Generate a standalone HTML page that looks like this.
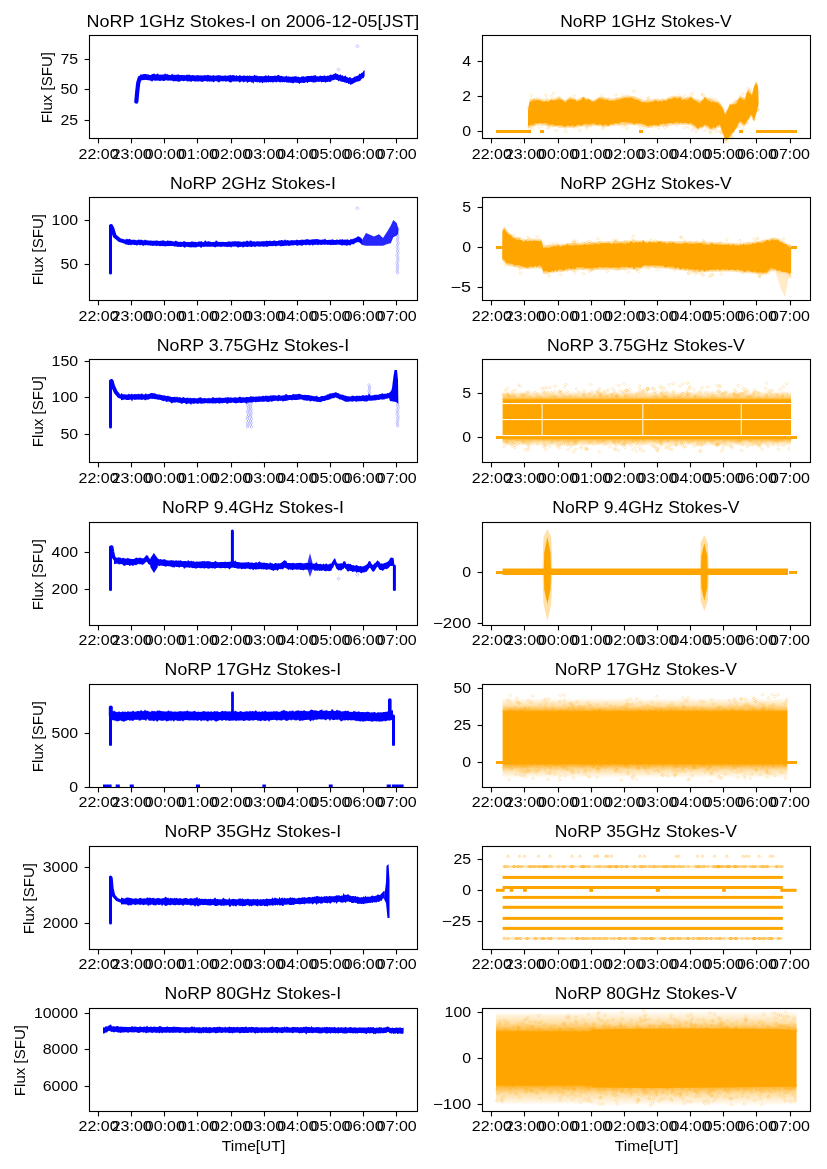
<!DOCTYPE html>
<html><head><meta charset="utf-8"><title>NoRP</title><style>html,body{margin:0;padding:0;background:#fff;width:827px;height:1169px;overflow:hidden}</style></head><body><svg width="827" height="1169" viewBox="0 0 827 1169" style="display:block;will-change:transform">
<defs><linearGradient id="up" x1="0" y1="1" x2="0" y2="0"><stop offset="0" stop-color="#ffa500" stop-opacity="1"/><stop offset="0.15" stop-color="#ffa500" stop-opacity="0.72"/><stop offset="0.45" stop-color="#ffa500" stop-opacity="0.35"/><stop offset="1" stop-color="#ffa500" stop-opacity="0"/></linearGradient><linearGradient id="dn" x1="0" y1="0" x2="0" y2="1"><stop offset="0" stop-color="#ffa500" stop-opacity="1"/><stop offset="0.15" stop-color="#ffa500" stop-opacity="0.72"/><stop offset="0.45" stop-color="#ffa500" stop-opacity="0.35"/><stop offset="1" stop-color="#ffa500" stop-opacity="0"/></linearGradient></defs>
<rect width="827" height="1169" fill="#ffffff"/>
<g>
<polyline points="136.3,101.6 137.3,91.0 138.2,83.2 139.7,78.0 141.0,77.4" fill="none" stroke="#0000ff" stroke-width="4.2" stroke-linejoin="round" stroke-linecap="round"/>
<polygon points="140.0,74.8 141.0,74.5 142.0,74.4 143.0,74.2 144.0,73.9 145.0,74.1 146.0,74.0 147.0,74.5 148.0,74.2 149.0,74.7 150.0,75.1 151.0,75.1 152.0,74.1 153.0,73.9 154.0,73.4 155.0,74.1 156.0,74.8 157.0,73.6 158.0,73.8 159.1,74.7 160.1,74.5 161.1,74.7 162.1,74.6 163.1,74.6 164.1,74.6 165.1,73.2 166.1,74.6 167.1,73.7 168.1,74.8 169.1,74.7 170.1,75.1 171.1,75.1 172.1,73.6 173.1,75.0 174.1,74.6 175.1,75.3 176.1,74.4 177.1,74.9 178.1,73.9 179.1,75.1 180.1,75.1 181.1,75.1 182.1,75.0 183.1,75.2 184.1,74.7 185.1,75.4 186.1,75.1 187.1,74.5 188.1,74.9 189.1,74.5 190.1,74.9 191.1,75.5 192.1,75.0 193.1,75.3 194.1,75.3 195.1,75.6 196.2,75.4 197.2,75.0 198.2,75.3 199.2,75.6 200.2,75.2 201.2,75.5 202.2,75.4 203.2,75.6 204.2,75.2 205.2,74.9 206.2,75.6 207.2,75.0 208.2,74.7 209.2,75.5 210.2,75.3 211.2,75.8 212.2,75.8 213.2,74.9 214.2,75.4 215.2,75.7 216.2,75.5 217.2,75.5 218.2,75.0 219.2,75.6 220.2,75.3 221.2,75.8 222.2,75.8 223.2,75.7 224.2,75.8 225.2,75.2 226.2,75.7 227.2,75.8 228.2,75.6 229.2,75.6 230.2,74.7 231.2,75.6 232.2,75.2 233.2,75.0 234.3,75.3 235.3,75.9 236.3,75.1 237.3,75.9 238.3,75.9 239.3,75.3 240.3,75.3 241.3,76.0 242.3,75.9 243.3,75.6 244.3,75.5 245.3,75.8 246.3,75.9 247.3,75.4 248.3,76.0 249.3,75.5 250.3,75.8 251.3,76.1 252.3,75.8 253.3,76.2 254.3,74.7 255.3,75.6 256.3,75.4 257.3,75.7 258.3,76.3 259.3,76.0 260.3,76.3 261.3,76.0 262.3,76.2 263.3,76.3 264.3,76.0 265.3,75.5 266.3,75.4 267.3,76.3 268.3,75.1 269.3,75.9 270.3,76.1 271.4,76.0 272.4,76.1 273.4,75.9 274.4,75.7 275.4,75.5 276.4,76.1 277.4,75.3 278.4,74.8 279.4,75.5 280.4,76.1 281.4,75.8 282.4,76.3 283.4,76.6 284.4,76.5 285.4,76.6 286.4,75.6 287.4,76.7 288.4,76.2 289.4,76.7 290.4,76.8 291.4,76.7 292.4,76.4 293.4,76.8 294.4,76.3 295.4,76.2 296.4,76.2 297.4,77.0 298.4,76.4 299.4,77.2 300.4,77.2 301.4,76.6 302.4,76.5 303.4,76.3 304.4,76.8 305.4,76.8 306.4,76.3 307.4,76.0 308.5,76.1 309.5,76.0 310.5,75.9 311.5,75.8 312.5,76.0 313.5,75.6 314.5,75.6 315.5,75.0 316.5,76.3 317.5,76.3 318.5,76.4 319.5,75.9 320.5,75.6 321.5,76.0 322.5,75.9 323.5,76.0 324.5,75.3 325.5,75.9 326.5,76.3 327.5,75.5 328.5,75.8 329.5,75.3 330.5,74.5 331.5,74.8 332.5,74.9 333.5,74.0 334.5,73.8 335.5,72.9 336.5,73.7 337.5,74.1 338.5,74.7 339.5,75.0 340.5,74.2 341.5,75.8 342.5,75.0 343.5,76.4 344.5,76.1 345.5,75.4 346.6,77.0 347.6,77.3 348.6,77.9 349.6,76.9 350.6,77.4 351.6,78.4 352.6,78.0 353.6,77.4 354.6,76.5 355.6,76.5 356.6,76.0 357.6,75.7 358.6,75.1 359.6,73.5 360.6,74.1 361.6,72.8 362.6,72.4 363.6,70.8 364.6,70.1 364.6,75.9 363.6,78.2 362.6,78.2 361.6,78.7 360.6,80.4 359.6,81.0 358.6,81.5 357.6,81.4 356.6,81.7 355.6,82.2 354.6,82.7 353.6,83.2 352.6,84.1 351.6,84.3 350.6,84.9 349.6,83.5 348.6,84.2 347.6,82.8 346.6,83.3 345.5,82.5 344.5,82.6 343.5,81.9 342.5,81.7 341.5,81.7 340.5,81.4 339.5,80.5 338.5,81.4 337.5,80.0 336.5,80.0 335.5,79.6 334.5,79.7 333.5,80.3 332.5,80.3 331.5,80.7 330.5,82.1 329.5,81.9 328.5,81.6 327.5,82.0 326.5,82.0 325.5,82.7 324.5,81.9 323.5,81.9 322.5,82.0 321.5,82.4 320.5,81.6 319.5,81.7 318.5,82.1 317.5,81.6 316.5,82.0 315.5,82.2 314.5,82.4 313.5,82.5 312.5,82.2 311.5,82.1 310.5,81.7 309.5,82.1 308.5,82.1 307.4,83.2 306.4,82.0 305.4,82.4 304.4,83.1 303.4,83.1 302.4,82.7 301.4,82.7 300.4,83.1 299.4,83.9 298.4,83.1 297.4,82.7 296.4,82.7 295.4,82.6 294.4,82.4 293.4,83.2 292.4,83.2 291.4,82.8 290.4,82.8 289.4,82.6 288.4,82.7 287.4,82.6 286.4,82.4 285.4,81.9 284.4,82.3 283.4,82.1 282.4,82.6 281.4,81.8 280.4,82.6 279.4,82.2 278.4,81.8 277.4,81.7 276.4,82.5 275.4,82.0 274.4,81.7 273.4,82.6 272.4,82.5 271.4,81.9 270.3,82.3 269.3,82.1 268.3,82.4 267.3,81.7 266.3,82.8 265.3,82.0 264.3,82.6 263.3,82.3 262.3,83.6 261.3,82.0 260.3,82.5 259.3,82.7 258.3,81.7 257.3,82.5 256.3,82.0 255.3,82.0 254.3,81.6 253.3,83.7 252.3,82.3 251.3,82.6 250.3,81.6 249.3,81.9 248.3,81.9 247.3,82.9 246.3,81.5 245.3,81.5 244.3,82.0 243.3,82.5 242.3,81.3 241.3,81.4 240.3,82.3 239.3,82.5 238.3,81.3 237.3,81.6 236.3,81.4 235.3,81.6 234.3,81.6 233.2,81.5 232.2,81.6 231.2,82.5 230.2,82.6 229.2,82.0 228.2,81.3 227.2,81.3 226.2,81.7 225.2,81.6 224.2,81.1 223.2,81.5 222.2,81.3 221.2,81.3 220.2,81.3 219.2,82.4 218.2,82.3 217.2,81.3 216.2,81.3 215.2,81.1 214.2,81.9 213.2,82.3 212.2,81.2 211.2,81.8 210.2,81.2 209.2,81.7 208.2,81.3 207.2,81.8 206.2,81.2 205.2,81.1 204.2,81.3 203.2,81.5 202.2,81.9 201.2,81.8 200.2,81.3 199.2,81.3 198.2,81.8 197.2,81.2 196.2,81.4 195.1,81.6 194.1,81.6 193.1,81.1 192.1,80.9 191.1,82.2 190.1,81.0 189.1,81.4 188.1,81.2 187.1,81.5 186.1,80.7 185.1,80.7 184.1,80.9 183.1,81.2 182.1,80.8 181.1,80.8 180.1,81.5 179.1,81.8 178.1,81.4 177.1,81.4 176.1,80.9 175.1,81.3 174.1,81.3 173.1,81.6 172.1,80.5 171.1,80.7 170.1,80.5 169.1,80.4 168.1,80.7 167.1,80.4 166.1,80.3 165.1,80.4 164.1,81.0 163.1,81.0 162.1,80.4 161.1,80.5 160.1,81.3 159.1,80.8 158.0,80.6 157.0,80.8 156.0,80.4 155.0,81.0 154.0,80.3 153.0,80.4 152.0,81.9 151.0,80.5 150.0,80.8 149.0,80.3 148.0,80.2 147.0,80.0 146.0,80.0 145.0,79.8 144.0,80.2 143.0,79.9 142.0,80.2 141.0,80.5 140.0,80.2" fill="#0000ff"/>
<path d="M338.5 67.9L340.1 69.5L338.5 71.1L336.9 69.5Z" fill="none" stroke="#0000ff" stroke-width="0.7" stroke-opacity="0.35"/>
<path d="M357.4 44.7L359.0 46.3L357.4 47.9L355.8 46.3Z" fill="none" stroke="#0000ff" stroke-width="0.7" stroke-opacity="0.35"/>
<rect x="496.0" y="130.0" width="35.0" height="3.0" fill="#ffa500"/>
<rect x="540.0" y="130.0" width="4.0" height="3.0" fill="#ffa500"/>
<rect x="639.0" y="130.0" width="4.0" height="3.0" fill="#ffa500"/>
<rect x="739.0" y="130.0" width="4.0" height="3.0" fill="#ffa500"/>
<rect x="756.0" y="130.0" width="41.0" height="3.0" fill="#ffa500"/>
<polygon points="528.0,108.0 529.5,101.0 533.0,98.5 537.0,97.6 545.0,99.5 560.0,97.0 565.0,100.0 570.0,96.5 577.0,99.0 583.0,96.5 593.0,100.0 600.0,96.5 612.0,98.5 620.0,97.0 632.0,95.5 643.0,100.0 655.0,99.0 665.0,99.0 673.0,95.5 685.0,98.0 690.0,96.0 700.0,100.8 705.0,96.0 712.0,99.9 718.0,100.8 722.0,105.0 725.0,112.5 730.0,103.8 736.4,100.8 740.0,95.0 745.0,98.0 748.0,88.3 752.0,93.0 755.8,80.5 758.0,84.0 758.5,101.0 758.5,107.0 754.0,122.3 751.0,116.5 747.0,123.3 744.0,127.2 740.0,123.3 735.0,131.0 729.0,139.7 725.0,141.0 720.0,127.2 712.0,130.0 705.0,127.2 698.0,130.0 690.0,125.0 675.0,125.0 665.0,126.0 650.0,128.0 640.0,126.0 625.0,124.5 605.0,127.0 593.0,126.0 577.0,127.0 565.0,128.5 555.0,127.0 540.0,125.0 528.0,127.7" fill="#ffa500" fill-opacity="0.3"/>
<polygon points="528.0,109.5 529.5,102.5 533.0,100.0 537.0,99.1 545.0,101.0 560.0,98.5 565.0,101.5 570.0,98.0 577.0,100.5 583.0,98.0 593.0,101.5 600.0,98.0 612.0,100.0 620.0,98.5 632.0,97.0 643.0,101.5 655.0,100.5 665.0,100.5 673.0,97.0 685.0,99.5 690.0,97.5 700.0,102.3 705.0,97.5 712.0,101.4 718.0,102.3 722.0,106.5 725.0,114.0 730.0,105.3 736.4,102.3 740.0,96.5 745.0,99.5 748.0,89.8 752.0,94.5 755.8,82.0 758.0,85.5 758.5,102.5 758.5,105.5 754.0,120.8 751.0,115.0 747.0,121.8 744.0,125.7 740.0,121.8 735.0,129.5 729.0,138.2 725.0,139.5 720.0,125.7 712.0,128.5 705.0,125.7 698.0,128.5 690.0,123.5 675.0,123.5 665.0,124.5 650.0,126.5 640.0,124.5 625.0,123.0 605.0,125.5 593.0,124.5 577.0,125.5 565.0,127.0 555.0,125.5 540.0,123.5 528.0,126.2" fill="#ffa500" fill-opacity="0.3"/>
<path d="M713.1 101.1l1.5 1.5l-1.5 1.5l-1.5 -1.5zM680.7 96.4l1.5 1.5l-1.5 1.5l-1.5 -1.5zM711.7 99.9l1.5 1.5l-1.5 1.5l-1.5 -1.5zM748.2 86.8l1.5 1.5l-1.5 1.5l-1.5 -1.5zM631.5 96.7l1.5 1.5l-1.5 1.5l-1.5 -1.5zM587.5 99.2l1.5 1.5l-1.5 1.5l-1.5 -1.5zM648.1 97.0l1.5 1.5l-1.5 1.5l-1.5 -1.5zM699.1 99.3l1.5 1.5l-1.5 1.5l-1.5 -1.5zM626.4 96.9l1.5 1.5l-1.5 1.5l-1.5 -1.5zM713.3 98.8l1.5 1.5l-1.5 1.5l-1.5 -1.5zM681.0 96.6l1.5 1.5l-1.5 1.5l-1.5 -1.5zM710.2 98.2l1.5 1.5l-1.5 1.5l-1.5 -1.5zM588.7 98.8l1.5 1.5l-1.5 1.5l-1.5 -1.5zM599.4 97.4l1.5 1.5l-1.5 1.5l-1.5 -1.5zM735.1 99.8l1.5 1.5l-1.5 1.5l-1.5 -1.5zM669.4 97.1l1.5 1.5l-1.5 1.5l-1.5 -1.5zM639.9 99.9l1.5 1.5l-1.5 1.5l-1.5 -1.5zM637.4 97.0l1.5 1.5l-1.5 1.5l-1.5 -1.5zM608.7 97.7l1.5 1.5l-1.5 1.5l-1.5 -1.5zM758.3 90.8l1.5 1.5l-1.5 1.5l-1.5 -1.5zM545.8 93.6l1.5 1.5l-1.5 1.5l-1.5 -1.5zM711.1 96.7l1.5 1.5l-1.5 1.5l-1.5 -1.5zM713.5 101.0l1.5 1.5l-1.5 1.5l-1.5 -1.5zM558.4 96.2l1.5 1.5l-1.5 1.5l-1.5 -1.5zM718.8 102.9l1.5 1.5l-1.5 1.5l-1.5 -1.5zM531.3 93.9l1.5 1.5l-1.5 1.5l-1.5 -1.5zM737.8 99.4l1.5 1.5l-1.5 1.5l-1.5 -1.5zM719.1 102.6l1.5 1.5l-1.5 1.5l-1.5 -1.5zM722.0 106.4l1.5 1.5l-1.5 1.5l-1.5 -1.5zM668.2 98.4l1.5 1.5l-1.5 1.5l-1.5 -1.5zM674.6 97.3l1.5 1.5l-1.5 1.5l-1.5 -1.5zM677.2 97.6l1.5 1.5l-1.5 1.5l-1.5 -1.5zM630.3 97.0l1.5 1.5l-1.5 1.5l-1.5 -1.5zM616.4 98.7l1.5 1.5l-1.5 1.5l-1.5 -1.5zM603.6 97.0l1.5 1.5l-1.5 1.5l-1.5 -1.5zM679.9 95.9l1.5 1.5l-1.5 1.5l-1.5 -1.5zM648.7 96.2l1.5 1.5l-1.5 1.5l-1.5 -1.5zM622.7 97.8l1.5 1.5l-1.5 1.5l-1.5 -1.5zM686.0 98.0l1.5 1.5l-1.5 1.5l-1.5 -1.5zM743.5 97.3l1.5 1.5l-1.5 1.5l-1.5 -1.5zM531.2 100.2l1.5 1.5l-1.5 1.5l-1.5 -1.5zM749.2 89.6l1.5 1.5l-1.5 1.5l-1.5 -1.5zM717.7 101.1l1.5 1.5l-1.5 1.5l-1.5 -1.5zM668.2 98.9l1.5 1.5l-1.5 1.5l-1.5 -1.5zM574.7 99.4l1.5 1.5l-1.5 1.5l-1.5 -1.5zM620.8 97.4l1.5 1.5l-1.5 1.5l-1.5 -1.5zM656.6 97.9l1.5 1.5l-1.5 1.5l-1.5 -1.5zM583.3 97.3l1.5 1.5l-1.5 1.5l-1.5 -1.5zM533.7 99.5l1.5 1.5l-1.5 1.5l-1.5 -1.5zM615.9 93.5l1.5 1.5l-1.5 1.5l-1.5 -1.5zM571.4 97.2l1.5 1.5l-1.5 1.5l-1.5 -1.5zM531.0 99.2l1.5 1.5l-1.5 1.5l-1.5 -1.5zM625.0 96.9l1.5 1.5l-1.5 1.5l-1.5 -1.5zM617.9 98.1l1.5 1.5l-1.5 1.5l-1.5 -1.5zM622.1 97.7l1.5 1.5l-1.5 1.5l-1.5 -1.5zM692.2 91.8l1.5 1.5l-1.5 1.5l-1.5 -1.5zM737.0 100.2l1.5 1.5l-1.5 1.5l-1.5 -1.5zM530.7 98.0l1.5 1.5l-1.5 1.5l-1.5 -1.5zM634.4 96.0l1.5 1.5l-1.5 1.5l-1.5 -1.5zM679.2 94.1l1.5 1.5l-1.5 1.5l-1.5 -1.5zM647.4 99.7l1.5 1.5l-1.5 1.5l-1.5 -1.5zM558.3 98.7l1.5 1.5l-1.5 1.5l-1.5 -1.5zM566.1 100.3l1.5 1.5l-1.5 1.5l-1.5 -1.5zM744.9 97.3l1.5 1.5l-1.5 1.5l-1.5 -1.5zM534.3 98.7l1.5 1.5l-1.5 1.5l-1.5 -1.5zM623.0 93.6l1.5 1.5l-1.5 1.5l-1.5 -1.5zM623.3 96.1l1.5 1.5l-1.5 1.5l-1.5 -1.5zM588.9 99.1l1.5 1.5l-1.5 1.5l-1.5 -1.5zM546.4 97.0l1.5 1.5l-1.5 1.5l-1.5 -1.5zM640.7 97.3l1.5 1.5l-1.5 1.5l-1.5 -1.5zM659.9 100.3l1.5 1.5l-1.5 1.5l-1.5 -1.5zM590.0 99.5l1.5 1.5l-1.5 1.5l-1.5 -1.5zM708.5 98.4l1.5 1.5l-1.5 1.5l-1.5 -1.5zM750.6 88.8l1.5 1.5l-1.5 1.5l-1.5 -1.5zM687.2 96.7l1.5 1.5l-1.5 1.5l-1.5 -1.5zM687.6 97.4l1.5 1.5l-1.5 1.5l-1.5 -1.5zM551.6 95.0l1.5 1.5l-1.5 1.5l-1.5 -1.5zM633.9 89.8l1.5 1.5l-1.5 1.5l-1.5 -1.5zM696.7 98.6l1.5 1.5l-1.5 1.5l-1.5 -1.5zM626.4 94.8l1.5 1.5l-1.5 1.5l-1.5 -1.5zM583.9 97.2l1.5 1.5l-1.5 1.5l-1.5 -1.5zM601.7 94.0l1.5 1.5l-1.5 1.5l-1.5 -1.5zM746.9 93.0l1.5 1.5l-1.5 1.5l-1.5 -1.5zM533.6 98.8l1.5 1.5l-1.5 1.5l-1.5 -1.5zM685.3 97.9l1.5 1.5l-1.5 1.5l-1.5 -1.5zM703.2 93.9l1.5 1.5l-1.5 1.5l-1.5 -1.5zM681.5 98.4l1.5 1.5l-1.5 1.5l-1.5 -1.5zM662.9 98.0l1.5 1.5l-1.5 1.5l-1.5 -1.5zM573.0 99.0l1.5 1.5l-1.5 1.5l-1.5 -1.5zM684.3 94.2l1.5 1.5l-1.5 1.5l-1.5 -1.5zM574.3 94.4l1.5 1.5l-1.5 1.5l-1.5 -1.5zM601.2 97.2l1.5 1.5l-1.5 1.5l-1.5 -1.5zM715.5 98.0l1.5 1.5l-1.5 1.5l-1.5 -1.5zM742.6 92.7l1.5 1.5l-1.5 1.5l-1.5 -1.5zM528.5 106.3l1.5 1.5l-1.5 1.5l-1.5 -1.5zM662.3 99.8l1.5 1.5l-1.5 1.5l-1.5 -1.5zM724.2 108.6l1.5 1.5l-1.5 1.5l-1.5 -1.5zM702.3 92.9l1.5 1.5l-1.5 1.5l-1.5 -1.5zM691.1 94.3l1.5 1.5l-1.5 1.5l-1.5 -1.5zM559.3 96.8l1.5 1.5l-1.5 1.5l-1.5 -1.5zM746.7 91.7l1.5 1.5l-1.5 1.5l-1.5 -1.5zM602.3 98.1l1.5 1.5l-1.5 1.5l-1.5 -1.5zM558.9 98.4l1.5 1.5l-1.5 1.5l-1.5 -1.5zM691.8 97.4l1.5 1.5l-1.5 1.5l-1.5 -1.5zM628.2 94.8l1.5 1.5l-1.5 1.5l-1.5 -1.5zM678.6 97.1l1.5 1.5l-1.5 1.5l-1.5 -1.5zM616.9 97.7l1.5 1.5l-1.5 1.5l-1.5 -1.5zM630.5 96.9l1.5 1.5l-1.5 1.5l-1.5 -1.5zM675.9 95.6l1.5 1.5l-1.5 1.5l-1.5 -1.5zM553.7 91.6l1.5 1.5l-1.5 1.5l-1.5 -1.5z" fill="none" stroke="#ffa500" stroke-width="0.8" stroke-opacity="0.3"/>
<path d="M591.4 122.6l1.5 1.5l-1.5 1.5l-1.5 -1.5zM707.9 125.6l1.5 1.5l-1.5 1.5l-1.5 -1.5zM658.6 126.0l1.5 1.5l-1.5 1.5l-1.5 -1.5zM701.3 125.0l1.5 1.5l-1.5 1.5l-1.5 -1.5zM640.3 125.7l1.5 1.5l-1.5 1.5l-1.5 -1.5zM731.5 136.6l1.5 1.5l-1.5 1.5l-1.5 -1.5zM712.3 128.1l1.5 1.5l-1.5 1.5l-1.5 -1.5zM534.0 123.0l1.5 1.5l-1.5 1.5l-1.5 -1.5zM691.4 122.1l1.5 1.5l-1.5 1.5l-1.5 -1.5zM542.5 123.1l1.5 1.5l-1.5 1.5l-1.5 -1.5zM705.1 128.6l1.5 1.5l-1.5 1.5l-1.5 -1.5zM631.4 120.7l1.5 1.5l-1.5 1.5l-1.5 -1.5zM684.7 126.1l1.5 1.5l-1.5 1.5l-1.5 -1.5zM647.4 125.0l1.5 1.5l-1.5 1.5l-1.5 -1.5zM549.3 122.7l1.5 1.5l-1.5 1.5l-1.5 -1.5zM664.5 125.6l1.5 1.5l-1.5 1.5l-1.5 -1.5zM602.8 126.8l1.5 1.5l-1.5 1.5l-1.5 -1.5zM663.6 123.7l1.5 1.5l-1.5 1.5l-1.5 -1.5zM574.3 125.8l1.5 1.5l-1.5 1.5l-1.5 -1.5zM559.6 124.5l1.5 1.5l-1.5 1.5l-1.5 -1.5zM732.3 135.4l1.5 1.5l-1.5 1.5l-1.5 -1.5zM745.7 121.0l1.5 1.5l-1.5 1.5l-1.5 -1.5zM736.5 125.8l1.5 1.5l-1.5 1.5l-1.5 -1.5zM565.9 129.6l1.5 1.5l-1.5 1.5l-1.5 -1.5zM747.0 121.6l1.5 1.5l-1.5 1.5l-1.5 -1.5zM579.8 128.8l1.5 1.5l-1.5 1.5l-1.5 -1.5zM692.3 128.4l1.5 1.5l-1.5 1.5l-1.5 -1.5zM696.1 130.2l1.5 1.5l-1.5 1.5l-1.5 -1.5zM717.0 130.2l1.5 1.5l-1.5 1.5l-1.5 -1.5zM627.1 126.5l1.5 1.5l-1.5 1.5l-1.5 -1.5zM623.4 124.5l1.5 1.5l-1.5 1.5l-1.5 -1.5zM675.7 120.5l1.5 1.5l-1.5 1.5l-1.5 -1.5zM606.2 123.1l1.5 1.5l-1.5 1.5l-1.5 -1.5zM530.8 123.5l1.5 1.5l-1.5 1.5l-1.5 -1.5zM587.3 122.1l1.5 1.5l-1.5 1.5l-1.5 -1.5zM586.9 126.8l1.5 1.5l-1.5 1.5l-1.5 -1.5zM577.7 125.5l1.5 1.5l-1.5 1.5l-1.5 -1.5zM756.6 108.9l1.5 1.5l-1.5 1.5l-1.5 -1.5zM691.9 122.1l1.5 1.5l-1.5 1.5l-1.5 -1.5zM570.6 124.2l1.5 1.5l-1.5 1.5l-1.5 -1.5zM739.6 124.7l1.5 1.5l-1.5 1.5l-1.5 -1.5zM549.2 125.6l1.5 1.5l-1.5 1.5l-1.5 -1.5zM547.5 122.6l1.5 1.5l-1.5 1.5l-1.5 -1.5zM758.5 108.0l1.5 1.5l-1.5 1.5l-1.5 -1.5zM553.3 124.4l1.5 1.5l-1.5 1.5l-1.5 -1.5zM624.9 122.8l1.5 1.5l-1.5 1.5l-1.5 -1.5zM725.9 138.2l1.5 1.5l-1.5 1.5l-1.5 -1.5zM742.9 127.3l1.5 1.5l-1.5 1.5l-1.5 -1.5zM565.7 124.1l1.5 1.5l-1.5 1.5l-1.5 -1.5zM573.6 124.7l1.5 1.5l-1.5 1.5l-1.5 -1.5zM688.2 125.3l1.5 1.5l-1.5 1.5l-1.5 -1.5zM696.5 127.2l1.5 1.5l-1.5 1.5l-1.5 -1.5zM666.5 124.0l1.5 1.5l-1.5 1.5l-1.5 -1.5zM620.2 123.3l1.5 1.5l-1.5 1.5l-1.5 -1.5zM720.8 129.6l1.5 1.5l-1.5 1.5l-1.5 -1.5zM693.6 125.6l1.5 1.5l-1.5 1.5l-1.5 -1.5zM544.7 122.1l1.5 1.5l-1.5 1.5l-1.5 -1.5zM633.0 121.7l1.5 1.5l-1.5 1.5l-1.5 -1.5zM573.7 124.1l1.5 1.5l-1.5 1.5l-1.5 -1.5zM720.1 123.8l1.5 1.5l-1.5 1.5l-1.5 -1.5zM743.6 122.4l1.5 1.5l-1.5 1.5l-1.5 -1.5zM625.3 123.2l1.5 1.5l-1.5 1.5l-1.5 -1.5zM702.0 123.9l1.5 1.5l-1.5 1.5l-1.5 -1.5zM554.5 122.6l1.5 1.5l-1.5 1.5l-1.5 -1.5zM658.3 122.6l1.5 1.5l-1.5 1.5l-1.5 -1.5zM619.4 121.5l1.5 1.5l-1.5 1.5l-1.5 -1.5zM551.6 123.2l1.5 1.5l-1.5 1.5l-1.5 -1.5zM628.4 122.5l1.5 1.5l-1.5 1.5l-1.5 -1.5zM607.6 122.4l1.5 1.5l-1.5 1.5l-1.5 -1.5zM603.8 125.4l1.5 1.5l-1.5 1.5l-1.5 -1.5zM528.8 124.9l1.5 1.5l-1.5 1.5l-1.5 -1.5zM532.5 127.2l1.5 1.5l-1.5 1.5l-1.5 -1.5zM573.3 124.9l1.5 1.5l-1.5 1.5l-1.5 -1.5zM549.1 123.7l1.5 1.5l-1.5 1.5l-1.5 -1.5zM710.7 131.1l1.5 1.5l-1.5 1.5l-1.5 -1.5zM710.0 130.3l1.5 1.5l-1.5 1.5l-1.5 -1.5zM529.8 126.9l1.5 1.5l-1.5 1.5l-1.5 -1.5zM539.3 125.8l1.5 1.5l-1.5 1.5l-1.5 -1.5zM757.7 108.5l1.5 1.5l-1.5 1.5l-1.5 -1.5zM667.8 124.5l1.5 1.5l-1.5 1.5l-1.5 -1.5zM548.0 126.5l1.5 1.5l-1.5 1.5l-1.5 -1.5zM548.1 122.3l1.5 1.5l-1.5 1.5l-1.5 -1.5zM590.3 124.6l1.5 1.5l-1.5 1.5l-1.5 -1.5zM618.7 122.0l1.5 1.5l-1.5 1.5l-1.5 -1.5zM643.7 125.7l1.5 1.5l-1.5 1.5l-1.5 -1.5zM721.6 131.7l1.5 1.5l-1.5 1.5l-1.5 -1.5zM593.3 121.7l1.5 1.5l-1.5 1.5l-1.5 -1.5zM549.7 122.1l1.5 1.5l-1.5 1.5l-1.5 -1.5zM699.9 125.0l1.5 1.5l-1.5 1.5l-1.5 -1.5zM702.4 123.8l1.5 1.5l-1.5 1.5l-1.5 -1.5zM686.3 121.2l1.5 1.5l-1.5 1.5l-1.5 -1.5zM676.7 124.1l1.5 1.5l-1.5 1.5l-1.5 -1.5zM678.9 120.7l1.5 1.5l-1.5 1.5l-1.5 -1.5zM532.8 123.3l1.5 1.5l-1.5 1.5l-1.5 -1.5zM737.1 124.9l1.5 1.5l-1.5 1.5l-1.5 -1.5zM588.6 123.4l1.5 1.5l-1.5 1.5l-1.5 -1.5zM717.1 124.3l1.5 1.5l-1.5 1.5l-1.5 -1.5zM556.4 129.0l1.5 1.5l-1.5 1.5l-1.5 -1.5zM625.8 121.5l1.5 1.5l-1.5 1.5l-1.5 -1.5zM599.7 122.8l1.5 1.5l-1.5 1.5l-1.5 -1.5zM726.7 140.0l1.5 1.5l-1.5 1.5l-1.5 -1.5zM586.6 125.1l1.5 1.5l-1.5 1.5l-1.5 -1.5zM739.8 120.4l1.5 1.5l-1.5 1.5l-1.5 -1.5zM754.1 117.7l1.5 1.5l-1.5 1.5l-1.5 -1.5zM721.1 130.5l1.5 1.5l-1.5 1.5l-1.5 -1.5zM586.1 122.7l1.5 1.5l-1.5 1.5l-1.5 -1.5zM590.7 122.0l1.5 1.5l-1.5 1.5l-1.5 -1.5zM715.0 127.5l1.5 1.5l-1.5 1.5l-1.5 -1.5zM709.6 127.1l1.5 1.5l-1.5 1.5l-1.5 -1.5zM588.3 122.0l1.5 1.5l-1.5 1.5l-1.5 -1.5z" fill="none" stroke="#ffa500" stroke-width="0.8" stroke-opacity="0.3"/>
<polygon points="528.0,110.9 529.5,102.2 531.2,101.5 533.0,101.3 535.0,100.7 537.0,99.9 538.6,100.3 540.2,100.2 541.8,101.5 543.4,101.6 545.0,101.5 546.5,100.9 548.0,101.5 549.5,101.2 551.0,99.5 552.5,100.1 554.0,100.7 555.5,99.7 557.0,99.9 558.5,99.5 560.0,99.7 561.7,99.8 563.3,100.5 565.0,102.7 566.7,101.0 568.3,99.8 570.0,99.0 571.8,99.4 573.5,100.1 575.2,99.6 577.0,101.9 578.5,100.5 580.0,100.6 581.5,99.6 583.0,97.0 584.7,99.1 586.3,100.6 588.0,98.9 589.7,99.8 591.3,101.4 593.0,101.4 594.8,101.2 596.5,99.9 598.2,98.9 600.0,97.9 601.5,99.5 603.0,99.1 604.5,100.2 606.0,99.5 607.5,99.8 609.0,100.8 610.5,100.9 612.0,100.0 613.6,101.0 615.2,100.7 616.8,100.1 618.4,99.9 620.0,99.0 621.5,99.2 623.0,98.7 624.5,98.1 626.0,97.9 627.5,98.5 629.0,97.8 630.5,97.9 632.0,97.9 633.6,98.9 635.1,99.6 636.7,100.0 638.3,99.8 639.9,101.6 641.4,102.3 643.0,102.1 644.5,102.3 646.0,102.5 647.5,102.5 649.0,102.4 650.5,102.1 652.0,101.7 653.5,101.5 655.0,100.3 656.7,101.1 658.3,101.7 660.0,100.9 661.7,101.9 663.3,100.6 665.0,100.6 666.6,100.9 668.2,99.4 669.8,99.1 671.4,99.0 673.0,98.2 674.5,96.9 676.0,98.7 677.5,99.0 679.0,98.1 680.5,97.8 682.0,100.4 683.5,99.8 685.0,99.6 686.7,100.0 688.3,99.6 690.0,97.4 691.7,97.6 693.3,99.8 695.0,100.4 696.7,101.6 698.3,102.5 700.0,103.4 701.7,100.7 703.3,99.9 705.0,96.7 706.8,99.8 708.5,100.7 710.2,101.6 712.0,102.2 713.5,101.7 715.0,102.7 716.5,102.3 718.0,103.6 720.0,105.2 722.0,107.1 723.5,110.2 725.0,114.9 726.7,112.1 728.3,108.5 730.0,104.0 731.6,105.2 733.2,104.1 734.8,104.4 736.4,103.4 738.2,100.2 740.0,97.4 741.7,98.6 743.3,99.9 745.0,100.1 746.5,93.6 748.0,91.3 750.0,93.5 752.0,95.4 753.9,87.6 755.8,82.9 758.0,86.6 758.5,104.0 758.5,104.0 757.0,110.0 755.5,115.8 754.0,120.7 752.5,116.7 751.0,114.3 749.0,118.6 747.0,120.7 745.5,122.8 744.0,124.6 742.0,122.4 740.0,121.1 738.3,123.6 736.7,127.1 735.0,129.8 733.5,132.3 732.0,132.7 730.5,135.2 729.0,137.6 727.0,139.5 725.0,138.7 723.3,133.5 721.7,129.5 720.0,124.4 718.4,125.0 716.8,125.8 715.2,128.4 713.6,126.7 712.0,128.4 710.2,128.7 708.5,125.9 706.8,125.8 705.0,124.5 703.2,125.9 701.5,126.7 699.8,126.4 698.0,129.3 696.4,127.1 694.8,125.6 693.2,124.2 691.6,123.3 690.0,122.8 688.5,123.9 687.0,123.2 685.5,122.4 684.0,122.9 682.5,123.6 681.0,122.2 679.5,123.4 678.0,122.1 676.5,122.4 675.0,122.3 673.3,124.0 671.7,123.1 670.0,122.9 668.3,123.3 666.7,123.4 665.0,124.3 663.5,123.2 662.0,123.9 660.5,124.1 659.0,125.7 657.5,125.3 656.0,125.4 654.5,124.7 653.0,125.1 651.5,126.1 650.0,125.2 648.3,126.7 646.7,125.8 645.0,124.7 643.3,124.3 641.7,123.6 640.0,123.5 638.5,123.0 637.0,123.6 635.5,123.3 634.0,124.7 632.5,123.0 631.0,122.7 629.5,122.8 628.0,122.6 626.5,122.0 625.0,121.9 623.5,122.1 621.9,122.3 620.4,122.3 618.8,122.9 617.3,123.6 615.8,123.1 614.2,124.0 612.7,124.6 611.2,123.7 609.6,125.0 608.1,126.2 606.5,124.5 605.0,124.6 603.5,125.8 602.0,125.2 600.5,124.2 599.0,124.2 597.5,124.9 596.0,124.5 594.5,123.7 593.0,123.1 591.4,124.0 589.8,123.8 588.2,124.3 586.6,123.5 585.0,123.8 583.4,124.4 581.8,125.7 580.2,125.4 578.6,124.5 577.0,125.2 575.5,126.3 574.0,126.1 572.5,124.7 571.0,126.0 569.5,126.1 568.0,125.4 566.5,125.4 565.0,127.1 563.3,126.2 561.7,125.5 560.0,124.8 558.3,125.3 556.7,125.5 555.0,125.4 553.5,124.4 552.0,124.3 550.5,124.6 549.0,124.2 547.5,123.6 546.0,122.9 544.5,122.7 543.0,123.3 541.5,123.2 540.0,122.8 538.5,123.4 537.0,123.3 535.5,123.1 534.0,124.4 532.5,124.3 531.0,124.9 529.5,125.0 528.0,126.5" fill="#ffa500"/>
<polyline points="110.5,273.0 110.5,226.0" fill="none" stroke="#0000ff" stroke-width="3.0" stroke-linejoin="round" stroke-linecap="round"/>
<polyline points="111.0,226.0 112.5,229.0 114.7,236.0 119.8,240.2 126.0,242.0" fill="none" stroke="#0000ff" stroke-width="4" stroke-linejoin="round" stroke-linecap="round"/>
<polygon points="125.0,239.8 126.0,239.4 127.0,238.6 128.0,239.6 129.0,239.0 130.0,238.8 131.0,239.9 132.0,239.7 133.0,239.8 134.0,239.8 135.0,239.8 136.0,240.2 137.0,240.2 138.0,239.8 139.0,239.5 140.0,240.1 141.0,239.4 142.0,239.9 143.0,240.2 144.0,240.5 145.0,239.5 146.0,240.0 147.0,240.5 148.0,240.3 149.0,240.7 150.0,240.4 151.0,240.5 152.0,240.8 153.0,240.7 154.0,240.8 155.0,240.8 156.0,240.6 157.0,240.6 158.0,240.8 159.0,241.0 160.0,241.0 161.0,240.6 162.0,241.0 163.0,240.1 164.0,240.8 165.0,241.1 166.0,241.2 167.0,240.8 168.0,240.3 169.0,241.3 170.0,240.6 171.0,241.0 172.0,240.9 173.0,241.5 174.0,241.5 175.0,241.3 176.0,240.5 177.0,241.4 178.0,241.5 179.0,241.9 180.0,241.7 181.0,241.8 182.0,242.0 183.0,241.7 184.0,241.1 185.0,241.5 186.0,242.1 187.0,242.1 188.0,242.1 189.0,242.0 190.0,242.1 191.0,241.8 192.0,241.2 193.0,241.8 194.0,241.8 195.0,242.1 196.0,241.8 197.0,242.2 198.0,242.1 199.0,241.0 200.0,241.9 201.0,241.0 202.0,241.6 203.0,242.2 204.0,241.9 205.0,240.3 206.0,241.1 207.0,242.1 208.0,241.0 209.0,241.4 210.0,241.5 211.0,241.9 212.0,242.0 213.0,242.0 214.0,241.7 215.0,242.1 216.0,240.3 217.0,241.0 218.0,242.0 219.0,241.7 220.0,241.9 221.0,241.7 222.0,242.0 223.0,241.8 224.0,241.9 225.0,242.0 226.0,242.0 227.0,242.0 228.0,241.6 229.0,241.3 230.0,241.7 231.0,241.6 232.0,241.7 233.0,240.9 234.0,241.8 235.0,240.8 236.0,241.4 237.0,241.6 238.0,240.9 239.0,241.4 240.0,241.5 241.0,241.8 242.0,241.9 243.0,241.4 244.0,241.2 245.0,241.7 246.0,241.3 247.0,240.4 248.0,241.1 249.0,241.8 250.0,240.6 251.0,240.4 252.0,241.2 253.0,241.4 254.0,241.2 255.0,241.4 256.0,241.7 257.0,241.0 258.0,241.5 259.0,241.3 260.0,241.6 261.0,241.6 262.0,240.9 263.0,241.5 264.0,240.8 265.0,241.4 266.0,240.8 267.0,240.7 268.0,241.1 269.0,241.0 270.0,240.5 271.0,241.2 272.0,240.9 273.0,241.1 274.0,240.3 275.0,240.8 276.0,240.9 277.0,241.1 278.0,241.0 279.0,240.1 280.0,240.8 281.0,239.9 282.0,240.0 283.0,240.6 284.0,240.5 285.0,239.3 286.0,240.5 287.0,240.3 288.0,240.1 289.0,240.7 290.0,240.5 291.0,240.3 292.0,239.9 293.0,240.6 294.0,239.9 295.0,240.4 296.0,240.1 297.0,239.6 298.0,240.3 299.0,240.1 300.0,240.3 301.0,239.8 302.0,239.4 303.0,240.1 304.0,239.4 305.0,239.9 306.0,238.9 307.0,239.6 308.0,239.0 309.0,239.7 310.0,239.7 311.0,239.8 312.0,239.3 313.0,239.6 314.0,238.9 315.0,239.6 316.0,239.1 317.0,238.9 318.0,239.2 319.0,239.5 320.0,239.8 321.0,239.7 322.0,239.7 323.0,239.3 324.0,239.7 325.0,238.6 326.0,239.7 327.0,239.9 328.0,239.9 329.0,239.8 330.0,239.8 331.0,239.9 332.0,239.3 333.0,239.6 334.0,239.9 335.0,239.9 336.0,240.0 337.0,239.2 338.0,240.0 339.0,240.0 340.0,239.0 341.0,239.9 342.0,238.9 343.0,239.6 344.0,239.9 345.0,239.2 346.0,240.1 347.0,239.3 348.0,239.4 349.0,240.2 350.0,239.7 351.0,238.8 352.0,239.6 353.0,238.8 354.0,238.4 355.0,238.3 356.0,237.5 357.0,237.2 358.0,236.0 359.0,236.7 360.0,237.0 361.0,238.1 362.0,238.9 362.0,244.9 361.0,243.8 360.0,242.9 359.0,242.3 358.0,242.0 357.0,242.5 356.0,242.5 355.0,243.2 354.0,244.1 353.0,244.6 352.0,244.1 351.0,244.7 350.0,245.7 349.0,244.9 348.0,245.1 347.0,246.3 346.0,244.9 345.0,245.5 344.0,245.1 343.0,245.3 342.0,245.8 341.0,244.8 340.0,245.1 339.0,244.6 338.0,244.7 337.0,244.5 336.0,245.1 335.0,244.7 334.0,244.9 333.0,245.1 332.0,244.7 331.0,245.3 330.0,244.9 329.0,244.5 328.0,244.9 327.0,244.7 326.0,244.5 325.0,244.7 324.0,244.9 323.0,244.3 322.0,245.1 321.0,244.9 320.0,244.7 319.0,244.5 318.0,245.6 317.0,244.5 316.0,244.7 315.0,244.9 314.0,244.5 313.0,245.7 312.0,244.9 311.0,244.5 310.0,245.6 309.0,245.3 308.0,244.8 307.0,244.8 306.0,245.5 305.0,244.7 304.0,244.9 303.0,245.0 302.0,246.0 301.0,245.2 300.0,245.6 299.0,245.0 298.0,245.4 297.0,246.0 296.0,245.1 295.0,245.1 294.0,245.2 293.0,245.4 292.0,245.2 291.0,245.6 290.0,245.5 289.0,246.3 288.0,245.5 287.0,245.5 286.0,246.0 285.0,245.6 284.0,246.3 283.0,246.0 282.0,246.0 281.0,246.6 280.0,245.9 279.0,245.6 278.0,245.8 277.0,245.8 276.0,246.4 275.0,246.0 274.0,245.8 273.0,246.3 272.0,246.0 271.0,246.2 270.0,245.9 269.0,246.3 268.0,246.3 267.0,247.2 266.0,246.3 265.0,246.4 264.0,246.7 263.0,246.7 262.0,246.2 261.0,246.6 260.0,246.8 259.0,246.6 258.0,246.6 257.0,246.3 256.0,246.5 255.0,247.2 254.0,246.5 253.0,246.5 252.0,246.8 251.0,247.2 250.0,246.6 249.0,246.4 248.0,247.0 247.0,247.0 246.0,246.7 245.0,246.4 244.0,247.0 243.0,247.7 242.0,246.4 241.0,246.9 240.0,246.7 239.0,247.2 238.0,247.4 237.0,246.9 236.0,246.6 235.0,246.5 234.0,246.6 233.0,246.8 232.0,246.5 231.0,247.7 230.0,246.6 229.0,247.0 228.0,246.8 227.0,247.2 226.0,246.6 225.0,247.0 224.0,246.6 223.0,246.6 222.0,246.7 221.0,246.9 220.0,246.8 219.0,246.5 218.0,246.7 217.0,246.6 216.0,246.9 215.0,247.5 214.0,246.7 213.0,246.8 212.0,246.6 211.0,246.7 210.0,246.7 209.0,246.8 208.0,246.7 207.0,246.7 206.0,246.8 205.0,246.6 204.0,247.3 203.0,246.6 202.0,246.9 201.0,248.2 200.0,246.7 199.0,246.7 198.0,246.8 197.0,247.0 196.0,247.4 195.0,247.2 194.0,247.4 193.0,246.9 192.0,247.5 191.0,247.2 190.0,247.5 189.0,246.9 188.0,246.9 187.0,246.8 186.0,246.8 185.0,247.8 184.0,247.5 183.0,246.5 182.0,246.7 181.0,247.1 180.0,247.1 179.0,246.7 178.0,247.0 177.0,246.8 176.0,246.2 175.0,246.7 174.0,246.3 173.0,246.1 172.0,246.1 171.0,246.0 170.0,246.1 169.0,246.0 168.0,246.3 167.0,246.1 166.0,246.3 165.0,246.4 164.0,246.1 163.0,246.2 162.0,246.0 161.0,246.1 160.0,246.3 159.0,245.9 158.0,245.5 157.0,246.1 156.0,245.9 155.0,245.4 154.0,245.8 153.0,246.0 152.0,245.7 151.0,245.6 150.0,245.7 149.0,245.3 148.0,245.6 147.0,245.1 146.0,245.3 145.0,245.2 144.0,245.3 143.0,246.3 142.0,245.0 141.0,244.9 140.0,245.5 139.0,244.7 138.0,244.8 137.0,245.7 136.0,245.0 135.0,245.0 134.0,245.1 133.0,244.5 132.0,244.7 131.0,245.5 130.0,244.5 129.0,245.2 128.0,244.9 127.0,244.4 126.0,244.5 125.0,244.3" fill="#0000ff"/>
<polygon points="362.0,240.0 366.0,233.0 374.0,236.4 379.0,234.3 383.0,238.0 387.4,231.3 390.8,225.4 393.3,220.0 396.7,223.0 398.5,229.0 398.0,234.0 396.7,235.6 393.3,237.3 390.8,243.2 387.4,244.0 383.0,245.7 366.0,245.7 362.0,245.0" fill="#0000ff" fill-opacity="0.85"/>
<path d="M397.9 227.5l1.5 1.5l-1.5 1.5l-1.5 -1.5zM397.2 229.5l1.5 1.5l-1.5 1.5l-1.5 -1.5zM397.6 231.5l1.5 1.5l-1.5 1.5l-1.5 -1.5zM397.6 233.5l1.5 1.5l-1.5 1.5l-1.5 -1.5zM397.9 235.5l1.5 1.5l-1.5 1.5l-1.5 -1.5zM397.6 237.5l1.5 1.5l-1.5 1.5l-1.5 -1.5zM397.3 239.5l1.5 1.5l-1.5 1.5l-1.5 -1.5zM398.2 241.5l1.5 1.5l-1.5 1.5l-1.5 -1.5zM397.6 243.5l1.5 1.5l-1.5 1.5l-1.5 -1.5zM397.1 245.5l1.5 1.5l-1.5 1.5l-1.5 -1.5zM398.0 247.5l1.5 1.5l-1.5 1.5l-1.5 -1.5zM397.4 249.5l1.5 1.5l-1.5 1.5l-1.5 -1.5zM398.1 251.5l1.5 1.5l-1.5 1.5l-1.5 -1.5zM397.0 253.5l1.5 1.5l-1.5 1.5l-1.5 -1.5zM397.9 255.5l1.5 1.5l-1.5 1.5l-1.5 -1.5zM397.8 257.5l1.5 1.5l-1.5 1.5l-1.5 -1.5zM397.9 259.5l1.5 1.5l-1.5 1.5l-1.5 -1.5zM397.0 261.5l1.5 1.5l-1.5 1.5l-1.5 -1.5zM397.6 263.5l1.5 1.5l-1.5 1.5l-1.5 -1.5zM397.6 265.5l1.5 1.5l-1.5 1.5l-1.5 -1.5zM397.4 267.5l1.5 1.5l-1.5 1.5l-1.5 -1.5zM397.1 269.5l1.5 1.5l-1.5 1.5l-1.5 -1.5zM397.7 271.5l1.5 1.5l-1.5 1.5l-1.5 -1.5z" fill="none" stroke="#0000ff" stroke-width="0.7" stroke-opacity="0.3"/>
<path d="M357.4 206.7L359.0 208.3L357.4 209.9L355.8 208.3Z" fill="none" stroke="#0000ff" stroke-width="0.7" stroke-opacity="0.35"/>
<rect x="496.0" y="246.0" width="6.5" height="3.0" fill="#ffa500"/>
<rect x="791.0" y="246.0" width="6.0" height="3.0" fill="#ffa500"/>
<polygon points="502.3,254.0 502.5,229.0 504.2,226.0 507.6,231.3 514.3,237.1 524.0,239.0 533.7,238.6 541.4,239.0 543.4,245.5 553.0,244.5 575.0,243.0 600.0,241.5 640.0,240.4 690.0,241.3 739.0,243.0 758.7,241.0 773.2,237.6 778.0,238.1 787.7,244.0 791.1,245.0 791.1,276.0 789.6,276.0 771.3,270.2 766.4,275.0 730.0,271.5 700.0,272.5 657.0,267.7 645.0,267.5 640.0,269.6 575.0,270.2 543.4,274.0 541.4,268.3 524.0,269.3 506.6,265.4 502.7,260.6 502.3,260.0" fill="#ffa500" fill-opacity="0.3"/>
<polygon points="502.3,255.5 502.5,230.5 504.2,227.5 507.6,232.8 514.3,238.6 524.0,240.5 533.7,240.1 541.4,240.5 543.4,247.0 553.0,246.0 575.0,244.5 600.0,243.0 640.0,241.9 690.0,242.8 739.0,244.5 758.7,242.5 773.2,239.1 778.0,239.6 787.7,245.5 791.1,246.5 791.1,274.5 789.6,274.5 771.3,268.7 766.4,273.5 730.0,270.0 700.0,271.0 657.0,266.2 645.0,266.0 640.0,268.1 575.0,268.7 543.4,272.5 541.4,266.8 524.0,267.8 506.6,263.9 502.7,259.1 502.3,258.5" fill="#ffa500" fill-opacity="0.3"/>
<path d="M608.0 240.9l1.5 1.5l-1.5 1.5l-1.5 -1.5zM615.1 239.9l1.5 1.5l-1.5 1.5l-1.5 -1.5zM541.1 240.1l1.5 1.5l-1.5 1.5l-1.5 -1.5zM527.9 235.6l1.5 1.5l-1.5 1.5l-1.5 -1.5zM729.3 243.8l1.5 1.5l-1.5 1.5l-1.5 -1.5zM583.4 241.3l1.5 1.5l-1.5 1.5l-1.5 -1.5zM519.0 239.4l1.5 1.5l-1.5 1.5l-1.5 -1.5zM556.8 242.0l1.5 1.5l-1.5 1.5l-1.5 -1.5zM574.0 241.1l1.5 1.5l-1.5 1.5l-1.5 -1.5zM549.5 243.9l1.5 1.5l-1.5 1.5l-1.5 -1.5zM697.1 240.5l1.5 1.5l-1.5 1.5l-1.5 -1.5zM552.6 244.5l1.5 1.5l-1.5 1.5l-1.5 -1.5zM575.3 243.5l1.5 1.5l-1.5 1.5l-1.5 -1.5zM598.2 237.1l1.5 1.5l-1.5 1.5l-1.5 -1.5zM556.0 244.5l1.5 1.5l-1.5 1.5l-1.5 -1.5zM728.1 243.9l1.5 1.5l-1.5 1.5l-1.5 -1.5zM726.9 238.2l1.5 1.5l-1.5 1.5l-1.5 -1.5zM681.3 236.2l1.5 1.5l-1.5 1.5l-1.5 -1.5zM633.7 238.3l1.5 1.5l-1.5 1.5l-1.5 -1.5zM790.0 244.5l1.5 1.5l-1.5 1.5l-1.5 -1.5zM633.2 234.5l1.5 1.5l-1.5 1.5l-1.5 -1.5zM703.2 241.5l1.5 1.5l-1.5 1.5l-1.5 -1.5zM616.6 239.4l1.5 1.5l-1.5 1.5l-1.5 -1.5zM783.1 241.0l1.5 1.5l-1.5 1.5l-1.5 -1.5zM636.3 240.2l1.5 1.5l-1.5 1.5l-1.5 -1.5zM514.1 234.1l1.5 1.5l-1.5 1.5l-1.5 -1.5zM711.4 241.1l1.5 1.5l-1.5 1.5l-1.5 -1.5zM703.7 239.1l1.5 1.5l-1.5 1.5l-1.5 -1.5zM627.5 240.1l1.5 1.5l-1.5 1.5l-1.5 -1.5zM571.8 242.7l1.5 1.5l-1.5 1.5l-1.5 -1.5zM690.2 240.7l1.5 1.5l-1.5 1.5l-1.5 -1.5zM558.8 244.8l1.5 1.5l-1.5 1.5l-1.5 -1.5zM513.8 236.8l1.5 1.5l-1.5 1.5l-1.5 -1.5zM669.3 241.3l1.5 1.5l-1.5 1.5l-1.5 -1.5zM695.6 241.8l1.5 1.5l-1.5 1.5l-1.5 -1.5zM638.1 241.4l1.5 1.5l-1.5 1.5l-1.5 -1.5zM656.1 241.6l1.5 1.5l-1.5 1.5l-1.5 -1.5zM566.1 243.7l1.5 1.5l-1.5 1.5l-1.5 -1.5zM686.3 240.9l1.5 1.5l-1.5 1.5l-1.5 -1.5zM568.1 242.9l1.5 1.5l-1.5 1.5l-1.5 -1.5zM705.2 242.7l1.5 1.5l-1.5 1.5l-1.5 -1.5zM537.2 235.2l1.5 1.5l-1.5 1.5l-1.5 -1.5zM601.1 240.9l1.5 1.5l-1.5 1.5l-1.5 -1.5zM643.4 240.2l1.5 1.5l-1.5 1.5l-1.5 -1.5zM593.1 243.0l1.5 1.5l-1.5 1.5l-1.5 -1.5zM704.0 240.4l1.5 1.5l-1.5 1.5l-1.5 -1.5zM772.7 237.5l1.5 1.5l-1.5 1.5l-1.5 -1.5zM747.9 241.9l1.5 1.5l-1.5 1.5l-1.5 -1.5zM787.6 245.0l1.5 1.5l-1.5 1.5l-1.5 -1.5zM589.0 240.0l1.5 1.5l-1.5 1.5l-1.5 -1.5zM624.2 240.3l1.5 1.5l-1.5 1.5l-1.5 -1.5zM758.3 241.9l1.5 1.5l-1.5 1.5l-1.5 -1.5zM521.3 239.9l1.5 1.5l-1.5 1.5l-1.5 -1.5zM681.0 235.4l1.5 1.5l-1.5 1.5l-1.5 -1.5zM571.5 243.0l1.5 1.5l-1.5 1.5l-1.5 -1.5zM625.8 240.6l1.5 1.5l-1.5 1.5l-1.5 -1.5zM740.0 239.0l1.5 1.5l-1.5 1.5l-1.5 -1.5zM671.1 240.9l1.5 1.5l-1.5 1.5l-1.5 -1.5zM764.3 239.7l1.5 1.5l-1.5 1.5l-1.5 -1.5zM589.9 242.0l1.5 1.5l-1.5 1.5l-1.5 -1.5zM693.3 242.2l1.5 1.5l-1.5 1.5l-1.5 -1.5zM717.5 242.6l1.5 1.5l-1.5 1.5l-1.5 -1.5zM519.6 236.7l1.5 1.5l-1.5 1.5l-1.5 -1.5zM757.9 236.6l1.5 1.5l-1.5 1.5l-1.5 -1.5zM785.9 244.3l1.5 1.5l-1.5 1.5l-1.5 -1.5zM783.5 237.2l1.5 1.5l-1.5 1.5l-1.5 -1.5zM759.5 242.3l1.5 1.5l-1.5 1.5l-1.5 -1.5zM696.1 242.5l1.5 1.5l-1.5 1.5l-1.5 -1.5zM762.5 240.8l1.5 1.5l-1.5 1.5l-1.5 -1.5zM518.8 237.3l1.5 1.5l-1.5 1.5l-1.5 -1.5zM702.3 241.3l1.5 1.5l-1.5 1.5l-1.5 -1.5zM621.2 242.2l1.5 1.5l-1.5 1.5l-1.5 -1.5zM711.2 243.5l1.5 1.5l-1.5 1.5l-1.5 -1.5zM669.5 242.2l1.5 1.5l-1.5 1.5l-1.5 -1.5zM633.8 239.9l1.5 1.5l-1.5 1.5l-1.5 -1.5zM573.4 241.1l1.5 1.5l-1.5 1.5l-1.5 -1.5zM576.2 239.4l1.5 1.5l-1.5 1.5l-1.5 -1.5zM615.7 239.7l1.5 1.5l-1.5 1.5l-1.5 -1.5zM632.6 241.1l1.5 1.5l-1.5 1.5l-1.5 -1.5zM529.1 237.9l1.5 1.5l-1.5 1.5l-1.5 -1.5zM517.2 237.6l1.5 1.5l-1.5 1.5l-1.5 -1.5zM619.6 241.6l1.5 1.5l-1.5 1.5l-1.5 -1.5zM574.9 242.8l1.5 1.5l-1.5 1.5l-1.5 -1.5zM756.8 238.7l1.5 1.5l-1.5 1.5l-1.5 -1.5zM591.0 241.3l1.5 1.5l-1.5 1.5l-1.5 -1.5zM684.4 239.5l1.5 1.5l-1.5 1.5l-1.5 -1.5zM682.8 242.5l1.5 1.5l-1.5 1.5l-1.5 -1.5zM543.7 243.1l1.5 1.5l-1.5 1.5l-1.5 -1.5zM578.1 242.2l1.5 1.5l-1.5 1.5l-1.5 -1.5zM517.7 237.1l1.5 1.5l-1.5 1.5l-1.5 -1.5zM585.5 243.8l1.5 1.5l-1.5 1.5l-1.5 -1.5zM506.6 230.6l1.5 1.5l-1.5 1.5l-1.5 -1.5zM651.3 238.6l1.5 1.5l-1.5 1.5l-1.5 -1.5zM511.2 234.1l1.5 1.5l-1.5 1.5l-1.5 -1.5zM599.1 240.7l1.5 1.5l-1.5 1.5l-1.5 -1.5zM704.9 243.1l1.5 1.5l-1.5 1.5l-1.5 -1.5zM573.8 239.5l1.5 1.5l-1.5 1.5l-1.5 -1.5zM694.0 242.5l1.5 1.5l-1.5 1.5l-1.5 -1.5zM657.7 241.1l1.5 1.5l-1.5 1.5l-1.5 -1.5zM546.9 245.3l1.5 1.5l-1.5 1.5l-1.5 -1.5zM655.5 239.5l1.5 1.5l-1.5 1.5l-1.5 -1.5zM757.3 241.8l1.5 1.5l-1.5 1.5l-1.5 -1.5zM787.7 244.4l1.5 1.5l-1.5 1.5l-1.5 -1.5zM689.3 241.5l1.5 1.5l-1.5 1.5l-1.5 -1.5zM632.0 239.2l1.5 1.5l-1.5 1.5l-1.5 -1.5zM716.5 243.5l1.5 1.5l-1.5 1.5l-1.5 -1.5zM508.8 232.8l1.5 1.5l-1.5 1.5l-1.5 -1.5zM594.0 241.9l1.5 1.5l-1.5 1.5l-1.5 -1.5zM775.2 238.4l1.5 1.5l-1.5 1.5l-1.5 -1.5zM567.9 243.6l1.5 1.5l-1.5 1.5l-1.5 -1.5zM598.4 241.8l1.5 1.5l-1.5 1.5l-1.5 -1.5zM654.1 241.9l1.5 1.5l-1.5 1.5l-1.5 -1.5zM720.7 241.4l1.5 1.5l-1.5 1.5l-1.5 -1.5zM719.9 242.4l1.5 1.5l-1.5 1.5l-1.5 -1.5zM553.0 242.6l1.5 1.5l-1.5 1.5l-1.5 -1.5zM754.2 237.4l1.5 1.5l-1.5 1.5l-1.5 -1.5zM710.8 243.2l1.5 1.5l-1.5 1.5l-1.5 -1.5zM586.9 240.9l1.5 1.5l-1.5 1.5l-1.5 -1.5zM513.9 237.4l1.5 1.5l-1.5 1.5l-1.5 -1.5zM614.0 238.6l1.5 1.5l-1.5 1.5l-1.5 -1.5z" fill="none" stroke="#ffa500" stroke-width="0.8" stroke-opacity="0.3"/>
<path d="M510.1 262.5l1.5 1.5l-1.5 1.5l-1.5 -1.5zM686.3 266.5l1.5 1.5l-1.5 1.5l-1.5 -1.5zM591.5 268.9l1.5 1.5l-1.5 1.5l-1.5 -1.5zM636.6 268.5l1.5 1.5l-1.5 1.5l-1.5 -1.5zM573.2 269.0l1.5 1.5l-1.5 1.5l-1.5 -1.5zM547.6 271.5l1.5 1.5l-1.5 1.5l-1.5 -1.5zM730.4 267.2l1.5 1.5l-1.5 1.5l-1.5 -1.5zM583.4 266.6l1.5 1.5l-1.5 1.5l-1.5 -1.5zM757.6 269.8l1.5 1.5l-1.5 1.5l-1.5 -1.5zM621.1 266.0l1.5 1.5l-1.5 1.5l-1.5 -1.5zM778.2 268.1l1.5 1.5l-1.5 1.5l-1.5 -1.5zM659.2 264.9l1.5 1.5l-1.5 1.5l-1.5 -1.5zM699.7 268.8l1.5 1.5l-1.5 1.5l-1.5 -1.5zM638.5 270.2l1.5 1.5l-1.5 1.5l-1.5 -1.5zM549.3 274.4l1.5 1.5l-1.5 1.5l-1.5 -1.5zM529.8 264.9l1.5 1.5l-1.5 1.5l-1.5 -1.5zM567.0 268.6l1.5 1.5l-1.5 1.5l-1.5 -1.5zM591.9 267.1l1.5 1.5l-1.5 1.5l-1.5 -1.5zM519.5 264.7l1.5 1.5l-1.5 1.5l-1.5 -1.5zM503.8 257.7l1.5 1.5l-1.5 1.5l-1.5 -1.5zM692.4 269.2l1.5 1.5l-1.5 1.5l-1.5 -1.5zM635.8 265.2l1.5 1.5l-1.5 1.5l-1.5 -1.5zM721.4 267.5l1.5 1.5l-1.5 1.5l-1.5 -1.5zM704.2 269.2l1.5 1.5l-1.5 1.5l-1.5 -1.5zM754.2 269.6l1.5 1.5l-1.5 1.5l-1.5 -1.5zM603.8 265.5l1.5 1.5l-1.5 1.5l-1.5 -1.5zM773.0 268.6l1.5 1.5l-1.5 1.5l-1.5 -1.5zM600.1 265.9l1.5 1.5l-1.5 1.5l-1.5 -1.5zM759.6 270.9l1.5 1.5l-1.5 1.5l-1.5 -1.5zM538.6 265.5l1.5 1.5l-1.5 1.5l-1.5 -1.5zM607.3 269.7l1.5 1.5l-1.5 1.5l-1.5 -1.5zM519.7 267.5l1.5 1.5l-1.5 1.5l-1.5 -1.5zM759.0 269.9l1.5 1.5l-1.5 1.5l-1.5 -1.5zM698.6 271.1l1.5 1.5l-1.5 1.5l-1.5 -1.5zM721.2 272.4l1.5 1.5l-1.5 1.5l-1.5 -1.5zM637.3 267.7l1.5 1.5l-1.5 1.5l-1.5 -1.5zM671.8 266.3l1.5 1.5l-1.5 1.5l-1.5 -1.5zM540.9 265.8l1.5 1.5l-1.5 1.5l-1.5 -1.5zM654.4 264.2l1.5 1.5l-1.5 1.5l-1.5 -1.5zM712.9 273.0l1.5 1.5l-1.5 1.5l-1.5 -1.5zM649.3 264.3l1.5 1.5l-1.5 1.5l-1.5 -1.5zM649.4 266.4l1.5 1.5l-1.5 1.5l-1.5 -1.5zM589.4 269.9l1.5 1.5l-1.5 1.5l-1.5 -1.5zM693.1 270.3l1.5 1.5l-1.5 1.5l-1.5 -1.5zM674.3 265.3l1.5 1.5l-1.5 1.5l-1.5 -1.5zM689.1 271.8l1.5 1.5l-1.5 1.5l-1.5 -1.5zM695.3 272.1l1.5 1.5l-1.5 1.5l-1.5 -1.5zM544.3 270.9l1.5 1.5l-1.5 1.5l-1.5 -1.5zM709.6 275.0l1.5 1.5l-1.5 1.5l-1.5 -1.5zM526.3 265.2l1.5 1.5l-1.5 1.5l-1.5 -1.5zM571.3 266.9l1.5 1.5l-1.5 1.5l-1.5 -1.5zM689.4 268.1l1.5 1.5l-1.5 1.5l-1.5 -1.5zM769.0 270.8l1.5 1.5l-1.5 1.5l-1.5 -1.5zM703.2 273.8l1.5 1.5l-1.5 1.5l-1.5 -1.5zM750.9 269.1l1.5 1.5l-1.5 1.5l-1.5 -1.5zM624.6 267.9l1.5 1.5l-1.5 1.5l-1.5 -1.5zM711.3 273.5l1.5 1.5l-1.5 1.5l-1.5 -1.5zM561.4 269.0l1.5 1.5l-1.5 1.5l-1.5 -1.5zM762.1 270.6l1.5 1.5l-1.5 1.5l-1.5 -1.5zM514.6 264.1l1.5 1.5l-1.5 1.5l-1.5 -1.5zM552.7 268.5l1.5 1.5l-1.5 1.5l-1.5 -1.5zM616.1 267.8l1.5 1.5l-1.5 1.5l-1.5 -1.5zM688.4 271.6l1.5 1.5l-1.5 1.5l-1.5 -1.5zM583.6 266.4l1.5 1.5l-1.5 1.5l-1.5 -1.5zM763.2 270.3l1.5 1.5l-1.5 1.5l-1.5 -1.5zM674.3 265.5l1.5 1.5l-1.5 1.5l-1.5 -1.5zM721.4 267.6l1.5 1.5l-1.5 1.5l-1.5 -1.5zM743.8 269.2l1.5 1.5l-1.5 1.5l-1.5 -1.5zM771.3 268.2l1.5 1.5l-1.5 1.5l-1.5 -1.5zM724.8 267.7l1.5 1.5l-1.5 1.5l-1.5 -1.5zM696.3 270.3l1.5 1.5l-1.5 1.5l-1.5 -1.5zM617.9 267.3l1.5 1.5l-1.5 1.5l-1.5 -1.5zM657.3 267.8l1.5 1.5l-1.5 1.5l-1.5 -1.5zM790.5 275.8l1.5 1.5l-1.5 1.5l-1.5 -1.5zM646.2 263.3l1.5 1.5l-1.5 1.5l-1.5 -1.5zM684.9 268.0l1.5 1.5l-1.5 1.5l-1.5 -1.5zM541.2 264.3l1.5 1.5l-1.5 1.5l-1.5 -1.5zM528.1 266.4l1.5 1.5l-1.5 1.5l-1.5 -1.5zM560.5 272.9l1.5 1.5l-1.5 1.5l-1.5 -1.5zM759.7 275.0l1.5 1.5l-1.5 1.5l-1.5 -1.5zM656.1 264.7l1.5 1.5l-1.5 1.5l-1.5 -1.5zM694.8 268.7l1.5 1.5l-1.5 1.5l-1.5 -1.5zM665.1 264.3l1.5 1.5l-1.5 1.5l-1.5 -1.5zM661.0 265.7l1.5 1.5l-1.5 1.5l-1.5 -1.5zM565.0 267.4l1.5 1.5l-1.5 1.5l-1.5 -1.5zM628.6 271.0l1.5 1.5l-1.5 1.5l-1.5 -1.5zM789.1 274.4l1.5 1.5l-1.5 1.5l-1.5 -1.5zM597.2 266.5l1.5 1.5l-1.5 1.5l-1.5 -1.5zM769.7 268.0l1.5 1.5l-1.5 1.5l-1.5 -1.5zM675.0 268.4l1.5 1.5l-1.5 1.5l-1.5 -1.5zM583.7 272.2l1.5 1.5l-1.5 1.5l-1.5 -1.5zM574.6 271.4l1.5 1.5l-1.5 1.5l-1.5 -1.5zM654.7 265.3l1.5 1.5l-1.5 1.5l-1.5 -1.5zM760.0 274.8l1.5 1.5l-1.5 1.5l-1.5 -1.5zM514.7 263.7l1.5 1.5l-1.5 1.5l-1.5 -1.5zM504.9 260.2l1.5 1.5l-1.5 1.5l-1.5 -1.5zM706.1 269.0l1.5 1.5l-1.5 1.5l-1.5 -1.5zM664.9 264.5l1.5 1.5l-1.5 1.5l-1.5 -1.5zM561.6 268.3l1.5 1.5l-1.5 1.5l-1.5 -1.5zM576.0 268.8l1.5 1.5l-1.5 1.5l-1.5 -1.5zM727.6 268.0l1.5 1.5l-1.5 1.5l-1.5 -1.5zM744.2 269.4l1.5 1.5l-1.5 1.5l-1.5 -1.5zM742.7 271.2l1.5 1.5l-1.5 1.5l-1.5 -1.5zM646.8 266.7l1.5 1.5l-1.5 1.5l-1.5 -1.5zM730.1 267.6l1.5 1.5l-1.5 1.5l-1.5 -1.5zM761.8 271.1l1.5 1.5l-1.5 1.5l-1.5 -1.5zM520.3 271.9l1.5 1.5l-1.5 1.5l-1.5 -1.5zM693.9 267.4l1.5 1.5l-1.5 1.5l-1.5 -1.5zM505.8 263.7l1.5 1.5l-1.5 1.5l-1.5 -1.5zM702.0 272.5l1.5 1.5l-1.5 1.5l-1.5 -1.5zM779.4 270.7l1.5 1.5l-1.5 1.5l-1.5 -1.5zM737.0 268.8l1.5 1.5l-1.5 1.5l-1.5 -1.5zM619.7 267.7l1.5 1.5l-1.5 1.5l-1.5 -1.5zM591.2 268.2l1.5 1.5l-1.5 1.5l-1.5 -1.5zM757.2 271.1l1.5 1.5l-1.5 1.5l-1.5 -1.5zM759.4 273.4l1.5 1.5l-1.5 1.5l-1.5 -1.5zM577.6 265.9l1.5 1.5l-1.5 1.5l-1.5 -1.5zM593.6 267.8l1.5 1.5l-1.5 1.5l-1.5 -1.5zM670.2 265.1l1.5 1.5l-1.5 1.5l-1.5 -1.5zM700.2 269.0l1.5 1.5l-1.5 1.5l-1.5 -1.5z" fill="none" stroke="#ffa500" stroke-width="0.8" stroke-opacity="0.3"/>
<polygon points="502.3,256.5 502.5,231.6 504.2,228.7 505.9,231.5 507.6,233.6 509.3,235.1 510.9,235.2 512.6,237.7 514.3,238.5 515.9,239.3 517.5,240.3 519.1,240.1 520.8,240.1 522.4,241.1 524.0,241.9 525.6,239.9 527.2,241.3 528.9,241.5 530.5,240.8 532.1,241.2 533.7,240.8 535.2,241.1 536.8,240.9 538.3,241.3 539.9,240.9 541.4,241.6 543.4,248.3 545.0,247.5 546.6,247.8 548.2,247.9 549.8,247.5 551.4,246.9 553.0,246.4 554.6,246.1 556.1,246.7 557.7,244.9 559.3,245.9 560.9,246.8 562.4,245.7 564.0,245.2 565.6,245.9 567.1,244.1 568.7,245.6 570.3,245.4 571.9,245.4 573.4,246.0 575.0,245.0 576.6,245.3 578.1,245.5 579.7,245.0 581.2,244.9 582.8,245.3 584.4,243.7 585.9,245.2 587.5,244.5 589.1,244.8 590.6,244.4 592.2,244.4 593.8,244.6 595.3,243.3 596.9,243.9 598.4,244.5 600.0,243.9 601.5,243.0 603.1,243.3 604.6,243.2 606.2,243.1 607.7,243.3 609.2,242.8 610.8,244.1 612.3,243.9 613.8,242.7 615.4,243.9 616.9,243.3 618.5,243.1 620.0,243.4 621.5,242.7 623.1,243.8 624.6,243.8 626.2,243.7 627.7,242.8 629.2,243.4 630.8,241.0 632.3,242.3 633.8,243.4 635.4,242.3 636.9,241.9 638.5,242.7 640.0,241.0 641.5,243.3 643.0,240.0 644.5,242.3 646.1,242.7 647.6,243.3 649.1,241.3 650.6,242.6 652.1,242.4 653.6,242.0 655.2,242.9 656.7,243.1 658.2,241.0 659.7,242.0 661.2,241.0 662.7,243.0 664.2,241.5 665.8,243.7 667.3,243.2 668.8,243.8 670.3,242.8 671.8,243.0 673.3,242.0 674.8,243.6 676.4,243.3 677.9,244.1 679.4,243.6 680.9,243.9 682.4,243.4 683.9,243.6 685.5,242.8 687.0,243.1 688.5,243.8 690.0,244.0 691.5,243.7 693.1,243.9 694.6,243.9 696.1,243.6 697.7,243.8 699.2,243.1 700.7,243.0 702.2,243.7 703.8,244.7 705.3,244.6 706.8,244.4 708.4,244.9 709.9,244.8 711.4,243.6 713.0,243.5 714.5,244.5 716.0,244.2 717.6,244.8 719.1,244.7 720.6,244.8 722.2,244.8 723.7,245.0 725.2,244.4 726.8,245.1 728.3,244.5 729.8,245.1 731.3,245.7 732.9,243.9 734.4,244.8 735.9,245.9 737.5,244.7 739.0,246.0 740.5,244.3 742.0,245.6 743.5,243.6 745.1,245.3 746.6,244.6 748.1,245.0 749.6,244.2 751.1,244.5 752.6,243.1 754.2,243.7 755.7,243.6 757.2,242.4 758.7,243.0 760.3,242.3 761.9,243.2 763.5,241.9 765.1,241.6 766.8,239.9 768.4,240.3 770.0,241.2 771.6,239.1 773.2,240.4 774.8,240.0 776.4,240.6 778.0,239.6 779.6,241.7 781.2,241.9 782.9,243.3 784.5,244.1 786.1,243.9 787.7,246.4 789.4,246.9 791.1,248.0 791.1,273.0 789.6,273.7 788.1,272.7 786.5,272.3 785.0,271.7 783.5,272.3 782.0,271.6 780.5,270.9 778.9,269.8 777.4,271.2 775.9,269.3 774.3,269.1 772.8,268.6 771.3,267.7 769.7,269.1 768.0,270.9 766.4,272.8 764.9,272.2 763.4,272.9 761.9,272.4 760.3,272.1 758.8,272.3 757.3,272.6 755.8,271.8 754.3,271.3 752.8,272.4 751.2,271.5 749.7,271.3 748.2,270.4 746.7,270.4 745.2,272.2 743.6,271.0 742.1,269.7 740.6,271.2 739.1,269.4 737.6,269.6 736.1,270.0 734.5,270.2 733.0,269.8 731.5,269.6 730.0,269.7 728.5,270.3 727.0,269.1 725.5,269.9 724.0,269.6 722.5,268.8 721.0,269.9 719.5,270.4 718.0,268.9 716.5,269.6 715.0,270.3 713.5,269.6 712.0,270.1 710.5,269.8 709.0,269.9 707.5,270.4 706.0,269.8 704.5,271.7 703.0,269.8 701.5,269.6 700.0,270.9 698.5,269.4 696.9,269.2 695.4,270.2 693.9,269.7 692.3,268.7 690.8,269.6 689.2,269.6 687.7,268.6 686.2,268.5 684.6,269.6 683.1,267.8 681.6,269.6 680.0,269.5 678.5,267.4 677.0,267.8 675.4,268.5 673.9,266.8 672.4,266.6 670.8,266.8 669.3,266.6 667.8,266.8 666.2,267.5 664.7,267.1 663.1,265.5 661.6,265.9 660.1,265.3 658.5,265.9 657.0,265.4 655.5,265.1 654.0,265.7 652.5,265.1 651.0,266.1 649.5,265.1 648.0,266.3 646.5,264.7 645.0,265.6 643.3,265.5 641.7,267.2 640.0,267.7 638.5,267.0 637.0,266.9 635.5,267.1 634.0,269.9 632.4,266.7 630.9,267.4 629.4,267.7 627.9,267.2 626.4,266.8 624.9,267.3 623.4,266.9 621.9,266.8 620.3,266.9 618.8,268.2 617.3,267.3 615.8,267.6 614.3,267.2 612.8,268.1 611.3,267.6 609.8,267.9 608.3,267.3 606.7,267.6 605.2,267.0 603.7,267.6 602.2,267.5 600.7,267.0 599.2,267.1 597.7,267.8 596.2,267.9 594.7,267.5 593.1,268.3 591.6,268.0 590.1,268.6 588.6,267.9 587.1,268.4 585.6,268.3 584.1,267.2 582.6,267.3 581.0,267.3 579.5,267.4 578.0,267.3 576.5,267.3 575.0,269.5 573.5,268.5 572.0,268.9 570.5,268.7 569.0,268.0 567.5,269.6 566.0,268.3 564.5,270.5 563.0,270.5 561.5,269.4 560.0,269.3 558.4,269.7 556.9,272.1 555.4,269.6 553.9,271.9 552.4,270.6 550.9,272.0 549.4,271.8 547.9,272.1 546.4,270.7 544.9,271.2 543.4,271.4 541.4,266.0 539.8,265.6 538.2,265.8 536.7,267.0 535.1,265.7 533.5,267.4 531.9,266.8 530.3,266.3 528.7,267.1 527.2,267.8 525.6,267.0 524.0,267.0 522.4,266.3 520.8,265.7 519.3,265.3 517.7,265.1 516.1,265.0 514.5,265.2 512.9,263.9 511.3,263.9 509.8,263.2 508.2,263.2 506.6,263.3 504.6,260.3 502.7,259.2 502.3,258.3" fill="#ffa500"/>
<polygon points="775.0,271.0 781.0,289.0 785.0,297.0 789.0,276.0" fill="#ffa500" fill-opacity="0.22"/>
<polyline points="110.5,427.0 110.5,381.0" fill="none" stroke="#0000ff" stroke-width="3.0" stroke-linejoin="round" stroke-linecap="round"/>
<polyline points="111.6,381.0 113.0,386.0 115.7,392.0 119.0,396.0 122.0,397.0" fill="none" stroke="#0000ff" stroke-width="4" stroke-linejoin="round" stroke-linecap="round"/>
<polygon points="121.0,393.3 122.0,393.6 123.0,394.6 124.0,393.9 125.0,394.5 126.0,394.4 127.0,394.6 128.0,394.5 129.0,393.4 130.0,394.5 131.0,394.2 132.0,393.5 133.0,394.7 134.0,394.0 135.0,394.1 136.0,394.3 137.0,393.9 138.0,394.3 139.0,393.4 140.0,394.4 141.0,393.8 142.0,393.6 143.0,394.3 144.0,394.7 145.0,394.0 146.0,393.2 147.0,394.6 148.0,393.9 149.0,394.0 150.0,393.4 151.0,393.0 152.0,393.0 153.0,393.2 154.0,393.3 155.0,393.3 156.0,394.0 157.0,394.2 158.0,394.5 159.0,394.6 160.0,394.4 161.0,395.0 162.0,395.0 163.0,395.5 164.0,395.3 165.0,395.4 166.0,395.9 167.0,396.0 168.0,395.6 169.0,396.5 170.0,396.2 171.0,397.1 172.0,397.1 173.0,396.9 174.0,397.0 175.0,396.4 176.0,397.4 177.0,396.6 178.0,397.3 179.0,397.6 180.0,397.1 181.0,397.8 182.0,397.9 183.0,397.1 184.0,397.2 185.0,398.1 186.0,398.0 187.0,397.8 188.0,397.4 189.0,398.4 190.0,397.5 191.0,398.2 192.0,398.1 193.0,398.2 194.0,397.7 195.0,398.3 196.0,398.2 197.0,398.5 198.0,398.1 199.0,397.7 200.0,397.2 201.0,397.6 202.0,398.0 203.0,398.4 204.0,398.0 205.0,398.1 206.0,398.4 207.0,398.2 208.0,398.3 209.0,397.7 210.0,398.4 211.0,398.3 212.0,397.7 213.0,396.9 214.0,397.7 215.0,398.1 216.0,397.7 217.0,397.8 218.0,398.0 219.0,397.3 220.0,397.8 221.0,397.7 222.0,398.1 223.0,397.8 224.0,397.9 225.0,397.5 226.0,397.6 227.0,397.6 228.0,396.9 229.0,397.5 230.0,397.7 231.0,397.1 232.0,397.9 233.0,397.5 234.0,397.7 235.0,397.1 236.0,397.5 237.0,397.7 238.0,397.5 239.0,397.1 240.0,396.6 241.0,397.3 242.0,397.5 243.0,397.0 244.0,397.4 245.0,397.4 246.0,397.1 247.0,397.1 248.0,397.0 249.0,397.2 250.0,396.8 251.0,396.1 252.0,396.7 253.0,396.5 254.0,396.5 255.0,396.9 256.0,396.2 257.0,396.8 258.0,396.4 259.0,396.2 260.0,396.2 261.0,396.4 262.0,396.3 263.0,395.4 264.0,396.2 265.0,396.1 266.0,395.2 267.0,396.2 268.0,395.5 269.0,396.3 270.0,395.5 271.0,395.2 272.0,395.8 273.0,395.0 274.0,395.5 275.0,395.3 276.0,395.6 277.0,395.9 278.0,394.9 279.0,394.7 280.0,395.4 281.0,395.8 282.0,395.5 283.0,395.2 284.0,395.4 285.0,394.7 286.0,394.0 287.0,394.5 288.0,395.3 289.0,394.9 290.0,395.0 291.0,395.0 292.0,395.0 293.0,393.8 294.0,394.3 295.0,394.4 296.0,394.1 297.0,394.6 298.0,394.0 299.0,393.8 300.0,394.1 301.0,394.5 302.0,394.7 303.0,394.9 304.0,395.0 305.0,394.8 306.0,395.1 307.0,395.1 308.0,394.9 309.0,395.0 310.0,395.5 311.0,395.7 312.0,395.5 313.0,396.2 314.0,396.1 315.0,396.5 316.0,396.0 317.0,395.6 318.0,396.9 319.0,397.0 320.0,396.9 321.0,396.1 322.0,396.1 323.0,396.1 324.0,396.0 325.0,395.4 326.0,395.4 327.0,394.3 328.0,394.7 329.0,393.7 330.0,393.6 331.0,393.3 332.0,393.4 333.0,392.7 334.0,392.9 335.0,392.5 336.0,392.0 337.0,393.1 338.0,392.9 339.0,393.4 340.0,394.3 341.0,394.5 342.0,394.8 343.0,394.6 344.0,395.4 345.0,395.5 346.0,395.7 347.0,396.2 348.0,396.3 349.0,396.2 350.0,396.5 351.0,396.5 352.0,395.6 353.0,395.7 354.0,396.0 355.0,396.3 356.0,396.1 357.0,395.4 358.0,396.0 359.0,395.8 360.0,395.7 361.0,395.9 362.0,395.6 363.0,395.0 364.0,395.6 365.0,395.8 366.0,394.9 367.0,395.2 368.0,395.5 369.0,393.1 370.0,395.1 371.0,395.4 372.0,395.4 373.0,395.3 374.0,394.9 375.0,394.7 376.0,394.8 377.0,394.8 378.0,394.7 379.0,394.4 380.0,393.9 381.0,394.2 382.0,392.9 383.0,393.8 384.0,394.1 385.0,393.4 386.0,393.9 387.0,393.3 388.0,393.1 389.0,392.9 390.0,392.1 391.0,390.9 391.0,397.3 390.0,397.7 389.0,398.0 388.0,398.3 387.0,399.0 386.0,398.6 385.0,399.1 384.0,399.7 383.0,399.3 382.0,399.7 381.0,399.2 380.0,399.5 379.0,400.1 378.0,399.9 377.0,399.8 376.0,400.6 375.0,400.2 374.0,400.5 373.0,400.4 372.0,400.8 371.0,400.4 370.0,400.9 369.0,400.4 368.0,400.8 367.0,401.8 366.0,401.2 365.0,401.4 364.0,401.5 363.0,401.0 362.0,400.9 361.0,401.4 360.0,401.0 359.0,401.6 358.0,401.2 357.0,401.5 356.0,402.0 355.0,401.0 354.0,401.3 353.0,401.5 352.0,401.8 351.0,401.3 350.0,401.6 349.0,401.5 348.0,401.9 347.0,401.4 346.0,402.0 345.0,401.4 344.0,400.9 343.0,400.6 342.0,400.1 341.0,399.6 340.0,399.5 339.0,399.2 338.0,398.3 337.0,398.2 336.0,397.6 335.0,397.6 334.0,398.4 333.0,398.1 332.0,398.6 331.0,398.8 330.0,399.4 329.0,399.4 328.0,400.2 327.0,399.9 326.0,400.3 325.0,401.1 324.0,401.0 323.0,401.1 322.0,401.5 321.0,402.0 320.0,402.3 319.0,401.7 318.0,402.1 317.0,402.0 316.0,401.4 315.0,401.3 314.0,401.6 313.0,401.1 312.0,400.8 311.0,401.2 310.0,401.6 309.0,400.6 308.0,400.5 307.0,401.1 306.0,400.4 305.0,400.2 304.0,400.4 303.0,400.0 302.0,399.5 301.0,399.6 300.0,399.3 299.0,399.8 298.0,399.7 297.0,400.0 296.0,399.9 295.0,400.1 294.0,399.9 293.0,399.7 292.0,400.4 291.0,400.1 290.0,400.0 289.0,400.0 288.0,400.4 287.0,400.5 286.0,401.0 285.0,401.0 284.0,400.7 283.0,401.9 282.0,400.6 281.0,400.9 280.0,400.8 279.0,400.8 278.0,401.5 277.0,400.7 276.0,400.7 275.0,400.7 274.0,401.0 273.0,401.0 272.0,402.0 271.0,401.4 270.0,401.0 269.0,402.2 268.0,401.7 267.0,402.0 266.0,401.5 265.0,401.3 264.0,402.0 263.0,401.5 262.0,401.9 261.0,401.6 260.0,401.7 259.0,402.1 258.0,402.0 257.0,401.8 256.0,402.4 255.0,402.0 254.0,401.8 253.0,402.3 252.0,402.4 251.0,402.6 250.0,402.3 249.0,402.7 248.0,402.3 247.0,403.5 246.0,403.5 245.0,402.7 244.0,402.4 243.0,402.8 242.0,403.1 241.0,403.0 240.0,403.0 239.0,402.5 238.0,402.9 237.0,403.0 236.0,403.5 235.0,403.0 234.0,403.1 233.0,402.6 232.0,402.6 231.0,403.2 230.0,402.8 229.0,403.1 228.0,403.5 227.0,404.0 226.0,402.8 225.0,403.0 224.0,402.7 223.0,403.2 222.0,403.2 221.0,402.9 220.0,403.5 219.0,403.7 218.0,402.9 217.0,403.1 216.0,403.6 215.0,403.6 214.0,403.3 213.0,403.6 212.0,403.4 211.0,403.1 210.0,403.6 209.0,403.3 208.0,403.5 207.0,403.3 206.0,403.1 205.0,403.3 204.0,403.5 203.0,403.6 202.0,403.6 201.0,403.9 200.0,403.2 199.0,403.3 198.0,404.0 197.0,403.5 196.0,403.6 195.0,403.3 194.0,404.1 193.0,403.7 192.0,403.3 191.0,405.0 190.0,403.6 189.0,403.6 188.0,403.4 187.0,403.9 186.0,404.3 185.0,402.9 184.0,403.1 183.0,403.0 182.0,404.0 181.0,403.5 180.0,402.8 179.0,402.8 178.0,402.7 177.0,402.3 176.0,402.3 175.0,402.8 174.0,402.5 173.0,402.5 172.0,403.4 171.0,403.0 170.0,401.7 169.0,401.7 168.0,401.2 167.0,401.9 166.0,401.9 165.0,400.6 164.0,401.2 163.0,400.9 162.0,400.8 161.0,399.9 160.0,399.9 159.0,399.6 158.0,399.9 157.0,399.2 156.0,399.3 155.0,399.2 154.0,399.0 153.0,398.7 152.0,399.2 151.0,398.6 150.0,399.0 149.0,399.3 148.0,399.9 147.0,399.3 146.0,400.2 145.0,400.2 144.0,399.5 143.0,399.4 142.0,399.9 141.0,399.7 140.0,399.4 139.0,399.7 138.0,399.6 137.0,399.7 136.0,399.5 135.0,400.0 134.0,399.7 133.0,399.3 132.0,401.6 131.0,399.8 130.0,399.5 129.0,399.9 128.0,399.9 127.0,399.9 126.0,399.9 125.0,399.3 124.0,399.8 123.0,399.7 122.0,400.3 121.0,400.0" fill="#0000ff"/>
<polygon points="389.0,398.0 392.0,388.0 393.5,376.0 394.5,370.0 397.0,370.0 398.0,380.0 398.4,404.0 396.0,402.0 390.0,401.0" fill="#0000ff"/>
<path d="M248.5 399.5l1.5 1.5l-1.5 1.5l-1.5 -1.5zM247.8 401.5l1.5 1.5l-1.5 1.5l-1.5 -1.5zM247.6 403.5l1.5 1.5l-1.5 1.5l-1.5 -1.5zM248.2 405.5l1.5 1.5l-1.5 1.5l-1.5 -1.5zM248.3 407.5l1.5 1.5l-1.5 1.5l-1.5 -1.5zM247.7 409.5l1.5 1.5l-1.5 1.5l-1.5 -1.5zM247.9 411.5l1.5 1.5l-1.5 1.5l-1.5 -1.5zM248.4 413.5l1.5 1.5l-1.5 1.5l-1.5 -1.5zM247.6 415.5l1.5 1.5l-1.5 1.5l-1.5 -1.5zM247.5 417.5l1.5 1.5l-1.5 1.5l-1.5 -1.5zM248.5 419.5l1.5 1.5l-1.5 1.5l-1.5 -1.5zM247.4 421.5l1.5 1.5l-1.5 1.5l-1.5 -1.5zM247.7 423.5l1.5 1.5l-1.5 1.5l-1.5 -1.5zM247.4 425.5l1.5 1.5l-1.5 1.5l-1.5 -1.5z" fill="none" stroke="#0000ff" stroke-width="0.7" stroke-opacity="0.3"/>
<path d="M250.9 399.5l1.5 1.5l-1.5 1.5l-1.5 -1.5zM251.2 401.5l1.5 1.5l-1.5 1.5l-1.5 -1.5zM250.7 403.5l1.5 1.5l-1.5 1.5l-1.5 -1.5zM250.6 405.5l1.5 1.5l-1.5 1.5l-1.5 -1.5zM251.0 407.5l1.5 1.5l-1.5 1.5l-1.5 -1.5zM250.7 409.5l1.5 1.5l-1.5 1.5l-1.5 -1.5zM251.1 411.5l1.5 1.5l-1.5 1.5l-1.5 -1.5zM250.9 413.5l1.5 1.5l-1.5 1.5l-1.5 -1.5zM250.7 415.5l1.5 1.5l-1.5 1.5l-1.5 -1.5zM251.4 417.5l1.5 1.5l-1.5 1.5l-1.5 -1.5zM250.7 419.5l1.5 1.5l-1.5 1.5l-1.5 -1.5zM251.1 421.5l1.5 1.5l-1.5 1.5l-1.5 -1.5zM250.4 423.5l1.5 1.5l-1.5 1.5l-1.5 -1.5zM251.4 425.5l1.5 1.5l-1.5 1.5l-1.5 -1.5z" fill="none" stroke="#0000ff" stroke-width="0.7" stroke-opacity="0.3"/>
<path d="M397.2 402.5l1.5 1.5l-1.5 1.5l-1.5 -1.5zM397.8 404.5l1.5 1.5l-1.5 1.5l-1.5 -1.5zM398.2 406.5l1.5 1.5l-1.5 1.5l-1.5 -1.5zM397.3 408.5l1.5 1.5l-1.5 1.5l-1.5 -1.5zM397.8 410.5l1.5 1.5l-1.5 1.5l-1.5 -1.5zM397.1 412.5l1.5 1.5l-1.5 1.5l-1.5 -1.5zM398.1 414.5l1.5 1.5l-1.5 1.5l-1.5 -1.5zM397.8 416.5l1.5 1.5l-1.5 1.5l-1.5 -1.5zM397.9 418.5l1.5 1.5l-1.5 1.5l-1.5 -1.5zM397.1 420.5l1.5 1.5l-1.5 1.5l-1.5 -1.5zM397.5 422.5l1.5 1.5l-1.5 1.5l-1.5 -1.5zM397.7 424.5l1.5 1.5l-1.5 1.5l-1.5 -1.5z" fill="none" stroke="#0000ff" stroke-width="0.7" stroke-opacity="0.3"/>
<path d="M369.0 383.5l1.5 1.5l-1.5 1.5l-1.5 -1.5zM369.6 385.5l1.5 1.5l-1.5 1.5l-1.5 -1.5zM369.4 387.5l1.5 1.5l-1.5 1.5l-1.5 -1.5zM369.0 389.5l1.5 1.5l-1.5 1.5l-1.5 -1.5zM369.7 391.5l1.5 1.5l-1.5 1.5l-1.5 -1.5z" fill="none" stroke="#0000ff" stroke-width="0.7" stroke-opacity="0.3"/>
<rect x="502.6" y="391.0" width="288.4" height="9.0" fill="url(#up)"/>
<path d="M688.9 394.2l1.5 1.5l-1.5 1.5l-1.5 -1.5zM603.5 390.5l1.5 1.5l-1.5 1.5l-1.5 -1.5zM687.3 393.0l1.5 1.5l-1.5 1.5l-1.5 -1.5zM694.8 395.2l1.5 1.5l-1.5 1.5l-1.5 -1.5zM569.0 395.0l1.5 1.5l-1.5 1.5l-1.5 -1.5zM700.8 389.8l1.5 1.5l-1.5 1.5l-1.5 -1.5zM706.4 391.0l1.5 1.5l-1.5 1.5l-1.5 -1.5zM599.8 392.3l1.5 1.5l-1.5 1.5l-1.5 -1.5zM625.8 394.8l1.5 1.5l-1.5 1.5l-1.5 -1.5zM736.6 394.9l1.5 1.5l-1.5 1.5l-1.5 -1.5zM584.0 389.4l1.5 1.5l-1.5 1.5l-1.5 -1.5zM751.7 395.0l1.5 1.5l-1.5 1.5l-1.5 -1.5zM724.2 394.3l1.5 1.5l-1.5 1.5l-1.5 -1.5zM766.2 395.0l1.5 1.5l-1.5 1.5l-1.5 -1.5zM788.3 394.0l1.5 1.5l-1.5 1.5l-1.5 -1.5zM576.5 387.5l1.5 1.5l-1.5 1.5l-1.5 -1.5zM599.6 394.7l1.5 1.5l-1.5 1.5l-1.5 -1.5zM590.4 383.2l1.5 1.5l-1.5 1.5l-1.5 -1.5zM662.1 392.5l1.5 1.5l-1.5 1.5l-1.5 -1.5zM664.9 395.0l1.5 1.5l-1.5 1.5l-1.5 -1.5zM665.9 389.9l1.5 1.5l-1.5 1.5l-1.5 -1.5zM503.7 394.6l1.5 1.5l-1.5 1.5l-1.5 -1.5zM770.3 392.4l1.5 1.5l-1.5 1.5l-1.5 -1.5zM579.0 391.2l1.5 1.5l-1.5 1.5l-1.5 -1.5zM616.6 395.3l1.5 1.5l-1.5 1.5l-1.5 -1.5zM777.8 393.6l1.5 1.5l-1.5 1.5l-1.5 -1.5zM637.0 393.5l1.5 1.5l-1.5 1.5l-1.5 -1.5zM736.0 393.5l1.5 1.5l-1.5 1.5l-1.5 -1.5zM599.6 392.8l1.5 1.5l-1.5 1.5l-1.5 -1.5zM783.5 385.1l1.5 1.5l-1.5 1.5l-1.5 -1.5zM518.5 383.5l1.5 1.5l-1.5 1.5l-1.5 -1.5zM675.2 394.8l1.5 1.5l-1.5 1.5l-1.5 -1.5zM597.5 390.5l1.5 1.5l-1.5 1.5l-1.5 -1.5zM772.3 388.7l1.5 1.5l-1.5 1.5l-1.5 -1.5zM601.7 392.5l1.5 1.5l-1.5 1.5l-1.5 -1.5zM725.1 391.5l1.5 1.5l-1.5 1.5l-1.5 -1.5zM657.2 395.2l1.5 1.5l-1.5 1.5l-1.5 -1.5zM551.7 394.9l1.5 1.5l-1.5 1.5l-1.5 -1.5zM567.5 390.1l1.5 1.5l-1.5 1.5l-1.5 -1.5zM660.9 392.6l1.5 1.5l-1.5 1.5l-1.5 -1.5zM663.1 394.7l1.5 1.5l-1.5 1.5l-1.5 -1.5zM551.2 391.2l1.5 1.5l-1.5 1.5l-1.5 -1.5zM783.0 394.6l1.5 1.5l-1.5 1.5l-1.5 -1.5zM656.3 394.5l1.5 1.5l-1.5 1.5l-1.5 -1.5zM520.5 384.6l1.5 1.5l-1.5 1.5l-1.5 -1.5zM735.7 390.7l1.5 1.5l-1.5 1.5l-1.5 -1.5zM523.1 393.5l1.5 1.5l-1.5 1.5l-1.5 -1.5zM786.8 392.6l1.5 1.5l-1.5 1.5l-1.5 -1.5zM707.7 385.5l1.5 1.5l-1.5 1.5l-1.5 -1.5zM555.2 384.6l1.5 1.5l-1.5 1.5l-1.5 -1.5zM715.8 394.3l1.5 1.5l-1.5 1.5l-1.5 -1.5zM515.0 393.7l1.5 1.5l-1.5 1.5l-1.5 -1.5zM625.7 394.2l1.5 1.5l-1.5 1.5l-1.5 -1.5zM612.5 392.7l1.5 1.5l-1.5 1.5l-1.5 -1.5zM564.7 385.6l1.5 1.5l-1.5 1.5l-1.5 -1.5zM687.7 381.7l1.5 1.5l-1.5 1.5l-1.5 -1.5zM681.3 394.6l1.5 1.5l-1.5 1.5l-1.5 -1.5zM522.4 393.9l1.5 1.5l-1.5 1.5l-1.5 -1.5zM661.5 386.3l1.5 1.5l-1.5 1.5l-1.5 -1.5zM738.3 384.0l1.5 1.5l-1.5 1.5l-1.5 -1.5zM722.5 392.3l1.5 1.5l-1.5 1.5l-1.5 -1.5zM606.3 394.8l1.5 1.5l-1.5 1.5l-1.5 -1.5zM505.7 388.7l1.5 1.5l-1.5 1.5l-1.5 -1.5zM679.5 394.1l1.5 1.5l-1.5 1.5l-1.5 -1.5zM537.6 395.4l1.5 1.5l-1.5 1.5l-1.5 -1.5zM635.4 394.2l1.5 1.5l-1.5 1.5l-1.5 -1.5zM749.5 395.2l1.5 1.5l-1.5 1.5l-1.5 -1.5zM643.4 392.7l1.5 1.5l-1.5 1.5l-1.5 -1.5zM694.9 394.5l1.5 1.5l-1.5 1.5l-1.5 -1.5zM672.7 394.2l1.5 1.5l-1.5 1.5l-1.5 -1.5zM618.1 394.4l1.5 1.5l-1.5 1.5l-1.5 -1.5zM740.1 392.2l1.5 1.5l-1.5 1.5l-1.5 -1.5zM507.6 392.5l1.5 1.5l-1.5 1.5l-1.5 -1.5zM747.4 395.0l1.5 1.5l-1.5 1.5l-1.5 -1.5zM745.5 390.5l1.5 1.5l-1.5 1.5l-1.5 -1.5zM718.3 389.5l1.5 1.5l-1.5 1.5l-1.5 -1.5zM512.0 393.1l1.5 1.5l-1.5 1.5l-1.5 -1.5zM743.4 390.1l1.5 1.5l-1.5 1.5l-1.5 -1.5zM720.8 391.2l1.5 1.5l-1.5 1.5l-1.5 -1.5zM612.6 387.4l1.5 1.5l-1.5 1.5l-1.5 -1.5zM541.9 386.9l1.5 1.5l-1.5 1.5l-1.5 -1.5zM742.0 392.5l1.5 1.5l-1.5 1.5l-1.5 -1.5zM673.7 389.8l1.5 1.5l-1.5 1.5l-1.5 -1.5zM508.8 394.7l1.5 1.5l-1.5 1.5l-1.5 -1.5zM734.5 394.0l1.5 1.5l-1.5 1.5l-1.5 -1.5zM620.5 388.9l1.5 1.5l-1.5 1.5l-1.5 -1.5zM700.3 395.2l1.5 1.5l-1.5 1.5l-1.5 -1.5zM617.4 394.3l1.5 1.5l-1.5 1.5l-1.5 -1.5zM631.8 393.3l1.5 1.5l-1.5 1.5l-1.5 -1.5zM608.0 388.7l1.5 1.5l-1.5 1.5l-1.5 -1.5zM640.0 391.0l1.5 1.5l-1.5 1.5l-1.5 -1.5zM562.5 393.8l1.5 1.5l-1.5 1.5l-1.5 -1.5zM637.5 391.3l1.5 1.5l-1.5 1.5l-1.5 -1.5zM625.8 388.7l1.5 1.5l-1.5 1.5l-1.5 -1.5zM608.0 394.3l1.5 1.5l-1.5 1.5l-1.5 -1.5zM590.3 392.6l1.5 1.5l-1.5 1.5l-1.5 -1.5zM747.7 389.4l1.5 1.5l-1.5 1.5l-1.5 -1.5zM565.8 383.1l1.5 1.5l-1.5 1.5l-1.5 -1.5zM687.4 392.2l1.5 1.5l-1.5 1.5l-1.5 -1.5zM753.6 390.5l1.5 1.5l-1.5 1.5l-1.5 -1.5zM678.6 395.3l1.5 1.5l-1.5 1.5l-1.5 -1.5zM653.9 387.1l1.5 1.5l-1.5 1.5l-1.5 -1.5zM624.2 382.7l1.5 1.5l-1.5 1.5l-1.5 -1.5zM610.6 393.0l1.5 1.5l-1.5 1.5l-1.5 -1.5zM733.6 392.9l1.5 1.5l-1.5 1.5l-1.5 -1.5zM559.8 391.1l1.5 1.5l-1.5 1.5l-1.5 -1.5zM529.4 395.0l1.5 1.5l-1.5 1.5l-1.5 -1.5zM682.2 392.1l1.5 1.5l-1.5 1.5l-1.5 -1.5zM537.2 393.1l1.5 1.5l-1.5 1.5l-1.5 -1.5zM507.7 386.8l1.5 1.5l-1.5 1.5l-1.5 -1.5zM747.8 395.1l1.5 1.5l-1.5 1.5l-1.5 -1.5zM605.4 394.2l1.5 1.5l-1.5 1.5l-1.5 -1.5zM690.5 392.3l1.5 1.5l-1.5 1.5l-1.5 -1.5zM663.6 386.6l1.5 1.5l-1.5 1.5l-1.5 -1.5zM668.2 391.7l1.5 1.5l-1.5 1.5l-1.5 -1.5zM713.0 394.3l1.5 1.5l-1.5 1.5l-1.5 -1.5zM716.8 383.6l1.5 1.5l-1.5 1.5l-1.5 -1.5zM680.0 384.6l1.5 1.5l-1.5 1.5l-1.5 -1.5zM594.3 393.8l1.5 1.5l-1.5 1.5l-1.5 -1.5zM666.8 395.2l1.5 1.5l-1.5 1.5l-1.5 -1.5zM653.6 395.0l1.5 1.5l-1.5 1.5l-1.5 -1.5zM673.2 382.2l1.5 1.5l-1.5 1.5l-1.5 -1.5zM508.4 393.6l1.5 1.5l-1.5 1.5l-1.5 -1.5zM507.9 393.6l1.5 1.5l-1.5 1.5l-1.5 -1.5zM601.1 395.5l1.5 1.5l-1.5 1.5l-1.5 -1.5zM544.5 391.1l1.5 1.5l-1.5 1.5l-1.5 -1.5zM642.6 390.3l1.5 1.5l-1.5 1.5l-1.5 -1.5zM605.7 389.9l1.5 1.5l-1.5 1.5l-1.5 -1.5zM687.5 388.8l1.5 1.5l-1.5 1.5l-1.5 -1.5zM589.3 392.5l1.5 1.5l-1.5 1.5l-1.5 -1.5zM524.0 393.8l1.5 1.5l-1.5 1.5l-1.5 -1.5zM647.7 387.6l1.5 1.5l-1.5 1.5l-1.5 -1.5zM770.1 389.5l1.5 1.5l-1.5 1.5l-1.5 -1.5zM584.2 393.2l1.5 1.5l-1.5 1.5l-1.5 -1.5zM719.5 385.4l1.5 1.5l-1.5 1.5l-1.5 -1.5zM772.3 393.4l1.5 1.5l-1.5 1.5l-1.5 -1.5zM598.8 389.4l1.5 1.5l-1.5 1.5l-1.5 -1.5zM647.4 387.3l1.5 1.5l-1.5 1.5l-1.5 -1.5zM628.9 394.8l1.5 1.5l-1.5 1.5l-1.5 -1.5zM615.2 391.9l1.5 1.5l-1.5 1.5l-1.5 -1.5zM708.8 393.4l1.5 1.5l-1.5 1.5l-1.5 -1.5zM782.8 394.8l1.5 1.5l-1.5 1.5l-1.5 -1.5zM616.6 394.5l1.5 1.5l-1.5 1.5l-1.5 -1.5zM550.2 386.6l1.5 1.5l-1.5 1.5l-1.5 -1.5zM766.4 381.7l1.5 1.5l-1.5 1.5l-1.5 -1.5zM663.7 395.3l1.5 1.5l-1.5 1.5l-1.5 -1.5zM514.1 394.3l1.5 1.5l-1.5 1.5l-1.5 -1.5zM777.5 393.7l1.5 1.5l-1.5 1.5l-1.5 -1.5zM775.6 393.4l1.5 1.5l-1.5 1.5l-1.5 -1.5zM515.1 388.6l1.5 1.5l-1.5 1.5l-1.5 -1.5zM712.7 391.6l1.5 1.5l-1.5 1.5l-1.5 -1.5zM661.6 390.1l1.5 1.5l-1.5 1.5l-1.5 -1.5zM553.0 393.6l1.5 1.5l-1.5 1.5l-1.5 -1.5zM616.4 394.9l1.5 1.5l-1.5 1.5l-1.5 -1.5zM683.1 391.9l1.5 1.5l-1.5 1.5l-1.5 -1.5zM546.9 386.4l1.5 1.5l-1.5 1.5l-1.5 -1.5zM527.0 393.4l1.5 1.5l-1.5 1.5l-1.5 -1.5zM560.2 389.0l1.5 1.5l-1.5 1.5l-1.5 -1.5zM556.2 395.2l1.5 1.5l-1.5 1.5l-1.5 -1.5zM738.2 393.5l1.5 1.5l-1.5 1.5l-1.5 -1.5zM718.3 389.9l1.5 1.5l-1.5 1.5l-1.5 -1.5zM753.6 393.6l1.5 1.5l-1.5 1.5l-1.5 -1.5zM734.0 392.2l1.5 1.5l-1.5 1.5l-1.5 -1.5zM739.5 394.0l1.5 1.5l-1.5 1.5l-1.5 -1.5zM535.0 390.9l1.5 1.5l-1.5 1.5l-1.5 -1.5zM767.0 393.8l1.5 1.5l-1.5 1.5l-1.5 -1.5zM663.6 391.6l1.5 1.5l-1.5 1.5l-1.5 -1.5zM526.5 391.2l1.5 1.5l-1.5 1.5l-1.5 -1.5zM729.2 393.8l1.5 1.5l-1.5 1.5l-1.5 -1.5zM506.3 393.6l1.5 1.5l-1.5 1.5l-1.5 -1.5zM622.6 391.4l1.5 1.5l-1.5 1.5l-1.5 -1.5zM554.4 395.3l1.5 1.5l-1.5 1.5l-1.5 -1.5zM759.3 391.9l1.5 1.5l-1.5 1.5l-1.5 -1.5zM626.6 388.7l1.5 1.5l-1.5 1.5l-1.5 -1.5zM528.4 390.3l1.5 1.5l-1.5 1.5l-1.5 -1.5zM744.0 393.2l1.5 1.5l-1.5 1.5l-1.5 -1.5zM618.8 384.0l1.5 1.5l-1.5 1.5l-1.5 -1.5zM548.1 390.9l1.5 1.5l-1.5 1.5l-1.5 -1.5zM645.9 392.4l1.5 1.5l-1.5 1.5l-1.5 -1.5zM687.1 391.6l1.5 1.5l-1.5 1.5l-1.5 -1.5zM696.1 394.2l1.5 1.5l-1.5 1.5l-1.5 -1.5zM721.4 392.8l1.5 1.5l-1.5 1.5l-1.5 -1.5zM576.0 394.7l1.5 1.5l-1.5 1.5l-1.5 -1.5zM719.8 384.1l1.5 1.5l-1.5 1.5l-1.5 -1.5zM754.8 388.5l1.5 1.5l-1.5 1.5l-1.5 -1.5zM780.3 388.0l1.5 1.5l-1.5 1.5l-1.5 -1.5zM712.5 395.1l1.5 1.5l-1.5 1.5l-1.5 -1.5zM511.9 395.0l1.5 1.5l-1.5 1.5l-1.5 -1.5zM683.1 382.1l1.5 1.5l-1.5 1.5l-1.5 -1.5zM639.6 384.4l1.5 1.5l-1.5 1.5l-1.5 -1.5zM559.6 390.1l1.5 1.5l-1.5 1.5l-1.5 -1.5zM686.9 394.8l1.5 1.5l-1.5 1.5l-1.5 -1.5zM592.2 389.8l1.5 1.5l-1.5 1.5l-1.5 -1.5zM655.2 390.0l1.5 1.5l-1.5 1.5l-1.5 -1.5zM647.9 387.6l1.5 1.5l-1.5 1.5l-1.5 -1.5zM673.0 391.7l1.5 1.5l-1.5 1.5l-1.5 -1.5zM743.0 386.8l1.5 1.5l-1.5 1.5l-1.5 -1.5zM689.4 386.6l1.5 1.5l-1.5 1.5l-1.5 -1.5zM754.0 392.1l1.5 1.5l-1.5 1.5l-1.5 -1.5zM738.2 393.5l1.5 1.5l-1.5 1.5l-1.5 -1.5zM624.4 390.4l1.5 1.5l-1.5 1.5l-1.5 -1.5zM765.4 386.9l1.5 1.5l-1.5 1.5l-1.5 -1.5zM755.7 390.8l1.5 1.5l-1.5 1.5l-1.5 -1.5zM766.4 393.3l1.5 1.5l-1.5 1.5l-1.5 -1.5zM584.7 393.7l1.5 1.5l-1.5 1.5l-1.5 -1.5zM639.4 387.6l1.5 1.5l-1.5 1.5l-1.5 -1.5zM757.7 391.0l1.5 1.5l-1.5 1.5l-1.5 -1.5zM521.2 393.3l1.5 1.5l-1.5 1.5l-1.5 -1.5zM701.9 386.4l1.5 1.5l-1.5 1.5l-1.5 -1.5zM544.6 386.4l1.5 1.5l-1.5 1.5l-1.5 -1.5zM734.3 388.3l1.5 1.5l-1.5 1.5l-1.5 -1.5zM690.1 385.2l1.5 1.5l-1.5 1.5l-1.5 -1.5zM629.4 388.2l1.5 1.5l-1.5 1.5l-1.5 -1.5zM782.9 391.7l1.5 1.5l-1.5 1.5l-1.5 -1.5zM726.5 390.1l1.5 1.5l-1.5 1.5l-1.5 -1.5zM509.9 394.9l1.5 1.5l-1.5 1.5l-1.5 -1.5zM758.2 395.3l1.5 1.5l-1.5 1.5l-1.5 -1.5zM628.6 391.9l1.5 1.5l-1.5 1.5l-1.5 -1.5zM750.6 394.4l1.5 1.5l-1.5 1.5l-1.5 -1.5zM599.4 387.0l1.5 1.5l-1.5 1.5l-1.5 -1.5zM627.5 389.4l1.5 1.5l-1.5 1.5l-1.5 -1.5zM543.7 389.9l1.5 1.5l-1.5 1.5l-1.5 -1.5zM643.8 389.5l1.5 1.5l-1.5 1.5l-1.5 -1.5zM612.8 393.8l1.5 1.5l-1.5 1.5l-1.5 -1.5zM561.4 391.0l1.5 1.5l-1.5 1.5l-1.5 -1.5zM548.4 393.8l1.5 1.5l-1.5 1.5l-1.5 -1.5zM647.6 386.8l1.5 1.5l-1.5 1.5l-1.5 -1.5zM564.8 394.7l1.5 1.5l-1.5 1.5l-1.5 -1.5zM768.7 389.9l1.5 1.5l-1.5 1.5l-1.5 -1.5zM611.9 395.1l1.5 1.5l-1.5 1.5l-1.5 -1.5zM594.4 394.6l1.5 1.5l-1.5 1.5l-1.5 -1.5zM524.1 393.7l1.5 1.5l-1.5 1.5l-1.5 -1.5zM614.4 389.6l1.5 1.5l-1.5 1.5l-1.5 -1.5zM782.1 394.1l1.5 1.5l-1.5 1.5l-1.5 -1.5zM571.1 394.4l1.5 1.5l-1.5 1.5l-1.5 -1.5zM554.5 389.8l1.5 1.5l-1.5 1.5l-1.5 -1.5zM665.6 394.7l1.5 1.5l-1.5 1.5l-1.5 -1.5zM625.3 393.3l1.5 1.5l-1.5 1.5l-1.5 -1.5zM642.7 389.2l1.5 1.5l-1.5 1.5l-1.5 -1.5zM745.1 387.8l1.5 1.5l-1.5 1.5l-1.5 -1.5zM646.9 389.3l1.5 1.5l-1.5 1.5l-1.5 -1.5zM786.9 382.2l1.5 1.5l-1.5 1.5l-1.5 -1.5zM652.7 387.0l1.5 1.5l-1.5 1.5l-1.5 -1.5zM545.1 392.5l1.5 1.5l-1.5 1.5l-1.5 -1.5zM640.4 392.7l1.5 1.5l-1.5 1.5l-1.5 -1.5zM668.8 383.2l1.5 1.5l-1.5 1.5l-1.5 -1.5zM599.7 393.2l1.5 1.5l-1.5 1.5l-1.5 -1.5zM742.0 392.2l1.5 1.5l-1.5 1.5l-1.5 -1.5zM660.1 384.9l1.5 1.5l-1.5 1.5l-1.5 -1.5zM503.1 392.9l1.5 1.5l-1.5 1.5l-1.5 -1.5zM733.8 392.2l1.5 1.5l-1.5 1.5l-1.5 -1.5zM601.7 395.0l1.5 1.5l-1.5 1.5l-1.5 -1.5zM699.4 391.3l1.5 1.5l-1.5 1.5l-1.5 -1.5zM540.6 395.5l1.5 1.5l-1.5 1.5l-1.5 -1.5zM654.6 391.8l1.5 1.5l-1.5 1.5l-1.5 -1.5zM724.5 391.4l1.5 1.5l-1.5 1.5l-1.5 -1.5zM512.5 390.1l1.5 1.5l-1.5 1.5l-1.5 -1.5zM597.1 390.0l1.5 1.5l-1.5 1.5l-1.5 -1.5zM694.0 388.2l1.5 1.5l-1.5 1.5l-1.5 -1.5zM583.1 392.9l1.5 1.5l-1.5 1.5l-1.5 -1.5z" fill="none" stroke="#ffa500" stroke-width="0.8" stroke-opacity="0.3"/>
<rect x="502.6" y="438.5" width="288.4" height="7.5" fill="url(#dn)"/>
<path d="M624.2 441.3l1.5 1.5l-1.5 1.5l-1.5 -1.5zM601.5 438.8l1.5 1.5l-1.5 1.5l-1.5 -1.5zM564.4 440.9l1.5 1.5l-1.5 1.5l-1.5 -1.5zM569.8 442.3l1.5 1.5l-1.5 1.5l-1.5 -1.5zM604.6 443.1l1.5 1.5l-1.5 1.5l-1.5 -1.5zM563.4 442.4l1.5 1.5l-1.5 1.5l-1.5 -1.5zM669.6 447.6l1.5 1.5l-1.5 1.5l-1.5 -1.5zM755.8 441.9l1.5 1.5l-1.5 1.5l-1.5 -1.5zM661.7 438.7l1.5 1.5l-1.5 1.5l-1.5 -1.5zM645.7 441.2l1.5 1.5l-1.5 1.5l-1.5 -1.5zM522.6 441.0l1.5 1.5l-1.5 1.5l-1.5 -1.5zM643.2 441.4l1.5 1.5l-1.5 1.5l-1.5 -1.5zM790.4 438.9l1.5 1.5l-1.5 1.5l-1.5 -1.5zM655.7 440.2l1.5 1.5l-1.5 1.5l-1.5 -1.5zM599.8 441.1l1.5 1.5l-1.5 1.5l-1.5 -1.5zM762.0 447.8l1.5 1.5l-1.5 1.5l-1.5 -1.5zM551.2 440.1l1.5 1.5l-1.5 1.5l-1.5 -1.5zM676.1 443.8l1.5 1.5l-1.5 1.5l-1.5 -1.5zM676.8 439.9l1.5 1.5l-1.5 1.5l-1.5 -1.5zM698.5 441.4l1.5 1.5l-1.5 1.5l-1.5 -1.5zM636.4 449.7l1.5 1.5l-1.5 1.5l-1.5 -1.5zM580.8 447.2l1.5 1.5l-1.5 1.5l-1.5 -1.5zM701.3 443.7l1.5 1.5l-1.5 1.5l-1.5 -1.5zM604.3 440.2l1.5 1.5l-1.5 1.5l-1.5 -1.5zM702.0 442.3l1.5 1.5l-1.5 1.5l-1.5 -1.5zM523.5 439.2l1.5 1.5l-1.5 1.5l-1.5 -1.5zM703.9 438.6l1.5 1.5l-1.5 1.5l-1.5 -1.5zM643.1 439.0l1.5 1.5l-1.5 1.5l-1.5 -1.5zM700.8 440.1l1.5 1.5l-1.5 1.5l-1.5 -1.5zM681.5 440.5l1.5 1.5l-1.5 1.5l-1.5 -1.5zM740.0 438.7l1.5 1.5l-1.5 1.5l-1.5 -1.5zM783.6 444.0l1.5 1.5l-1.5 1.5l-1.5 -1.5zM504.6 438.9l1.5 1.5l-1.5 1.5l-1.5 -1.5zM640.7 448.6l1.5 1.5l-1.5 1.5l-1.5 -1.5zM603.6 438.5l1.5 1.5l-1.5 1.5l-1.5 -1.5zM733.9 439.3l1.5 1.5l-1.5 1.5l-1.5 -1.5zM570.8 445.2l1.5 1.5l-1.5 1.5l-1.5 -1.5zM672.1 448.0l1.5 1.5l-1.5 1.5l-1.5 -1.5zM738.2 438.6l1.5 1.5l-1.5 1.5l-1.5 -1.5zM683.5 445.4l1.5 1.5l-1.5 1.5l-1.5 -1.5zM666.9 445.3l1.5 1.5l-1.5 1.5l-1.5 -1.5zM704.4 441.9l1.5 1.5l-1.5 1.5l-1.5 -1.5zM752.4 443.7l1.5 1.5l-1.5 1.5l-1.5 -1.5zM575.9 442.3l1.5 1.5l-1.5 1.5l-1.5 -1.5zM759.6 443.2l1.5 1.5l-1.5 1.5l-1.5 -1.5zM757.2 439.0l1.5 1.5l-1.5 1.5l-1.5 -1.5zM569.1 440.4l1.5 1.5l-1.5 1.5l-1.5 -1.5zM674.4 439.5l1.5 1.5l-1.5 1.5l-1.5 -1.5zM528.8 444.2l1.5 1.5l-1.5 1.5l-1.5 -1.5zM637.8 439.4l1.5 1.5l-1.5 1.5l-1.5 -1.5zM782.7 438.6l1.5 1.5l-1.5 1.5l-1.5 -1.5zM700.6 448.9l1.5 1.5l-1.5 1.5l-1.5 -1.5zM716.8 441.3l1.5 1.5l-1.5 1.5l-1.5 -1.5zM572.0 443.3l1.5 1.5l-1.5 1.5l-1.5 -1.5zM549.5 444.9l1.5 1.5l-1.5 1.5l-1.5 -1.5zM615.3 441.2l1.5 1.5l-1.5 1.5l-1.5 -1.5zM781.3 439.0l1.5 1.5l-1.5 1.5l-1.5 -1.5zM711.1 439.2l1.5 1.5l-1.5 1.5l-1.5 -1.5zM577.3 439.8l1.5 1.5l-1.5 1.5l-1.5 -1.5zM696.9 443.0l1.5 1.5l-1.5 1.5l-1.5 -1.5zM583.9 441.8l1.5 1.5l-1.5 1.5l-1.5 -1.5zM738.6 438.7l1.5 1.5l-1.5 1.5l-1.5 -1.5zM625.4 440.5l1.5 1.5l-1.5 1.5l-1.5 -1.5zM723.1 447.3l1.5 1.5l-1.5 1.5l-1.5 -1.5zM739.0 440.7l1.5 1.5l-1.5 1.5l-1.5 -1.5zM760.2 444.9l1.5 1.5l-1.5 1.5l-1.5 -1.5zM657.5 449.3l1.5 1.5l-1.5 1.5l-1.5 -1.5zM523.9 440.4l1.5 1.5l-1.5 1.5l-1.5 -1.5zM717.4 443.4l1.5 1.5l-1.5 1.5l-1.5 -1.5zM778.5 447.8l1.5 1.5l-1.5 1.5l-1.5 -1.5zM689.4 441.0l1.5 1.5l-1.5 1.5l-1.5 -1.5zM624.7 441.6l1.5 1.5l-1.5 1.5l-1.5 -1.5zM575.2 438.6l1.5 1.5l-1.5 1.5l-1.5 -1.5zM528.2 446.6l1.5 1.5l-1.5 1.5l-1.5 -1.5zM592.2 440.6l1.5 1.5l-1.5 1.5l-1.5 -1.5zM776.3 439.7l1.5 1.5l-1.5 1.5l-1.5 -1.5zM756.2 440.4l1.5 1.5l-1.5 1.5l-1.5 -1.5zM747.4 444.9l1.5 1.5l-1.5 1.5l-1.5 -1.5zM761.9 440.2l1.5 1.5l-1.5 1.5l-1.5 -1.5zM581.3 445.0l1.5 1.5l-1.5 1.5l-1.5 -1.5zM716.6 444.1l1.5 1.5l-1.5 1.5l-1.5 -1.5zM767.1 438.7l1.5 1.5l-1.5 1.5l-1.5 -1.5zM778.6 439.6l1.5 1.5l-1.5 1.5l-1.5 -1.5zM699.9 450.0l1.5 1.5l-1.5 1.5l-1.5 -1.5zM753.5 442.4l1.5 1.5l-1.5 1.5l-1.5 -1.5zM722.7 441.0l1.5 1.5l-1.5 1.5l-1.5 -1.5zM691.5 439.4l1.5 1.5l-1.5 1.5l-1.5 -1.5zM544.1 445.6l1.5 1.5l-1.5 1.5l-1.5 -1.5zM658.8 446.4l1.5 1.5l-1.5 1.5l-1.5 -1.5zM522.3 439.3l1.5 1.5l-1.5 1.5l-1.5 -1.5zM713.0 441.8l1.5 1.5l-1.5 1.5l-1.5 -1.5zM544.0 443.9l1.5 1.5l-1.5 1.5l-1.5 -1.5zM660.0 439.8l1.5 1.5l-1.5 1.5l-1.5 -1.5zM574.6 443.0l1.5 1.5l-1.5 1.5l-1.5 -1.5zM788.2 440.4l1.5 1.5l-1.5 1.5l-1.5 -1.5zM567.2 443.2l1.5 1.5l-1.5 1.5l-1.5 -1.5zM701.1 443.5l1.5 1.5l-1.5 1.5l-1.5 -1.5zM625.1 446.1l1.5 1.5l-1.5 1.5l-1.5 -1.5zM584.9 446.7l1.5 1.5l-1.5 1.5l-1.5 -1.5zM768.2 444.9l1.5 1.5l-1.5 1.5l-1.5 -1.5zM567.7 443.5l1.5 1.5l-1.5 1.5l-1.5 -1.5zM512.2 444.7l1.5 1.5l-1.5 1.5l-1.5 -1.5zM586.6 447.9l1.5 1.5l-1.5 1.5l-1.5 -1.5zM514.7 443.7l1.5 1.5l-1.5 1.5l-1.5 -1.5zM593.8 442.4l1.5 1.5l-1.5 1.5l-1.5 -1.5zM788.8 447.4l1.5 1.5l-1.5 1.5l-1.5 -1.5zM628.9 441.6l1.5 1.5l-1.5 1.5l-1.5 -1.5zM537.6 442.5l1.5 1.5l-1.5 1.5l-1.5 -1.5zM558.3 438.9l1.5 1.5l-1.5 1.5l-1.5 -1.5zM637.9 438.8l1.5 1.5l-1.5 1.5l-1.5 -1.5zM607.1 442.0l1.5 1.5l-1.5 1.5l-1.5 -1.5zM739.9 440.2l1.5 1.5l-1.5 1.5l-1.5 -1.5zM698.0 440.1l1.5 1.5l-1.5 1.5l-1.5 -1.5zM597.8 440.2l1.5 1.5l-1.5 1.5l-1.5 -1.5zM626.6 438.9l1.5 1.5l-1.5 1.5l-1.5 -1.5zM657.2 448.5l1.5 1.5l-1.5 1.5l-1.5 -1.5zM622.9 442.7l1.5 1.5l-1.5 1.5l-1.5 -1.5zM661.6 442.1l1.5 1.5l-1.5 1.5l-1.5 -1.5zM517.6 438.6l1.5 1.5l-1.5 1.5l-1.5 -1.5zM587.0 447.8l1.5 1.5l-1.5 1.5l-1.5 -1.5zM512.3 442.4l1.5 1.5l-1.5 1.5l-1.5 -1.5zM544.1 438.5l1.5 1.5l-1.5 1.5l-1.5 -1.5zM545.5 443.6l1.5 1.5l-1.5 1.5l-1.5 -1.5zM511.4 441.3l1.5 1.5l-1.5 1.5l-1.5 -1.5zM717.3 443.2l1.5 1.5l-1.5 1.5l-1.5 -1.5zM618.5 448.9l1.5 1.5l-1.5 1.5l-1.5 -1.5zM661.6 439.6l1.5 1.5l-1.5 1.5l-1.5 -1.5zM559.2 446.6l1.5 1.5l-1.5 1.5l-1.5 -1.5zM567.4 440.4l1.5 1.5l-1.5 1.5l-1.5 -1.5zM718.1 442.3l1.5 1.5l-1.5 1.5l-1.5 -1.5zM614.3 439.5l1.5 1.5l-1.5 1.5l-1.5 -1.5zM513.9 441.0l1.5 1.5l-1.5 1.5l-1.5 -1.5zM685.3 445.2l1.5 1.5l-1.5 1.5l-1.5 -1.5zM531.2 440.8l1.5 1.5l-1.5 1.5l-1.5 -1.5zM546.1 447.6l1.5 1.5l-1.5 1.5l-1.5 -1.5zM619.2 441.7l1.5 1.5l-1.5 1.5l-1.5 -1.5zM718.3 442.7l1.5 1.5l-1.5 1.5l-1.5 -1.5zM504.4 445.2l1.5 1.5l-1.5 1.5l-1.5 -1.5zM517.9 442.4l1.5 1.5l-1.5 1.5l-1.5 -1.5zM656.4 447.3l1.5 1.5l-1.5 1.5l-1.5 -1.5zM748.9 443.3l1.5 1.5l-1.5 1.5l-1.5 -1.5zM633.4 439.1l1.5 1.5l-1.5 1.5l-1.5 -1.5zM586.8 446.7l1.5 1.5l-1.5 1.5l-1.5 -1.5zM610.1 445.3l1.5 1.5l-1.5 1.5l-1.5 -1.5zM619.0 439.5l1.5 1.5l-1.5 1.5l-1.5 -1.5zM643.6 449.5l1.5 1.5l-1.5 1.5l-1.5 -1.5zM759.7 442.4l1.5 1.5l-1.5 1.5l-1.5 -1.5zM560.9 443.2l1.5 1.5l-1.5 1.5l-1.5 -1.5zM602.2 440.0l1.5 1.5l-1.5 1.5l-1.5 -1.5zM573.8 438.7l1.5 1.5l-1.5 1.5l-1.5 -1.5zM614.9 440.8l1.5 1.5l-1.5 1.5l-1.5 -1.5zM758.1 444.1l1.5 1.5l-1.5 1.5l-1.5 -1.5zM658.4 441.0l1.5 1.5l-1.5 1.5l-1.5 -1.5zM653.7 438.7l1.5 1.5l-1.5 1.5l-1.5 -1.5zM552.8 439.2l1.5 1.5l-1.5 1.5l-1.5 -1.5zM552.3 441.5l1.5 1.5l-1.5 1.5l-1.5 -1.5zM681.3 442.9l1.5 1.5l-1.5 1.5l-1.5 -1.5zM776.1 439.5l1.5 1.5l-1.5 1.5l-1.5 -1.5zM528.5 443.2l1.5 1.5l-1.5 1.5l-1.5 -1.5zM743.4 442.9l1.5 1.5l-1.5 1.5l-1.5 -1.5zM597.5 441.7l1.5 1.5l-1.5 1.5l-1.5 -1.5zM764.8 440.2l1.5 1.5l-1.5 1.5l-1.5 -1.5zM767.0 442.8l1.5 1.5l-1.5 1.5l-1.5 -1.5zM571.7 439.3l1.5 1.5l-1.5 1.5l-1.5 -1.5zM676.7 443.0l1.5 1.5l-1.5 1.5l-1.5 -1.5zM668.2 439.8l1.5 1.5l-1.5 1.5l-1.5 -1.5zM623.5 443.9l1.5 1.5l-1.5 1.5l-1.5 -1.5zM633.0 438.8l1.5 1.5l-1.5 1.5l-1.5 -1.5zM693.3 439.5l1.5 1.5l-1.5 1.5l-1.5 -1.5zM761.6 440.5l1.5 1.5l-1.5 1.5l-1.5 -1.5zM655.2 444.9l1.5 1.5l-1.5 1.5l-1.5 -1.5zM667.6 439.2l1.5 1.5l-1.5 1.5l-1.5 -1.5zM652.3 444.2l1.5 1.5l-1.5 1.5l-1.5 -1.5zM527.6 448.5l1.5 1.5l-1.5 1.5l-1.5 -1.5zM687.7 440.3l1.5 1.5l-1.5 1.5l-1.5 -1.5zM773.4 439.6l1.5 1.5l-1.5 1.5l-1.5 -1.5zM705.5 440.1l1.5 1.5l-1.5 1.5l-1.5 -1.5zM564.4 439.6l1.5 1.5l-1.5 1.5l-1.5 -1.5zM669.3 444.8l1.5 1.5l-1.5 1.5l-1.5 -1.5zM599.3 450.1l1.5 1.5l-1.5 1.5l-1.5 -1.5zM661.2 441.4l1.5 1.5l-1.5 1.5l-1.5 -1.5zM682.4 442.0l1.5 1.5l-1.5 1.5l-1.5 -1.5zM721.4 449.7l1.5 1.5l-1.5 1.5l-1.5 -1.5zM750.6 438.7l1.5 1.5l-1.5 1.5l-1.5 -1.5zM731.3 439.4l1.5 1.5l-1.5 1.5l-1.5 -1.5zM713.5 438.7l1.5 1.5l-1.5 1.5l-1.5 -1.5zM556.2 440.5l1.5 1.5l-1.5 1.5l-1.5 -1.5zM557.6 443.3l1.5 1.5l-1.5 1.5l-1.5 -1.5zM675.9 442.8l1.5 1.5l-1.5 1.5l-1.5 -1.5zM776.5 438.8l1.5 1.5l-1.5 1.5l-1.5 -1.5zM660.2 439.1l1.5 1.5l-1.5 1.5l-1.5 -1.5zM587.5 440.9l1.5 1.5l-1.5 1.5l-1.5 -1.5zM722.8 444.4l1.5 1.5l-1.5 1.5l-1.5 -1.5zM654.1 445.2l1.5 1.5l-1.5 1.5l-1.5 -1.5zM618.6 440.3l1.5 1.5l-1.5 1.5l-1.5 -1.5zM632.9 448.2l1.5 1.5l-1.5 1.5l-1.5 -1.5zM719.9 441.4l1.5 1.5l-1.5 1.5l-1.5 -1.5zM613.2 441.0l1.5 1.5l-1.5 1.5l-1.5 -1.5zM589.1 441.8l1.5 1.5l-1.5 1.5l-1.5 -1.5zM506.7 441.2l1.5 1.5l-1.5 1.5l-1.5 -1.5zM575.3 447.8l1.5 1.5l-1.5 1.5l-1.5 -1.5zM527.1 441.5l1.5 1.5l-1.5 1.5l-1.5 -1.5zM568.1 439.4l1.5 1.5l-1.5 1.5l-1.5 -1.5zM560.0 439.4l1.5 1.5l-1.5 1.5l-1.5 -1.5zM614.5 447.4l1.5 1.5l-1.5 1.5l-1.5 -1.5zM773.5 443.3l1.5 1.5l-1.5 1.5l-1.5 -1.5zM590.4 440.4l1.5 1.5l-1.5 1.5l-1.5 -1.5zM576.1 440.4l1.5 1.5l-1.5 1.5l-1.5 -1.5zM736.4 440.3l1.5 1.5l-1.5 1.5l-1.5 -1.5zM725.2 441.6l1.5 1.5l-1.5 1.5l-1.5 -1.5zM506.7 441.0l1.5 1.5l-1.5 1.5l-1.5 -1.5zM631.2 443.8l1.5 1.5l-1.5 1.5l-1.5 -1.5zM574.0 440.1l1.5 1.5l-1.5 1.5l-1.5 -1.5zM557.7 445.2l1.5 1.5l-1.5 1.5l-1.5 -1.5zM515.0 446.1l1.5 1.5l-1.5 1.5l-1.5 -1.5zM661.3 443.5l1.5 1.5l-1.5 1.5l-1.5 -1.5zM616.2 444.0l1.5 1.5l-1.5 1.5l-1.5 -1.5zM698.0 443.4l1.5 1.5l-1.5 1.5l-1.5 -1.5zM731.7 444.8l1.5 1.5l-1.5 1.5l-1.5 -1.5zM507.0 439.7l1.5 1.5l-1.5 1.5l-1.5 -1.5zM548.2 441.7l1.5 1.5l-1.5 1.5l-1.5 -1.5zM560.0 443.2l1.5 1.5l-1.5 1.5l-1.5 -1.5zM729.8 443.8l1.5 1.5l-1.5 1.5l-1.5 -1.5zM573.8 441.9l1.5 1.5l-1.5 1.5l-1.5 -1.5zM778.2 443.4l1.5 1.5l-1.5 1.5l-1.5 -1.5zM621.8 438.6l1.5 1.5l-1.5 1.5l-1.5 -1.5zM741.6 443.2l1.5 1.5l-1.5 1.5l-1.5 -1.5zM640.0 446.1l1.5 1.5l-1.5 1.5l-1.5 -1.5zM771.9 439.4l1.5 1.5l-1.5 1.5l-1.5 -1.5zM625.0 442.9l1.5 1.5l-1.5 1.5l-1.5 -1.5zM508.6 441.5l1.5 1.5l-1.5 1.5l-1.5 -1.5zM750.4 439.9l1.5 1.5l-1.5 1.5l-1.5 -1.5zM671.6 443.7l1.5 1.5l-1.5 1.5l-1.5 -1.5zM731.9 446.5l1.5 1.5l-1.5 1.5l-1.5 -1.5zM694.1 444.7l1.5 1.5l-1.5 1.5l-1.5 -1.5zM528.9 439.7l1.5 1.5l-1.5 1.5l-1.5 -1.5zM757.9 442.5l1.5 1.5l-1.5 1.5l-1.5 -1.5zM576.6 440.6l1.5 1.5l-1.5 1.5l-1.5 -1.5zM631.0 440.6l1.5 1.5l-1.5 1.5l-1.5 -1.5zM525.2 441.7l1.5 1.5l-1.5 1.5l-1.5 -1.5zM613.2 438.8l1.5 1.5l-1.5 1.5l-1.5 -1.5zM741.8 439.4l1.5 1.5l-1.5 1.5l-1.5 -1.5zM524.8 448.4l1.5 1.5l-1.5 1.5l-1.5 -1.5zM568.4 448.0l1.5 1.5l-1.5 1.5l-1.5 -1.5zM752.0 439.5l1.5 1.5l-1.5 1.5l-1.5 -1.5zM725.0 439.0l1.5 1.5l-1.5 1.5l-1.5 -1.5zM736.7 440.6l1.5 1.5l-1.5 1.5l-1.5 -1.5zM573.8 450.4l1.5 1.5l-1.5 1.5l-1.5 -1.5zM621.9 442.8l1.5 1.5l-1.5 1.5l-1.5 -1.5zM615.6 447.8l1.5 1.5l-1.5 1.5l-1.5 -1.5zM741.5 449.0l1.5 1.5l-1.5 1.5l-1.5 -1.5zM665.8 446.6l1.5 1.5l-1.5 1.5l-1.5 -1.5zM635.9 445.6l1.5 1.5l-1.5 1.5l-1.5 -1.5zM544.0 442.0l1.5 1.5l-1.5 1.5l-1.5 -1.5zM711.6 439.9l1.5 1.5l-1.5 1.5l-1.5 -1.5zM726.2 443.8l1.5 1.5l-1.5 1.5l-1.5 -1.5zM715.1 442.4l1.5 1.5l-1.5 1.5l-1.5 -1.5zM639.3 442.4l1.5 1.5l-1.5 1.5l-1.5 -1.5zM636.8 442.1l1.5 1.5l-1.5 1.5l-1.5 -1.5zM633.2 439.7l1.5 1.5l-1.5 1.5l-1.5 -1.5z" fill="none" stroke="#ffa500" stroke-width="0.8" stroke-opacity="0.3"/>
<rect x="502.6" y="399.5" width="288.4" height="36.0" fill="#ffa500"/>
<rect x="496.0" y="436.0" width="301.0" height="3.0" fill="#ffa500"/>
<rect x="502.6" y="403.0" width="288.4" height="1.1" fill="#ffffff"/>
<rect x="502.6" y="419.0" width="288.4" height="1.1" fill="#ffffff"/>
<rect x="502.6" y="435.0" width="288.4" height="1.1" fill="#ffffff"/>
<rect x="541.5" y="403.0" width="1.2" height="32.5" fill="#ffffff" fill-opacity="0.8"/>
<rect x="642.2" y="403.0" width="1.2" height="32.5" fill="#ffffff" fill-opacity="0.8"/>
<rect x="740.7" y="403.0" width="1.2" height="32.5" fill="#ffffff" fill-opacity="0.8"/>
<polyline points="110.5,589.5 110.5,547.0" fill="none" stroke="#0000ff" stroke-width="3.0" stroke-linejoin="round" stroke-linecap="round"/>
<polyline points="111.7,547.0 112.5,552.0 113.5,557.0 116.0,560.5" fill="none" stroke="#0000ff" stroke-width="3.6" stroke-linejoin="round" stroke-linecap="round"/>
<polygon points="114.0,557.2 115.0,557.6 116.0,557.4 117.0,558.0 118.0,557.3 119.0,557.4 120.0,557.6 121.0,558.0 122.0,558.4 123.0,557.6 124.0,558.2 125.0,558.6 126.0,558.6 127.0,558.4 128.0,557.8 129.0,558.7 130.0,558.5 131.0,558.9 132.0,559.1 133.0,558.9 134.0,559.1 135.0,558.6 136.0,557.4 137.0,557.7 138.0,558.2 139.0,557.8 140.0,557.6 141.0,558.1 142.1,558.2 143.1,558.5 144.1,557.8 145.1,556.8 146.1,555.2 147.1,555.2 148.1,556.0 149.1,558.2 150.1,558.7 151.1,559.1 152.1,559.0 153.1,559.2 154.1,560.0 155.1,559.8 156.1,559.5 157.1,558.5 158.1,558.4 159.1,559.5 160.1,559.0 161.1,559.3 162.1,559.7 163.1,559.6 164.1,559.3 165.1,559.3 166.1,560.3 167.1,560.3 168.1,560.4 169.1,560.4 170.1,560.4 171.1,560.1 172.1,560.5 173.1,560.3 174.1,560.7 175.1,560.8 176.1,560.0 177.1,560.9 178.1,560.2 179.1,560.9 180.1,560.0 181.1,560.8 182.1,561.0 183.1,561.2 184.1,561.0 185.1,560.9 186.1,560.9 187.1,561.4 188.1,560.1 189.1,560.9 190.1,561.4 191.1,560.5 192.1,561.6 193.1,561.0 194.1,561.5 195.1,561.9 196.1,561.4 197.1,561.5 198.2,561.8 199.2,561.4 200.2,561.6 201.2,561.6 202.2,561.1 203.2,561.5 204.2,560.7 205.2,561.4 206.2,561.3 207.2,561.3 208.2,561.1 209.2,561.5 210.2,561.2 211.2,562.2 212.2,561.9 213.2,561.9 214.2,561.9 215.2,560.7 216.2,561.6 217.2,562.1 218.2,562.2 219.2,562.2 220.2,561.9 221.2,562.1 222.2,562.0 223.2,561.9 224.2,562.1 225.2,561.6 226.2,562.1 227.2,561.9 228.2,561.8 229.2,562.1 230.2,561.2 231.2,561.9 232.2,561.1 233.2,561.5 234.2,561.4 235.2,560.2 236.2,561.8 237.2,561.9 238.2,562.0 239.2,562.3 240.2,562.4 241.2,562.5 242.2,562.5 243.2,562.6 244.2,562.5 245.2,562.6 246.2,562.2 247.2,562.4 248.2,561.8 249.2,562.6 250.2,562.4 251.2,562.7 252.2,562.3 253.2,562.9 254.3,562.9 255.3,562.5 256.3,562.0 257.3,562.9 258.3,562.3 259.3,561.2 260.3,562.3 261.3,562.6 262.3,562.7 263.3,562.7 264.3,562.4 265.3,563.1 266.3,563.1 267.3,563.1 268.3,563.4 269.3,563.4 270.3,562.2 271.3,563.3 272.3,563.3 273.3,563.9 274.3,563.4 275.3,562.9 276.3,563.1 277.3,563.7 278.3,563.1 279.3,563.4 280.3,563.3 281.3,562.8 282.3,562.0 283.3,561.3 284.3,559.9 285.3,560.8 286.3,561.0 287.3,562.9 288.3,563.0 289.3,562.9 290.3,563.1 291.3,563.3 292.3,562.9 293.3,562.8 294.3,563.2 295.3,563.4 296.3,563.0 297.3,563.2 298.3,562.8 299.3,562.9 300.3,562.8 301.3,563.1 302.3,563.3 303.3,563.5 304.3,563.2 305.3,563.3 306.3,562.8 307.3,563.1 308.3,562.8 309.3,562.8 310.4,563.1 311.4,562.3 312.4,563.4 313.4,563.5 314.4,563.7 315.4,563.2 316.4,562.1 317.4,563.7 318.4,564.1 319.4,564.1 320.4,563.8 321.4,564.3 322.4,564.5 323.4,563.6 324.4,564.6 325.4,564.1 326.4,563.2 327.4,564.5 328.4,564.6 329.4,564.0 330.4,563.5 331.4,563.4 332.4,561.5 333.4,559.9 334.4,558.2 335.4,559.0 336.4,562.1 337.4,563.4 338.4,563.5 339.4,563.8 340.4,563.3 341.4,563.2 342.4,563.6 343.4,561.5 344.4,560.9 345.4,562.1 346.4,563.9 347.4,564.0 348.4,563.6 349.4,564.3 350.4,563.8 351.4,564.7 352.4,565.3 353.4,565.0 354.4,565.7 355.4,565.6 356.4,565.1 357.4,565.6 358.4,566.0 359.4,566.3 360.4,565.9 361.4,566.2 362.4,566.6 363.4,566.3 364.4,565.7 365.4,565.5 366.5,564.5 367.5,563.8 368.5,561.4 369.5,560.9 370.5,561.6 371.5,563.8 372.5,565.0 373.5,564.5 374.5,563.2 375.5,562.8 376.5,561.6 377.5,560.3 378.5,561.3 379.5,561.9 380.5,563.7 381.5,563.3 382.5,563.7 383.5,563.4 384.5,562.9 385.5,562.8 386.5,562.3 387.5,562.0 388.5,560.7 389.5,560.6 390.5,559.0 391.5,559.4 392.5,559.1 393.5,559.6 393.5,565.8 392.5,565.5 391.5,565.3 390.5,565.3 389.5,567.1 388.5,568.0 387.5,568.7 386.5,569.3 385.5,568.8 384.5,569.3 383.5,570.2 382.5,571.1 381.5,569.9 380.5,569.9 379.5,569.8 378.5,567.9 377.5,566.5 376.5,567.8 375.5,569.3 374.5,571.1 373.5,571.7 372.5,571.4 371.5,570.0 370.5,568.3 369.5,567.8 368.5,569.2 367.5,570.6 366.5,572.1 365.4,571.7 364.4,572.5 363.4,572.5 362.4,572.5 361.4,573.4 360.4,572.8 359.4,572.1 358.4,572.3 357.4,571.9 356.4,572.7 355.4,571.6 354.4,571.5 353.4,571.7 352.4,571.9 351.4,571.0 350.4,571.0 349.4,570.7 348.4,571.5 347.4,571.4 346.4,569.6 345.4,568.7 344.4,567.4 343.4,569.2 342.4,569.3 341.4,570.4 340.4,570.4 339.4,570.0 338.4,570.6 337.4,569.6 336.4,568.7 335.4,566.3 334.4,564.3 333.4,567.2 332.4,568.3 331.4,570.6 330.4,571.0 329.4,571.3 328.4,571.0 327.4,570.8 326.4,571.3 325.4,571.2 324.4,570.9 323.4,570.3 322.4,570.6 321.4,570.9 320.4,570.5 319.4,570.9 318.4,570.2 317.4,570.8 316.4,570.6 315.4,570.8 314.4,570.8 313.4,569.6 312.4,569.6 311.4,569.4 310.4,569.4 309.3,569.5 308.3,569.4 307.3,569.9 306.3,569.5 305.3,569.7 304.3,569.7 303.3,570.5 302.3,569.7 301.3,570.0 300.3,569.9 299.3,569.3 298.3,569.7 297.3,569.5 296.3,569.7 295.3,569.2 294.3,569.5 293.3,569.8 292.3,570.2 291.3,569.4 290.3,569.7 289.3,569.0 288.3,570.3 287.3,568.8 286.3,568.6 285.3,567.7 284.3,567.7 283.3,568.9 282.3,569.5 281.3,569.1 280.3,569.3 279.3,569.1 278.3,570.0 277.3,570.9 276.3,569.8 275.3,570.0 274.3,570.3 273.3,570.9 272.3,570.2 271.3,570.1 270.3,569.6 269.3,569.6 268.3,569.2 267.3,569.5 266.3,570.0 265.3,569.2 264.3,569.2 263.3,569.5 262.3,568.9 261.3,569.4 260.3,568.7 259.3,569.2 258.3,569.3 257.3,569.2 256.3,569.6 255.3,569.6 254.3,569.0 253.2,570.2 252.2,569.2 251.2,568.8 250.2,569.7 249.2,568.8 248.2,568.7 247.2,568.4 246.2,568.4 245.2,569.3 244.2,568.8 243.2,568.7 242.2,569.1 241.2,569.3 240.2,568.3 239.2,568.8 238.2,568.8 237.2,568.4 236.2,568.2 235.2,567.9 234.2,568.1 233.2,567.6 232.2,567.7 231.2,567.7 230.2,568.7 229.2,569.5 228.2,567.9 227.2,568.1 226.2,568.0 225.2,568.5 224.2,568.1 223.2,567.9 222.2,567.9 221.2,568.2 220.2,568.2 219.2,568.1 218.2,567.8 217.2,567.9 216.2,568.0 215.2,568.7 214.2,568.6 213.2,568.0 212.2,568.4 211.2,567.9 210.2,568.3 209.2,568.6 208.2,568.8 207.2,568.2 206.2,568.1 205.2,568.3 204.2,568.6 203.2,568.2 202.2,568.0 201.2,568.2 200.2,568.2 199.2,568.0 198.2,567.8 197.1,568.3 196.1,568.5 195.1,568.6 194.1,567.9 193.1,567.9 192.1,568.3 191.1,567.5 190.1,567.6 189.1,567.9 188.1,567.2 187.1,567.6 186.1,567.4 185.1,567.7 184.1,569.0 183.1,567.0 182.1,567.1 181.1,566.8 180.1,567.1 179.1,567.7 178.1,567.0 177.1,566.9 176.1,567.1 175.1,566.6 174.1,567.9 173.1,566.7 172.1,567.6 171.1,566.5 170.1,566.5 169.1,566.2 168.1,566.2 167.1,566.1 166.1,566.8 165.1,566.4 164.1,566.0 163.1,566.0 162.1,565.7 161.1,565.6 160.1,565.7 159.1,566.3 158.1,565.5 157.1,565.4 156.1,566.5 155.1,566.4 154.1,566.9 153.1,566.4 152.1,565.6 151.1,565.7 150.1,564.9 149.1,564.5 148.1,563.8 147.1,562.1 146.1,561.7 145.1,563.0 144.1,563.7 143.1,564.5 142.1,565.1 141.0,563.9 140.0,564.5 139.0,563.8 138.0,564.2 137.0,564.4 136.0,565.4 135.0,564.7 134.0,565.0 133.0,566.2 132.0,565.3 131.0,565.0 130.0,566.3 129.0,565.3 128.0,564.9 127.0,564.9 126.0,564.7 125.0,566.0 124.0,565.7 123.0,564.9 122.0,564.3 121.0,564.1 120.0,564.2 119.0,564.4 118.0,563.8 117.0,563.8 116.0,563.6 115.0,564.3 114.0,564.0" fill="#0000ff"/>
<polyline points="394.4,566.0 394.4,589.5" fill="none" stroke="#0000ff" stroke-width="3.0" stroke-linejoin="round" stroke-linecap="round"/>
<polyline points="232.4,565.0 232.4,531.0" fill="none" stroke="#0000ff" stroke-width="3.0" stroke-linejoin="round" stroke-linecap="round"/>
<polygon points="153.9,553.0 157.5,558.0 157.8,567.0 154.0,573.0 150.3,567.0 150.5,558.0" fill="#0000ff"/>
<polygon points="310.0,553.0 312.3,562.0 312.5,570.0 310.0,577.0 307.7,570.0 307.7,562.0" fill="#0000ff" fill-opacity="0.8"/>
<polygon points="389.0,566.0 389.5,559.0 391.0,557.5 393.5,558.0 394.5,566.0" fill="#0000ff"/>
<path d="M338.5 577.0L340.1 578.6L338.5 580.2L336.9 578.6Z" fill="none" stroke="#0000ff" stroke-width="0.7" stroke-opacity="0.35"/>
<path d="M357.4 573.0L359.0 574.6L357.4 576.2L355.8 574.6Z" fill="none" stroke="#0000ff" stroke-width="0.7" stroke-opacity="0.35"/>
<rect x="496.0" y="571.0" width="7.0" height="3.0" fill="#ffa500"/>
<rect x="789.0" y="571.0" width="8.0" height="3.0" fill="#ffa500"/>
<rect x="502.6" y="568.5" width="285.4" height="6.5" fill="#ffa500"/>
<polygon points="547.4,529.0 551.2,537.0 552.3,568.0 552.3,575.0 551.2,604.0 547.4,621.0 543.5,604.0 542.5,575.0 542.5,568.0 543.5,537.0" fill="#ffa500" fill-opacity="0.35"/>
<polygon points="547.4,537.0 550.5,552.5 550.9,568.0 550.9,575.0 550.5,589.5 547.4,604.0 544.2,589.5 543.9,575.0 543.9,568.0 544.2,552.5" fill="#ffa500"/>
<polygon points="704.3,535.0 707.9,543.0 708.8,568.0 708.8,575.0 707.9,601.0 704.3,611.0 700.7,601.0 699.8,575.0 699.8,568.0 700.7,543.0" fill="#ffa500" fill-opacity="0.35"/>
<polygon points="704.3,543.0 707.2,555.5 707.5,568.0 707.5,575.0 707.2,588.0 704.3,601.0 701.4,588.0 701.0,575.0 701.0,568.0 701.4,555.5" fill="#ffa500"/>
<polyline points="110.5,744.6 110.5,708.0" fill="none" stroke="#0000ff" stroke-width="3.0" stroke-linejoin="round" stroke-linecap="round"/>
<polygon points="111.0,711.7 112.0,711.3 113.0,711.6 114.0,710.6 115.0,711.6 116.0,711.8 117.0,711.9 118.0,712.3 119.0,710.9 120.0,712.3 121.0,712.1 122.0,711.7 123.0,711.3 124.0,712.2 125.0,711.2 126.0,711.9 127.0,712.1 128.0,710.8 129.0,712.0 130.0,711.5 131.0,711.8 132.0,711.5 133.0,710.6 134.0,711.4 135.0,711.7 136.0,711.6 137.0,711.3 138.0,710.8 139.0,711.2 140.0,711.3 141.0,709.8 142.0,711.1 143.0,711.2 144.0,711.0 145.0,709.6 146.0,710.9 147.0,710.6 148.0,710.9 149.0,711.6 150.0,711.8 151.0,711.7 152.0,710.5 153.0,711.2 154.0,711.2 155.0,710.7 156.0,711.9 157.0,710.3 158.0,711.1 159.0,710.4 160.0,710.5 161.0,711.3 162.0,711.1 163.0,711.4 164.0,711.2 165.0,711.6 166.0,711.5 167.0,711.6 168.0,710.7 169.0,710.6 170.0,711.8 171.0,710.4 172.0,711.9 173.0,711.2 174.0,711.9 175.0,711.3 176.0,711.8 177.0,711.7 178.0,711.5 179.0,711.6 180.0,711.0 181.0,711.3 182.0,711.5 183.0,711.2 184.0,711.4 185.0,711.0 186.0,711.5 187.0,710.5 188.0,710.8 189.0,711.8 190.0,711.0 191.0,711.9 192.0,711.2 193.0,711.7 194.0,710.8 195.0,711.1 196.0,711.8 197.0,712.0 198.0,711.4 199.0,711.7 200.0,711.9 201.0,711.8 202.0,711.8 203.0,711.2 204.0,710.9 205.0,711.6 206.0,711.6 207.0,712.0 208.0,711.1 209.0,711.8 210.0,711.9 211.0,710.9 212.0,711.8 213.0,711.9 214.0,711.2 215.0,711.1 216.0,711.7 217.0,711.1 218.0,711.6 219.0,711.9 220.0,712.0 221.0,711.4 222.0,711.1 223.0,710.8 224.0,711.8 225.0,710.7 226.0,711.3 227.0,711.5 228.0,711.5 229.0,711.2 230.0,711.6 231.0,711.6 232.0,710.8 233.0,711.9 234.0,711.7 235.0,710.4 236.0,711.3 237.0,711.5 238.0,712.0 239.0,711.7 240.0,711.3 241.0,711.1 242.0,711.8 243.0,712.0 244.0,711.4 245.0,711.9 246.0,711.0 247.0,711.4 248.0,711.3 249.0,711.8 250.0,710.6 251.0,711.8 252.0,711.0 253.0,711.0 254.0,711.7 255.0,710.7 256.0,710.3 257.0,711.4 258.0,711.9 259.0,711.2 260.0,711.7 261.0,711.9 262.0,711.0 263.0,711.6 264.0,711.7 265.0,710.5 266.0,711.3 267.0,711.8 268.0,711.7 269.0,711.5 270.0,711.8 271.0,711.6 272.0,711.5 273.0,711.7 274.0,710.7 275.0,711.7 276.0,711.2 277.0,711.1 278.0,711.8 279.0,711.7 280.0,711.7 281.0,711.3 282.0,710.5 283.0,710.8 284.0,709.5 285.0,710.9 286.0,710.7 287.0,711.3 288.0,711.5 289.0,711.4 290.0,710.4 291.0,711.6 292.0,710.6 293.0,710.6 294.0,711.5 295.0,711.5 296.0,710.6 297.0,710.9 298.0,710.1 299.0,710.7 300.0,711.1 301.0,710.8 302.0,710.7 303.0,711.3 304.0,709.8 305.0,711.0 306.0,711.1 307.0,711.3 308.0,711.3 309.0,711.3 310.0,710.6 311.0,709.6 312.0,709.7 313.0,710.0 314.0,710.7 315.0,710.0 316.0,710.8 317.0,710.6 318.0,711.1 319.0,711.0 320.0,710.0 321.0,710.0 322.0,709.3 323.0,711.1 324.0,710.5 325.0,711.0 326.0,709.9 327.0,710.4 328.0,711.0 329.0,710.9 330.0,710.9 331.0,710.8 332.0,708.8 333.0,709.9 334.0,711.0 335.0,710.9 336.0,710.8 337.0,709.6 338.0,710.4 339.0,710.5 340.0,710.6 341.0,711.4 342.0,711.5 343.0,711.2 344.0,711.2 345.0,710.7 346.0,710.7 347.0,711.2 348.0,710.5 349.0,711.6 350.0,711.9 351.0,711.8 352.0,712.0 353.0,711.8 354.0,710.7 355.0,711.4 356.0,711.4 357.0,712.2 358.0,711.6 359.0,711.2 360.0,712.3 361.0,711.9 362.0,712.0 363.0,712.1 364.0,712.2 365.0,712.1 366.0,712.2 367.0,711.7 368.0,711.7 369.0,712.1 370.0,712.5 371.0,712.4 372.0,712.2 373.0,712.4 374.0,711.9 375.0,712.1 376.0,712.9 377.0,712.8 378.0,711.9 379.0,712.4 380.0,712.6 381.0,712.1 382.0,712.7 383.0,712.0 384.0,712.1 385.0,711.9 386.0,711.7 387.0,711.7 388.0,711.3 389.0,711.3 390.0,710.3 391.0,709.9 392.0,710.8 393.0,709.9 393.0,719.8 392.0,719.7 391.0,720.3 390.0,720.6 389.0,720.7 388.0,720.3 387.0,720.8 386.0,721.1 385.0,721.4 384.0,720.6 383.0,721.6 382.0,721.2 381.0,721.7 380.0,721.2 379.0,722.1 378.0,721.1 377.0,721.4 376.0,721.5 375.0,721.1 374.0,721.3 373.0,721.6 372.0,721.5 371.0,721.7 370.0,720.8 369.0,721.3 368.0,720.9 367.0,720.8 366.0,720.9 365.0,721.4 364.0,720.9 363.0,722.3 362.0,720.8 361.0,721.4 360.0,721.4 359.0,720.9 358.0,721.2 357.0,720.4 356.0,721.5 355.0,720.3 354.0,720.5 353.0,720.1 352.0,720.6 351.0,720.2 350.0,720.3 349.0,720.0 348.0,720.7 347.0,720.0 346.0,720.0 345.0,720.8 344.0,720.1 343.0,720.4 342.0,720.9 341.0,721.4 340.0,720.2 339.0,719.5 338.0,719.5 337.0,720.2 336.0,719.3 335.0,719.9 334.0,720.1 333.0,720.2 332.0,719.4 331.0,719.2 330.0,721.0 329.0,719.5 328.0,719.1 327.0,719.3 326.0,720.6 325.0,719.8 324.0,719.4 323.0,719.2 322.0,719.4 321.0,719.4 320.0,719.3 319.0,719.2 318.0,719.3 317.0,719.9 316.0,719.5 315.0,719.8 314.0,720.0 313.0,720.9 312.0,719.6 311.0,721.2 310.0,721.2 309.0,719.4 308.0,720.1 307.0,719.8 306.0,719.9 305.0,719.9 304.0,720.2 303.0,720.5 302.0,720.8 301.0,720.3 300.0,721.2 299.0,720.4 298.0,719.5 297.0,720.4 296.0,720.3 295.0,720.5 294.0,719.7 293.0,719.8 292.0,719.8 291.0,720.7 290.0,719.6 289.0,720.1 288.0,720.4 287.0,720.8 286.0,721.1 285.0,720.1 284.0,719.8 283.0,719.8 282.0,720.6 281.0,720.5 280.0,720.3 279.0,720.2 278.0,719.8 277.0,721.0 276.0,720.1 275.0,719.9 274.0,719.8 273.0,720.0 272.0,719.9 271.0,720.2 270.0,720.2 269.0,722.0 268.0,720.2 267.0,720.3 266.0,720.8 265.0,721.1 264.0,720.8 263.0,720.2 262.0,720.4 261.0,721.0 260.0,721.3 259.0,720.3 258.0,721.2 257.0,720.1 256.0,720.1 255.0,720.1 254.0,720.5 253.0,720.4 252.0,720.4 251.0,720.1 250.0,720.9 249.0,720.4 248.0,720.7 247.0,720.0 246.0,720.4 245.0,720.5 244.0,721.0 243.0,721.0 242.0,720.1 241.0,720.7 240.0,720.2 239.0,720.7 238.0,720.4 237.0,720.6 236.0,721.2 235.0,720.3 234.0,720.4 233.0,720.5 232.0,720.7 231.0,720.6 230.0,720.7 229.0,720.9 228.0,720.3 227.0,720.3 226.0,721.1 225.0,720.1 224.0,720.1 223.0,720.3 222.0,720.9 221.0,720.2 220.0,720.0 219.0,720.5 218.0,720.7 217.0,721.6 216.0,721.5 215.0,721.2 214.0,720.2 213.0,720.1 212.0,720.8 211.0,720.4 210.0,720.6 209.0,720.3 208.0,721.7 207.0,720.9 206.0,720.5 205.0,720.3 204.0,720.7 203.0,720.3 202.0,720.6 201.0,721.5 200.0,720.0 199.0,720.0 198.0,720.9 197.0,720.5 196.0,720.5 195.0,720.2 194.0,720.5 193.0,720.5 192.0,720.2 191.0,720.4 190.0,720.3 189.0,720.7 188.0,720.0 187.0,720.2 186.0,720.1 185.0,720.3 184.0,720.3 183.0,721.8 182.0,720.4 181.0,720.5 180.0,721.2 179.0,720.4 178.0,721.2 177.0,720.6 176.0,720.6 175.0,720.0 174.0,721.7 173.0,720.7 172.0,720.1 171.0,721.5 170.0,720.1 169.0,720.9 168.0,720.7 167.0,721.4 166.0,721.3 165.0,720.1 164.0,720.8 163.0,720.6 162.0,721.0 161.0,720.4 160.0,720.4 159.0,720.1 158.0,721.1 157.0,721.9 156.0,720.5 155.0,720.3 154.0,721.4 153.0,720.7 152.0,720.5 151.0,720.7 150.0,720.5 149.0,721.1 148.0,719.6 147.0,719.1 146.0,721.2 145.0,720.0 144.0,719.8 143.0,720.0 142.0,719.6 141.0,720.3 140.0,720.5 139.0,720.8 138.0,719.5 137.0,720.0 136.0,719.7 135.0,719.8 134.0,720.1 133.0,721.2 132.0,720.6 131.0,720.2 130.0,721.0 129.0,720.0 128.0,720.3 127.0,720.2 126.0,721.0 125.0,720.7 124.0,722.3 123.0,720.9 122.0,721.6 121.0,720.5 120.0,720.5 119.0,720.9 118.0,721.3 117.0,721.2 116.0,721.3 115.0,720.2 114.0,720.8 113.0,720.1 112.0,720.2 111.0,720.3" fill="#0000ff"/>
<polyline points="110.8,716.0 110.8,707.5" fill="none" stroke="#0000ff" stroke-width="4" stroke-linejoin="round" stroke-linecap="round"/>
<polyline points="232.5,716.0 232.5,693.0" fill="none" stroke="#0000ff" stroke-width="2.8" stroke-linejoin="round" stroke-linecap="round"/>
<polyline points="389.8,716.0 389.8,700.0" fill="none" stroke="#0000ff" stroke-width="3.6" stroke-linejoin="round" stroke-linecap="round"/>
<polyline points="393.5,716.0 393.5,744.6" fill="none" stroke="#0000ff" stroke-width="3.0" stroke-linejoin="round" stroke-linecap="round"/>
<rect x="103.0" y="784.5" width="8.6" height="3.0" fill="#0000ff"/>
<rect x="115.7" y="784.5" width="4.1" height="3.0" fill="#0000ff"/>
<rect x="129.7" y="784.5" width="4.1" height="3.0" fill="#0000ff"/>
<rect x="195.9" y="784.5" width="4.1" height="3.0" fill="#0000ff"/>
<rect x="262.4" y="784.5" width="3.5" height="3.0" fill="#0000ff"/>
<rect x="328.8" y="784.5" width="3.9" height="3.0" fill="#0000ff"/>
<rect x="386.7" y="784.5" width="4.2" height="3.0" fill="#0000ff"/>
<rect x="391.9" y="784.5" width="11.7" height="3.0" fill="#0000ff"/>
<rect x="496.0" y="761.0" width="7.0" height="3.0" fill="#ffa500"/>
<rect x="787.0" y="761.0" width="10.0" height="3.0" fill="#ffa500"/>
<rect x="502.6" y="698.0" width="284.8" height="14.0" fill="url(#up)"/>
<path d="M626.3 703.3l1.5 1.5l-1.5 1.5l-1.5 -1.5zM683.0 710.1l1.5 1.5l-1.5 1.5l-1.5 -1.5zM516.7 696.6l1.5 1.5l-1.5 1.5l-1.5 -1.5zM759.5 702.9l1.5 1.5l-1.5 1.5l-1.5 -1.5zM652.1 700.9l1.5 1.5l-1.5 1.5l-1.5 -1.5zM762.4 702.1l1.5 1.5l-1.5 1.5l-1.5 -1.5zM696.0 710.2l1.5 1.5l-1.5 1.5l-1.5 -1.5zM574.9 708.1l1.5 1.5l-1.5 1.5l-1.5 -1.5zM633.0 708.4l1.5 1.5l-1.5 1.5l-1.5 -1.5zM730.4 703.4l1.5 1.5l-1.5 1.5l-1.5 -1.5zM731.4 708.2l1.5 1.5l-1.5 1.5l-1.5 -1.5zM725.2 708.7l1.5 1.5l-1.5 1.5l-1.5 -1.5zM602.3 709.2l1.5 1.5l-1.5 1.5l-1.5 -1.5zM654.2 708.3l1.5 1.5l-1.5 1.5l-1.5 -1.5zM755.5 709.7l1.5 1.5l-1.5 1.5l-1.5 -1.5zM757.7 709.0l1.5 1.5l-1.5 1.5l-1.5 -1.5zM564.8 703.5l1.5 1.5l-1.5 1.5l-1.5 -1.5zM696.3 709.6l1.5 1.5l-1.5 1.5l-1.5 -1.5zM673.0 707.7l1.5 1.5l-1.5 1.5l-1.5 -1.5zM675.6 707.2l1.5 1.5l-1.5 1.5l-1.5 -1.5zM641.9 709.9l1.5 1.5l-1.5 1.5l-1.5 -1.5zM528.4 699.1l1.5 1.5l-1.5 1.5l-1.5 -1.5zM543.3 699.7l1.5 1.5l-1.5 1.5l-1.5 -1.5zM590.3 703.6l1.5 1.5l-1.5 1.5l-1.5 -1.5zM620.3 706.5l1.5 1.5l-1.5 1.5l-1.5 -1.5zM575.0 708.5l1.5 1.5l-1.5 1.5l-1.5 -1.5zM546.9 701.1l1.5 1.5l-1.5 1.5l-1.5 -1.5zM507.5 698.2l1.5 1.5l-1.5 1.5l-1.5 -1.5zM726.2 708.8l1.5 1.5l-1.5 1.5l-1.5 -1.5zM559.9 700.1l1.5 1.5l-1.5 1.5l-1.5 -1.5zM625.6 709.0l1.5 1.5l-1.5 1.5l-1.5 -1.5zM656.8 694.7l1.5 1.5l-1.5 1.5l-1.5 -1.5zM749.4 705.8l1.5 1.5l-1.5 1.5l-1.5 -1.5zM659.0 702.6l1.5 1.5l-1.5 1.5l-1.5 -1.5zM599.2 710.3l1.5 1.5l-1.5 1.5l-1.5 -1.5zM649.8 709.8l1.5 1.5l-1.5 1.5l-1.5 -1.5zM583.9 708.3l1.5 1.5l-1.5 1.5l-1.5 -1.5zM655.2 710.2l1.5 1.5l-1.5 1.5l-1.5 -1.5zM569.7 710.4l1.5 1.5l-1.5 1.5l-1.5 -1.5zM745.8 697.8l1.5 1.5l-1.5 1.5l-1.5 -1.5zM508.5 709.7l1.5 1.5l-1.5 1.5l-1.5 -1.5zM718.4 706.6l1.5 1.5l-1.5 1.5l-1.5 -1.5zM704.3 707.9l1.5 1.5l-1.5 1.5l-1.5 -1.5zM764.8 708.4l1.5 1.5l-1.5 1.5l-1.5 -1.5zM670.9 705.5l1.5 1.5l-1.5 1.5l-1.5 -1.5zM579.3 708.5l1.5 1.5l-1.5 1.5l-1.5 -1.5zM775.0 695.0l1.5 1.5l-1.5 1.5l-1.5 -1.5zM745.4 702.7l1.5 1.5l-1.5 1.5l-1.5 -1.5zM664.8 708.2l1.5 1.5l-1.5 1.5l-1.5 -1.5zM532.6 694.1l1.5 1.5l-1.5 1.5l-1.5 -1.5zM723.7 708.7l1.5 1.5l-1.5 1.5l-1.5 -1.5zM753.8 705.3l1.5 1.5l-1.5 1.5l-1.5 -1.5zM529.2 708.2l1.5 1.5l-1.5 1.5l-1.5 -1.5zM570.4 701.8l1.5 1.5l-1.5 1.5l-1.5 -1.5zM737.4 704.6l1.5 1.5l-1.5 1.5l-1.5 -1.5zM627.0 699.0l1.5 1.5l-1.5 1.5l-1.5 -1.5zM618.3 709.6l1.5 1.5l-1.5 1.5l-1.5 -1.5zM688.1 696.3l1.5 1.5l-1.5 1.5l-1.5 -1.5zM755.8 700.0l1.5 1.5l-1.5 1.5l-1.5 -1.5zM627.2 706.5l1.5 1.5l-1.5 1.5l-1.5 -1.5zM684.3 705.9l1.5 1.5l-1.5 1.5l-1.5 -1.5zM764.0 703.7l1.5 1.5l-1.5 1.5l-1.5 -1.5zM743.5 704.8l1.5 1.5l-1.5 1.5l-1.5 -1.5zM521.1 710.0l1.5 1.5l-1.5 1.5l-1.5 -1.5zM572.7 705.1l1.5 1.5l-1.5 1.5l-1.5 -1.5zM754.5 697.1l1.5 1.5l-1.5 1.5l-1.5 -1.5zM671.9 708.6l1.5 1.5l-1.5 1.5l-1.5 -1.5zM670.8 708.8l1.5 1.5l-1.5 1.5l-1.5 -1.5zM650.9 706.4l1.5 1.5l-1.5 1.5l-1.5 -1.5zM768.5 696.4l1.5 1.5l-1.5 1.5l-1.5 -1.5zM517.0 700.2l1.5 1.5l-1.5 1.5l-1.5 -1.5zM674.0 705.0l1.5 1.5l-1.5 1.5l-1.5 -1.5zM630.2 697.3l1.5 1.5l-1.5 1.5l-1.5 -1.5zM723.7 709.6l1.5 1.5l-1.5 1.5l-1.5 -1.5zM601.5 708.8l1.5 1.5l-1.5 1.5l-1.5 -1.5zM566.0 709.1l1.5 1.5l-1.5 1.5l-1.5 -1.5zM693.6 707.8l1.5 1.5l-1.5 1.5l-1.5 -1.5zM573.5 708.1l1.5 1.5l-1.5 1.5l-1.5 -1.5zM742.8 709.5l1.5 1.5l-1.5 1.5l-1.5 -1.5zM750.1 705.0l1.5 1.5l-1.5 1.5l-1.5 -1.5zM638.8 709.4l1.5 1.5l-1.5 1.5l-1.5 -1.5zM786.3 699.9l1.5 1.5l-1.5 1.5l-1.5 -1.5zM679.3 705.9l1.5 1.5l-1.5 1.5l-1.5 -1.5zM677.0 707.5l1.5 1.5l-1.5 1.5l-1.5 -1.5zM510.9 709.3l1.5 1.5l-1.5 1.5l-1.5 -1.5zM598.7 709.9l1.5 1.5l-1.5 1.5l-1.5 -1.5zM718.6 705.7l1.5 1.5l-1.5 1.5l-1.5 -1.5zM741.5 697.5l1.5 1.5l-1.5 1.5l-1.5 -1.5zM668.9 704.0l1.5 1.5l-1.5 1.5l-1.5 -1.5zM565.4 709.8l1.5 1.5l-1.5 1.5l-1.5 -1.5zM711.6 698.0l1.5 1.5l-1.5 1.5l-1.5 -1.5zM564.2 699.2l1.5 1.5l-1.5 1.5l-1.5 -1.5zM622.6 705.2l1.5 1.5l-1.5 1.5l-1.5 -1.5zM753.6 696.6l1.5 1.5l-1.5 1.5l-1.5 -1.5zM734.3 700.0l1.5 1.5l-1.5 1.5l-1.5 -1.5zM700.8 699.8l1.5 1.5l-1.5 1.5l-1.5 -1.5zM734.5 708.6l1.5 1.5l-1.5 1.5l-1.5 -1.5zM666.9 710.2l1.5 1.5l-1.5 1.5l-1.5 -1.5zM560.4 693.9l1.5 1.5l-1.5 1.5l-1.5 -1.5zM553.6 707.4l1.5 1.5l-1.5 1.5l-1.5 -1.5zM561.1 708.9l1.5 1.5l-1.5 1.5l-1.5 -1.5zM620.0 709.9l1.5 1.5l-1.5 1.5l-1.5 -1.5zM713.5 709.0l1.5 1.5l-1.5 1.5l-1.5 -1.5zM545.2 706.8l1.5 1.5l-1.5 1.5l-1.5 -1.5zM637.6 707.4l1.5 1.5l-1.5 1.5l-1.5 -1.5zM778.2 693.2l1.5 1.5l-1.5 1.5l-1.5 -1.5zM744.9 705.4l1.5 1.5l-1.5 1.5l-1.5 -1.5zM540.3 703.5l1.5 1.5l-1.5 1.5l-1.5 -1.5zM572.4 705.7l1.5 1.5l-1.5 1.5l-1.5 -1.5zM545.2 703.6l1.5 1.5l-1.5 1.5l-1.5 -1.5zM564.4 693.6l1.5 1.5l-1.5 1.5l-1.5 -1.5zM721.1 705.6l1.5 1.5l-1.5 1.5l-1.5 -1.5zM534.4 709.1l1.5 1.5l-1.5 1.5l-1.5 -1.5zM628.7 703.0l1.5 1.5l-1.5 1.5l-1.5 -1.5zM636.6 697.2l1.5 1.5l-1.5 1.5l-1.5 -1.5zM661.1 708.7l1.5 1.5l-1.5 1.5l-1.5 -1.5zM561.2 710.1l1.5 1.5l-1.5 1.5l-1.5 -1.5zM734.4 697.4l1.5 1.5l-1.5 1.5l-1.5 -1.5zM741.0 697.1l1.5 1.5l-1.5 1.5l-1.5 -1.5zM740.9 706.4l1.5 1.5l-1.5 1.5l-1.5 -1.5zM615.2 705.1l1.5 1.5l-1.5 1.5l-1.5 -1.5zM768.1 709.2l1.5 1.5l-1.5 1.5l-1.5 -1.5zM773.8 702.9l1.5 1.5l-1.5 1.5l-1.5 -1.5zM541.9 710.3l1.5 1.5l-1.5 1.5l-1.5 -1.5zM545.5 697.6l1.5 1.5l-1.5 1.5l-1.5 -1.5zM588.0 700.7l1.5 1.5l-1.5 1.5l-1.5 -1.5zM703.4 709.2l1.5 1.5l-1.5 1.5l-1.5 -1.5zM598.8 708.8l1.5 1.5l-1.5 1.5l-1.5 -1.5zM535.8 708.1l1.5 1.5l-1.5 1.5l-1.5 -1.5zM701.5 706.3l1.5 1.5l-1.5 1.5l-1.5 -1.5zM656.9 706.7l1.5 1.5l-1.5 1.5l-1.5 -1.5zM683.7 705.6l1.5 1.5l-1.5 1.5l-1.5 -1.5zM545.3 709.9l1.5 1.5l-1.5 1.5l-1.5 -1.5zM597.3 703.2l1.5 1.5l-1.5 1.5l-1.5 -1.5zM729.9 706.1l1.5 1.5l-1.5 1.5l-1.5 -1.5zM747.2 704.0l1.5 1.5l-1.5 1.5l-1.5 -1.5zM733.8 704.5l1.5 1.5l-1.5 1.5l-1.5 -1.5zM753.9 708.2l1.5 1.5l-1.5 1.5l-1.5 -1.5zM572.9 704.5l1.5 1.5l-1.5 1.5l-1.5 -1.5zM684.6 705.7l1.5 1.5l-1.5 1.5l-1.5 -1.5zM572.8 702.2l1.5 1.5l-1.5 1.5l-1.5 -1.5zM688.8 706.8l1.5 1.5l-1.5 1.5l-1.5 -1.5zM660.9 708.4l1.5 1.5l-1.5 1.5l-1.5 -1.5zM613.5 708.0l1.5 1.5l-1.5 1.5l-1.5 -1.5zM642.8 704.9l1.5 1.5l-1.5 1.5l-1.5 -1.5zM645.1 706.8l1.5 1.5l-1.5 1.5l-1.5 -1.5zM531.3 700.9l1.5 1.5l-1.5 1.5l-1.5 -1.5zM521.2 707.8l1.5 1.5l-1.5 1.5l-1.5 -1.5zM616.0 709.4l1.5 1.5l-1.5 1.5l-1.5 -1.5zM755.7 700.0l1.5 1.5l-1.5 1.5l-1.5 -1.5zM509.5 710.3l1.5 1.5l-1.5 1.5l-1.5 -1.5zM519.9 708.9l1.5 1.5l-1.5 1.5l-1.5 -1.5zM552.4 706.7l1.5 1.5l-1.5 1.5l-1.5 -1.5zM539.1 710.2l1.5 1.5l-1.5 1.5l-1.5 -1.5zM786.9 697.4l1.5 1.5l-1.5 1.5l-1.5 -1.5zM524.8 708.0l1.5 1.5l-1.5 1.5l-1.5 -1.5zM560.3 709.6l1.5 1.5l-1.5 1.5l-1.5 -1.5zM660.9 707.1l1.5 1.5l-1.5 1.5l-1.5 -1.5zM592.4 706.4l1.5 1.5l-1.5 1.5l-1.5 -1.5zM639.6 710.2l1.5 1.5l-1.5 1.5l-1.5 -1.5zM525.5 707.3l1.5 1.5l-1.5 1.5l-1.5 -1.5zM703.7 700.5l1.5 1.5l-1.5 1.5l-1.5 -1.5zM616.8 710.4l1.5 1.5l-1.5 1.5l-1.5 -1.5zM748.4 710.3l1.5 1.5l-1.5 1.5l-1.5 -1.5zM579.5 705.2l1.5 1.5l-1.5 1.5l-1.5 -1.5zM640.4 708.7l1.5 1.5l-1.5 1.5l-1.5 -1.5zM676.8 709.4l1.5 1.5l-1.5 1.5l-1.5 -1.5zM719.1 710.3l1.5 1.5l-1.5 1.5l-1.5 -1.5zM512.8 708.2l1.5 1.5l-1.5 1.5l-1.5 -1.5zM729.5 699.0l1.5 1.5l-1.5 1.5l-1.5 -1.5zM763.5 707.3l1.5 1.5l-1.5 1.5l-1.5 -1.5zM763.1 707.6l1.5 1.5l-1.5 1.5l-1.5 -1.5zM649.1 709.2l1.5 1.5l-1.5 1.5l-1.5 -1.5zM682.1 708.7l1.5 1.5l-1.5 1.5l-1.5 -1.5zM752.4 708.2l1.5 1.5l-1.5 1.5l-1.5 -1.5zM762.5 705.6l1.5 1.5l-1.5 1.5l-1.5 -1.5zM610.8 704.2l1.5 1.5l-1.5 1.5l-1.5 -1.5zM569.0 706.5l1.5 1.5l-1.5 1.5l-1.5 -1.5zM630.0 708.8l1.5 1.5l-1.5 1.5l-1.5 -1.5zM511.5 709.6l1.5 1.5l-1.5 1.5l-1.5 -1.5zM730.5 710.4l1.5 1.5l-1.5 1.5l-1.5 -1.5zM597.9 709.1l1.5 1.5l-1.5 1.5l-1.5 -1.5zM529.4 706.2l1.5 1.5l-1.5 1.5l-1.5 -1.5zM753.0 707.1l1.5 1.5l-1.5 1.5l-1.5 -1.5zM772.7 708.7l1.5 1.5l-1.5 1.5l-1.5 -1.5zM731.7 710.4l1.5 1.5l-1.5 1.5l-1.5 -1.5zM552.7 702.4l1.5 1.5l-1.5 1.5l-1.5 -1.5zM515.3 706.6l1.5 1.5l-1.5 1.5l-1.5 -1.5zM640.5 700.7l1.5 1.5l-1.5 1.5l-1.5 -1.5zM682.5 702.3l1.5 1.5l-1.5 1.5l-1.5 -1.5zM522.2 709.4l1.5 1.5l-1.5 1.5l-1.5 -1.5zM667.1 706.2l1.5 1.5l-1.5 1.5l-1.5 -1.5zM762.7 693.2l1.5 1.5l-1.5 1.5l-1.5 -1.5zM736.6 701.3l1.5 1.5l-1.5 1.5l-1.5 -1.5zM579.2 705.3l1.5 1.5l-1.5 1.5l-1.5 -1.5zM647.0 703.8l1.5 1.5l-1.5 1.5l-1.5 -1.5zM582.3 707.0l1.5 1.5l-1.5 1.5l-1.5 -1.5zM570.3 702.1l1.5 1.5l-1.5 1.5l-1.5 -1.5zM509.8 700.1l1.5 1.5l-1.5 1.5l-1.5 -1.5zM740.3 709.8l1.5 1.5l-1.5 1.5l-1.5 -1.5zM741.7 709.3l1.5 1.5l-1.5 1.5l-1.5 -1.5zM689.1 710.1l1.5 1.5l-1.5 1.5l-1.5 -1.5zM582.9 705.4l1.5 1.5l-1.5 1.5l-1.5 -1.5zM773.2 704.5l1.5 1.5l-1.5 1.5l-1.5 -1.5zM555.2 710.2l1.5 1.5l-1.5 1.5l-1.5 -1.5zM732.4 708.7l1.5 1.5l-1.5 1.5l-1.5 -1.5zM632.1 703.1l1.5 1.5l-1.5 1.5l-1.5 -1.5zM700.1 709.2l1.5 1.5l-1.5 1.5l-1.5 -1.5zM648.0 704.6l1.5 1.5l-1.5 1.5l-1.5 -1.5zM670.2 707.2l1.5 1.5l-1.5 1.5l-1.5 -1.5zM510.4 693.9l1.5 1.5l-1.5 1.5l-1.5 -1.5zM606.2 701.9l1.5 1.5l-1.5 1.5l-1.5 -1.5zM655.5 708.4l1.5 1.5l-1.5 1.5l-1.5 -1.5zM519.6 701.5l1.5 1.5l-1.5 1.5l-1.5 -1.5zM576.9 700.2l1.5 1.5l-1.5 1.5l-1.5 -1.5zM682.9 696.2l1.5 1.5l-1.5 1.5l-1.5 -1.5zM599.8 708.0l1.5 1.5l-1.5 1.5l-1.5 -1.5zM693.1 706.2l1.5 1.5l-1.5 1.5l-1.5 -1.5zM769.6 707.3l1.5 1.5l-1.5 1.5l-1.5 -1.5zM733.0 708.7l1.5 1.5l-1.5 1.5l-1.5 -1.5zM585.2 705.2l1.5 1.5l-1.5 1.5l-1.5 -1.5zM662.6 708.8l1.5 1.5l-1.5 1.5l-1.5 -1.5zM519.8 710.1l1.5 1.5l-1.5 1.5l-1.5 -1.5zM604.7 707.9l1.5 1.5l-1.5 1.5l-1.5 -1.5zM625.6 706.8l1.5 1.5l-1.5 1.5l-1.5 -1.5zM598.0 709.2l1.5 1.5l-1.5 1.5l-1.5 -1.5zM568.7 706.4l1.5 1.5l-1.5 1.5l-1.5 -1.5zM772.3 693.1l1.5 1.5l-1.5 1.5l-1.5 -1.5zM761.6 708.4l1.5 1.5l-1.5 1.5l-1.5 -1.5zM594.1 708.8l1.5 1.5l-1.5 1.5l-1.5 -1.5zM748.0 702.9l1.5 1.5l-1.5 1.5l-1.5 -1.5zM771.4 709.6l1.5 1.5l-1.5 1.5l-1.5 -1.5zM509.5 707.4l1.5 1.5l-1.5 1.5l-1.5 -1.5zM525.2 706.7l1.5 1.5l-1.5 1.5l-1.5 -1.5zM672.1 702.4l1.5 1.5l-1.5 1.5l-1.5 -1.5zM713.7 702.3l1.5 1.5l-1.5 1.5l-1.5 -1.5zM695.8 705.7l1.5 1.5l-1.5 1.5l-1.5 -1.5zM687.1 699.3l1.5 1.5l-1.5 1.5l-1.5 -1.5zM562.2 710.3l1.5 1.5l-1.5 1.5l-1.5 -1.5zM706.9 709.5l1.5 1.5l-1.5 1.5l-1.5 -1.5zM716.9 707.2l1.5 1.5l-1.5 1.5l-1.5 -1.5zM770.0 704.1l1.5 1.5l-1.5 1.5l-1.5 -1.5zM594.4 709.5l1.5 1.5l-1.5 1.5l-1.5 -1.5zM515.3 710.0l1.5 1.5l-1.5 1.5l-1.5 -1.5zM627.5 702.9l1.5 1.5l-1.5 1.5l-1.5 -1.5zM785.0 702.4l1.5 1.5l-1.5 1.5l-1.5 -1.5zM653.1 705.3l1.5 1.5l-1.5 1.5l-1.5 -1.5zM668.9 710.1l1.5 1.5l-1.5 1.5l-1.5 -1.5zM669.7 710.1l1.5 1.5l-1.5 1.5l-1.5 -1.5zM548.6 697.3l1.5 1.5l-1.5 1.5l-1.5 -1.5zM589.3 703.9l1.5 1.5l-1.5 1.5l-1.5 -1.5zM594.4 709.1l1.5 1.5l-1.5 1.5l-1.5 -1.5zM625.2 705.4l1.5 1.5l-1.5 1.5l-1.5 -1.5zM764.9 705.4l1.5 1.5l-1.5 1.5l-1.5 -1.5zM544.5 710.5l1.5 1.5l-1.5 1.5l-1.5 -1.5zM650.3 709.9l1.5 1.5l-1.5 1.5l-1.5 -1.5zM596.3 710.0l1.5 1.5l-1.5 1.5l-1.5 -1.5zM518.5 701.5l1.5 1.5l-1.5 1.5l-1.5 -1.5zM657.7 707.3l1.5 1.5l-1.5 1.5l-1.5 -1.5zM685.2 699.1l1.5 1.5l-1.5 1.5l-1.5 -1.5z" fill="none" stroke="#ffa500" stroke-width="0.8" stroke-opacity="0.3"/>
<rect x="502.6" y="763.5" width="284.8" height="14.5" fill="url(#dn)"/>
<path d="M508.8 778.0l1.5 1.5l-1.5 1.5l-1.5 -1.5zM713.5 768.3l1.5 1.5l-1.5 1.5l-1.5 -1.5zM675.4 773.4l1.5 1.5l-1.5 1.5l-1.5 -1.5zM674.5 773.9l1.5 1.5l-1.5 1.5l-1.5 -1.5zM602.1 763.7l1.5 1.5l-1.5 1.5l-1.5 -1.5zM678.0 770.5l1.5 1.5l-1.5 1.5l-1.5 -1.5zM774.9 774.0l1.5 1.5l-1.5 1.5l-1.5 -1.5zM675.3 772.7l1.5 1.5l-1.5 1.5l-1.5 -1.5zM707.4 768.0l1.5 1.5l-1.5 1.5l-1.5 -1.5zM703.8 763.4l1.5 1.5l-1.5 1.5l-1.5 -1.5zM598.2 767.7l1.5 1.5l-1.5 1.5l-1.5 -1.5zM566.3 764.5l1.5 1.5l-1.5 1.5l-1.5 -1.5zM516.5 762.5l1.5 1.5l-1.5 1.5l-1.5 -1.5zM784.2 762.8l1.5 1.5l-1.5 1.5l-1.5 -1.5zM537.1 769.0l1.5 1.5l-1.5 1.5l-1.5 -1.5zM662.5 763.3l1.5 1.5l-1.5 1.5l-1.5 -1.5zM657.6 768.6l1.5 1.5l-1.5 1.5l-1.5 -1.5zM527.7 771.0l1.5 1.5l-1.5 1.5l-1.5 -1.5zM555.6 763.2l1.5 1.5l-1.5 1.5l-1.5 -1.5zM736.0 766.0l1.5 1.5l-1.5 1.5l-1.5 -1.5zM538.3 769.4l1.5 1.5l-1.5 1.5l-1.5 -1.5zM563.2 767.1l1.5 1.5l-1.5 1.5l-1.5 -1.5zM531.9 769.6l1.5 1.5l-1.5 1.5l-1.5 -1.5zM683.8 764.9l1.5 1.5l-1.5 1.5l-1.5 -1.5zM526.6 769.2l1.5 1.5l-1.5 1.5l-1.5 -1.5zM587.8 774.2l1.5 1.5l-1.5 1.5l-1.5 -1.5zM771.6 762.9l1.5 1.5l-1.5 1.5l-1.5 -1.5zM521.3 762.7l1.5 1.5l-1.5 1.5l-1.5 -1.5zM506.5 762.6l1.5 1.5l-1.5 1.5l-1.5 -1.5zM778.0 764.6l1.5 1.5l-1.5 1.5l-1.5 -1.5zM716.8 768.5l1.5 1.5l-1.5 1.5l-1.5 -1.5zM704.0 764.8l1.5 1.5l-1.5 1.5l-1.5 -1.5zM594.3 763.9l1.5 1.5l-1.5 1.5l-1.5 -1.5zM511.9 767.3l1.5 1.5l-1.5 1.5l-1.5 -1.5zM544.8 768.4l1.5 1.5l-1.5 1.5l-1.5 -1.5zM561.9 763.8l1.5 1.5l-1.5 1.5l-1.5 -1.5zM583.5 763.2l1.5 1.5l-1.5 1.5l-1.5 -1.5zM627.8 772.4l1.5 1.5l-1.5 1.5l-1.5 -1.5zM529.0 769.1l1.5 1.5l-1.5 1.5l-1.5 -1.5zM513.5 764.2l1.5 1.5l-1.5 1.5l-1.5 -1.5zM583.2 765.1l1.5 1.5l-1.5 1.5l-1.5 -1.5zM722.0 762.7l1.5 1.5l-1.5 1.5l-1.5 -1.5zM627.5 765.4l1.5 1.5l-1.5 1.5l-1.5 -1.5zM581.4 763.5l1.5 1.5l-1.5 1.5l-1.5 -1.5zM566.6 767.5l1.5 1.5l-1.5 1.5l-1.5 -1.5zM744.9 776.6l1.5 1.5l-1.5 1.5l-1.5 -1.5zM609.0 762.8l1.5 1.5l-1.5 1.5l-1.5 -1.5zM585.3 770.0l1.5 1.5l-1.5 1.5l-1.5 -1.5zM605.4 765.7l1.5 1.5l-1.5 1.5l-1.5 -1.5zM559.6 774.6l1.5 1.5l-1.5 1.5l-1.5 -1.5zM688.9 766.1l1.5 1.5l-1.5 1.5l-1.5 -1.5zM639.4 762.9l1.5 1.5l-1.5 1.5l-1.5 -1.5zM632.9 775.3l1.5 1.5l-1.5 1.5l-1.5 -1.5zM673.5 769.2l1.5 1.5l-1.5 1.5l-1.5 -1.5zM599.6 766.1l1.5 1.5l-1.5 1.5l-1.5 -1.5zM694.3 766.5l1.5 1.5l-1.5 1.5l-1.5 -1.5zM579.4 763.5l1.5 1.5l-1.5 1.5l-1.5 -1.5zM593.3 765.3l1.5 1.5l-1.5 1.5l-1.5 -1.5zM676.4 763.6l1.5 1.5l-1.5 1.5l-1.5 -1.5zM740.5 763.9l1.5 1.5l-1.5 1.5l-1.5 -1.5zM676.6 768.9l1.5 1.5l-1.5 1.5l-1.5 -1.5zM710.9 772.4l1.5 1.5l-1.5 1.5l-1.5 -1.5zM699.5 763.4l1.5 1.5l-1.5 1.5l-1.5 -1.5zM608.7 763.0l1.5 1.5l-1.5 1.5l-1.5 -1.5zM774.1 764.6l1.5 1.5l-1.5 1.5l-1.5 -1.5zM667.8 774.5l1.5 1.5l-1.5 1.5l-1.5 -1.5zM688.1 778.3l1.5 1.5l-1.5 1.5l-1.5 -1.5zM634.2 773.6l1.5 1.5l-1.5 1.5l-1.5 -1.5zM674.2 764.9l1.5 1.5l-1.5 1.5l-1.5 -1.5zM616.3 769.8l1.5 1.5l-1.5 1.5l-1.5 -1.5zM534.7 768.9l1.5 1.5l-1.5 1.5l-1.5 -1.5zM649.7 765.7l1.5 1.5l-1.5 1.5l-1.5 -1.5zM528.9 768.8l1.5 1.5l-1.5 1.5l-1.5 -1.5zM516.1 763.6l1.5 1.5l-1.5 1.5l-1.5 -1.5zM784.1 762.8l1.5 1.5l-1.5 1.5l-1.5 -1.5zM767.0 766.6l1.5 1.5l-1.5 1.5l-1.5 -1.5zM600.0 763.5l1.5 1.5l-1.5 1.5l-1.5 -1.5zM757.8 763.8l1.5 1.5l-1.5 1.5l-1.5 -1.5zM693.3 766.4l1.5 1.5l-1.5 1.5l-1.5 -1.5zM545.7 763.4l1.5 1.5l-1.5 1.5l-1.5 -1.5zM554.6 762.9l1.5 1.5l-1.5 1.5l-1.5 -1.5zM783.9 764.2l1.5 1.5l-1.5 1.5l-1.5 -1.5zM772.7 764.3l1.5 1.5l-1.5 1.5l-1.5 -1.5zM649.3 763.7l1.5 1.5l-1.5 1.5l-1.5 -1.5zM686.1 764.6l1.5 1.5l-1.5 1.5l-1.5 -1.5zM510.4 763.4l1.5 1.5l-1.5 1.5l-1.5 -1.5zM626.6 763.0l1.5 1.5l-1.5 1.5l-1.5 -1.5zM528.4 765.2l1.5 1.5l-1.5 1.5l-1.5 -1.5zM676.6 764.1l1.5 1.5l-1.5 1.5l-1.5 -1.5zM681.1 769.2l1.5 1.5l-1.5 1.5l-1.5 -1.5zM710.7 779.8l1.5 1.5l-1.5 1.5l-1.5 -1.5zM597.4 767.3l1.5 1.5l-1.5 1.5l-1.5 -1.5zM768.0 772.1l1.5 1.5l-1.5 1.5l-1.5 -1.5zM718.8 774.8l1.5 1.5l-1.5 1.5l-1.5 -1.5zM644.9 765.2l1.5 1.5l-1.5 1.5l-1.5 -1.5zM627.8 770.5l1.5 1.5l-1.5 1.5l-1.5 -1.5zM625.0 763.1l1.5 1.5l-1.5 1.5l-1.5 -1.5zM751.2 763.3l1.5 1.5l-1.5 1.5l-1.5 -1.5zM770.5 772.1l1.5 1.5l-1.5 1.5l-1.5 -1.5zM637.2 765.3l1.5 1.5l-1.5 1.5l-1.5 -1.5zM588.8 763.1l1.5 1.5l-1.5 1.5l-1.5 -1.5zM550.5 765.9l1.5 1.5l-1.5 1.5l-1.5 -1.5zM521.8 769.9l1.5 1.5l-1.5 1.5l-1.5 -1.5zM629.2 765.6l1.5 1.5l-1.5 1.5l-1.5 -1.5zM621.7 764.7l1.5 1.5l-1.5 1.5l-1.5 -1.5zM738.5 763.6l1.5 1.5l-1.5 1.5l-1.5 -1.5zM705.1 763.3l1.5 1.5l-1.5 1.5l-1.5 -1.5zM710.1 765.2l1.5 1.5l-1.5 1.5l-1.5 -1.5zM547.6 771.8l1.5 1.5l-1.5 1.5l-1.5 -1.5zM525.1 771.7l1.5 1.5l-1.5 1.5l-1.5 -1.5zM602.3 763.9l1.5 1.5l-1.5 1.5l-1.5 -1.5zM525.0 775.1l1.5 1.5l-1.5 1.5l-1.5 -1.5zM522.5 773.7l1.5 1.5l-1.5 1.5l-1.5 -1.5zM567.6 768.0l1.5 1.5l-1.5 1.5l-1.5 -1.5zM654.5 769.2l1.5 1.5l-1.5 1.5l-1.5 -1.5zM616.9 766.1l1.5 1.5l-1.5 1.5l-1.5 -1.5zM616.6 768.1l1.5 1.5l-1.5 1.5l-1.5 -1.5zM700.9 764.8l1.5 1.5l-1.5 1.5l-1.5 -1.5zM751.9 772.7l1.5 1.5l-1.5 1.5l-1.5 -1.5zM692.2 774.0l1.5 1.5l-1.5 1.5l-1.5 -1.5zM712.0 771.8l1.5 1.5l-1.5 1.5l-1.5 -1.5zM511.2 766.5l1.5 1.5l-1.5 1.5l-1.5 -1.5zM756.4 768.3l1.5 1.5l-1.5 1.5l-1.5 -1.5zM711.1 763.3l1.5 1.5l-1.5 1.5l-1.5 -1.5zM530.8 763.3l1.5 1.5l-1.5 1.5l-1.5 -1.5zM572.6 769.0l1.5 1.5l-1.5 1.5l-1.5 -1.5zM702.0 763.3l1.5 1.5l-1.5 1.5l-1.5 -1.5zM766.7 770.8l1.5 1.5l-1.5 1.5l-1.5 -1.5zM755.5 767.2l1.5 1.5l-1.5 1.5l-1.5 -1.5zM664.5 763.6l1.5 1.5l-1.5 1.5l-1.5 -1.5zM615.3 768.9l1.5 1.5l-1.5 1.5l-1.5 -1.5zM781.3 770.8l1.5 1.5l-1.5 1.5l-1.5 -1.5zM555.0 772.5l1.5 1.5l-1.5 1.5l-1.5 -1.5zM764.0 763.7l1.5 1.5l-1.5 1.5l-1.5 -1.5zM767.2 775.8l1.5 1.5l-1.5 1.5l-1.5 -1.5zM724.0 762.6l1.5 1.5l-1.5 1.5l-1.5 -1.5zM750.2 776.9l1.5 1.5l-1.5 1.5l-1.5 -1.5zM533.0 776.9l1.5 1.5l-1.5 1.5l-1.5 -1.5zM737.7 763.8l1.5 1.5l-1.5 1.5l-1.5 -1.5zM564.0 765.6l1.5 1.5l-1.5 1.5l-1.5 -1.5zM684.6 769.8l1.5 1.5l-1.5 1.5l-1.5 -1.5zM643.8 765.9l1.5 1.5l-1.5 1.5l-1.5 -1.5zM589.1 763.0l1.5 1.5l-1.5 1.5l-1.5 -1.5zM624.9 763.6l1.5 1.5l-1.5 1.5l-1.5 -1.5zM536.4 765.0l1.5 1.5l-1.5 1.5l-1.5 -1.5zM648.1 771.7l1.5 1.5l-1.5 1.5l-1.5 -1.5zM712.5 763.0l1.5 1.5l-1.5 1.5l-1.5 -1.5zM694.2 765.9l1.5 1.5l-1.5 1.5l-1.5 -1.5zM572.1 771.5l1.5 1.5l-1.5 1.5l-1.5 -1.5zM600.2 763.8l1.5 1.5l-1.5 1.5l-1.5 -1.5zM721.7 776.8l1.5 1.5l-1.5 1.5l-1.5 -1.5zM524.0 770.6l1.5 1.5l-1.5 1.5l-1.5 -1.5zM662.2 773.3l1.5 1.5l-1.5 1.5l-1.5 -1.5zM578.4 770.5l1.5 1.5l-1.5 1.5l-1.5 -1.5zM762.7 764.0l1.5 1.5l-1.5 1.5l-1.5 -1.5zM721.1 765.5l1.5 1.5l-1.5 1.5l-1.5 -1.5zM732.8 764.5l1.5 1.5l-1.5 1.5l-1.5 -1.5zM728.7 763.9l1.5 1.5l-1.5 1.5l-1.5 -1.5zM682.5 767.7l1.5 1.5l-1.5 1.5l-1.5 -1.5zM559.1 762.5l1.5 1.5l-1.5 1.5l-1.5 -1.5zM636.5 777.8l1.5 1.5l-1.5 1.5l-1.5 -1.5zM689.2 777.4l1.5 1.5l-1.5 1.5l-1.5 -1.5zM710.4 765.3l1.5 1.5l-1.5 1.5l-1.5 -1.5zM756.6 769.2l1.5 1.5l-1.5 1.5l-1.5 -1.5zM645.8 768.5l1.5 1.5l-1.5 1.5l-1.5 -1.5zM555.8 767.2l1.5 1.5l-1.5 1.5l-1.5 -1.5zM632.3 776.6l1.5 1.5l-1.5 1.5l-1.5 -1.5zM593.0 765.5l1.5 1.5l-1.5 1.5l-1.5 -1.5zM573.5 776.3l1.5 1.5l-1.5 1.5l-1.5 -1.5zM621.4 778.6l1.5 1.5l-1.5 1.5l-1.5 -1.5zM520.4 773.5l1.5 1.5l-1.5 1.5l-1.5 -1.5zM691.4 768.3l1.5 1.5l-1.5 1.5l-1.5 -1.5zM597.2 767.5l1.5 1.5l-1.5 1.5l-1.5 -1.5zM585.6 768.6l1.5 1.5l-1.5 1.5l-1.5 -1.5zM731.8 767.9l1.5 1.5l-1.5 1.5l-1.5 -1.5zM550.8 769.9l1.5 1.5l-1.5 1.5l-1.5 -1.5zM760.5 773.1l1.5 1.5l-1.5 1.5l-1.5 -1.5zM696.6 766.0l1.5 1.5l-1.5 1.5l-1.5 -1.5zM526.4 768.8l1.5 1.5l-1.5 1.5l-1.5 -1.5zM594.9 762.8l1.5 1.5l-1.5 1.5l-1.5 -1.5zM520.3 766.2l1.5 1.5l-1.5 1.5l-1.5 -1.5zM540.1 766.7l1.5 1.5l-1.5 1.5l-1.5 -1.5zM638.4 766.2l1.5 1.5l-1.5 1.5l-1.5 -1.5zM708.7 766.2l1.5 1.5l-1.5 1.5l-1.5 -1.5zM519.5 762.9l1.5 1.5l-1.5 1.5l-1.5 -1.5zM574.9 763.3l1.5 1.5l-1.5 1.5l-1.5 -1.5zM693.3 765.4l1.5 1.5l-1.5 1.5l-1.5 -1.5zM677.2 763.3l1.5 1.5l-1.5 1.5l-1.5 -1.5zM570.6 768.6l1.5 1.5l-1.5 1.5l-1.5 -1.5zM508.0 765.4l1.5 1.5l-1.5 1.5l-1.5 -1.5zM589.8 775.7l1.5 1.5l-1.5 1.5l-1.5 -1.5zM597.1 775.9l1.5 1.5l-1.5 1.5l-1.5 -1.5zM785.3 764.2l1.5 1.5l-1.5 1.5l-1.5 -1.5zM546.3 763.8l1.5 1.5l-1.5 1.5l-1.5 -1.5zM650.1 763.4l1.5 1.5l-1.5 1.5l-1.5 -1.5zM550.0 765.4l1.5 1.5l-1.5 1.5l-1.5 -1.5zM524.1 763.2l1.5 1.5l-1.5 1.5l-1.5 -1.5zM521.8 765.6l1.5 1.5l-1.5 1.5l-1.5 -1.5zM677.7 765.1l1.5 1.5l-1.5 1.5l-1.5 -1.5zM663.0 767.0l1.5 1.5l-1.5 1.5l-1.5 -1.5zM715.4 763.0l1.5 1.5l-1.5 1.5l-1.5 -1.5zM573.6 770.8l1.5 1.5l-1.5 1.5l-1.5 -1.5zM549.9 771.8l1.5 1.5l-1.5 1.5l-1.5 -1.5zM741.4 769.8l1.5 1.5l-1.5 1.5l-1.5 -1.5zM638.4 767.0l1.5 1.5l-1.5 1.5l-1.5 -1.5zM626.1 763.2l1.5 1.5l-1.5 1.5l-1.5 -1.5zM626.0 764.4l1.5 1.5l-1.5 1.5l-1.5 -1.5zM674.4 765.5l1.5 1.5l-1.5 1.5l-1.5 -1.5zM556.1 762.8l1.5 1.5l-1.5 1.5l-1.5 -1.5zM655.5 764.2l1.5 1.5l-1.5 1.5l-1.5 -1.5zM504.0 767.5l1.5 1.5l-1.5 1.5l-1.5 -1.5zM766.1 769.1l1.5 1.5l-1.5 1.5l-1.5 -1.5zM516.1 772.8l1.5 1.5l-1.5 1.5l-1.5 -1.5zM525.8 765.4l1.5 1.5l-1.5 1.5l-1.5 -1.5zM752.1 764.2l1.5 1.5l-1.5 1.5l-1.5 -1.5zM638.4 767.0l1.5 1.5l-1.5 1.5l-1.5 -1.5zM696.7 766.1l1.5 1.5l-1.5 1.5l-1.5 -1.5zM746.1 762.5l1.5 1.5l-1.5 1.5l-1.5 -1.5zM682.9 765.7l1.5 1.5l-1.5 1.5l-1.5 -1.5zM694.1 763.5l1.5 1.5l-1.5 1.5l-1.5 -1.5zM705.6 770.2l1.5 1.5l-1.5 1.5l-1.5 -1.5zM536.1 771.5l1.5 1.5l-1.5 1.5l-1.5 -1.5zM737.0 770.7l1.5 1.5l-1.5 1.5l-1.5 -1.5zM523.6 764.2l1.5 1.5l-1.5 1.5l-1.5 -1.5zM584.6 772.2l1.5 1.5l-1.5 1.5l-1.5 -1.5zM743.9 762.7l1.5 1.5l-1.5 1.5l-1.5 -1.5zM659.4 769.9l1.5 1.5l-1.5 1.5l-1.5 -1.5zM719.8 776.3l1.5 1.5l-1.5 1.5l-1.5 -1.5zM710.9 770.4l1.5 1.5l-1.5 1.5l-1.5 -1.5zM503.5 765.4l1.5 1.5l-1.5 1.5l-1.5 -1.5zM557.4 762.5l1.5 1.5l-1.5 1.5l-1.5 -1.5zM708.7 767.8l1.5 1.5l-1.5 1.5l-1.5 -1.5zM733.1 763.9l1.5 1.5l-1.5 1.5l-1.5 -1.5zM590.3 769.2l1.5 1.5l-1.5 1.5l-1.5 -1.5zM663.1 773.8l1.5 1.5l-1.5 1.5l-1.5 -1.5zM620.4 770.5l1.5 1.5l-1.5 1.5l-1.5 -1.5zM516.2 765.3l1.5 1.5l-1.5 1.5l-1.5 -1.5zM643.1 764.1l1.5 1.5l-1.5 1.5l-1.5 -1.5zM767.3 769.8l1.5 1.5l-1.5 1.5l-1.5 -1.5zM785.5 776.7l1.5 1.5l-1.5 1.5l-1.5 -1.5zM565.5 774.1l1.5 1.5l-1.5 1.5l-1.5 -1.5zM707.7 763.0l1.5 1.5l-1.5 1.5l-1.5 -1.5zM531.4 763.1l1.5 1.5l-1.5 1.5l-1.5 -1.5zM694.0 763.3l1.5 1.5l-1.5 1.5l-1.5 -1.5zM593.1 763.8l1.5 1.5l-1.5 1.5l-1.5 -1.5zM525.7 764.4l1.5 1.5l-1.5 1.5l-1.5 -1.5zM548.0 778.0l1.5 1.5l-1.5 1.5l-1.5 -1.5zM768.9 763.3l1.5 1.5l-1.5 1.5l-1.5 -1.5zM559.6 778.5l1.5 1.5l-1.5 1.5l-1.5 -1.5zM598.4 764.4l1.5 1.5l-1.5 1.5l-1.5 -1.5zM734.5 765.6l1.5 1.5l-1.5 1.5l-1.5 -1.5zM725.6 772.7l1.5 1.5l-1.5 1.5l-1.5 -1.5zM522.6 767.4l1.5 1.5l-1.5 1.5l-1.5 -1.5zM598.7 770.1l1.5 1.5l-1.5 1.5l-1.5 -1.5zM646.1 766.0l1.5 1.5l-1.5 1.5l-1.5 -1.5zM744.6 774.3l1.5 1.5l-1.5 1.5l-1.5 -1.5zM737.9 776.3l1.5 1.5l-1.5 1.5l-1.5 -1.5zM561.8 764.9l1.5 1.5l-1.5 1.5l-1.5 -1.5zM762.1 767.2l1.5 1.5l-1.5 1.5l-1.5 -1.5zM519.3 769.8l1.5 1.5l-1.5 1.5l-1.5 -1.5z" fill="none" stroke="#ffa500" stroke-width="0.8" stroke-opacity="0.3"/>
<rect x="502.6" y="711.5" width="284.8" height="52.5" fill="#ffa500"/>
<polyline points="110.5,923.0 110.5,877.0" fill="none" stroke="#0000ff" stroke-width="3.0" stroke-linejoin="round" stroke-linecap="round"/>
<polyline points="111.0,878.0 112.0,889.0 113.5,895.5 117.0,899.5 122.0,901.5" fill="none" stroke="#0000ff" stroke-width="3.4" stroke-linejoin="round" stroke-linecap="round"/>
<polygon points="121.0,897.6 122.0,897.7 123.0,898.2 124.0,898.5 125.0,898.5 126.0,897.7 127.0,897.6 128.0,897.6 129.0,897.8 130.0,898.1 131.0,898.1 132.0,898.5 133.0,898.5 134.0,898.7 135.0,898.5 136.0,898.1 137.0,898.7 138.0,898.7 139.0,898.4 140.1,897.7 141.1,898.1 142.1,898.7 143.1,898.6 144.1,898.2 145.1,898.4 146.1,898.5 147.1,897.3 148.1,898.1 149.1,897.7 150.1,897.5 151.1,898.2 152.1,898.1 153.1,897.8 154.1,897.9 155.1,898.8 156.1,898.4 157.1,898.1 158.1,898.3 159.1,897.8 160.1,898.8 161.1,898.6 162.1,898.6 163.1,897.9 164.1,898.2 165.1,896.8 166.1,897.1 167.1,898.2 168.1,897.3 169.1,898.9 170.1,897.8 171.1,898.3 172.1,898.1 173.1,898.8 174.1,897.7 175.1,898.5 176.1,897.8 177.1,898.2 178.2,898.5 179.2,898.5 180.2,898.1 181.2,898.6 182.2,898.9 183.2,898.4 184.2,898.2 185.2,897.9 186.2,898.1 187.2,898.6 188.2,898.8 189.2,899.0 190.2,898.0 191.2,898.2 192.2,898.6 193.2,898.7 194.2,898.0 195.2,898.5 196.2,897.6 197.2,896.9 198.2,899.1 199.2,898.0 200.2,899.1 201.2,898.8 202.2,898.7 203.2,898.9 204.2,898.9 205.2,898.6 206.2,898.9 207.2,899.3 208.2,898.8 209.2,899.3 210.2,898.6 211.2,899.3 212.2,898.9 213.2,899.2 214.2,898.2 215.3,897.5 216.3,899.3 217.3,898.8 218.3,899.3 219.3,899.3 220.3,899.3 221.3,899.4 222.3,899.1 223.3,897.4 224.3,898.7 225.3,898.9 226.3,899.3 227.3,899.4 228.3,899.4 229.3,897.7 230.3,899.4 231.3,899.3 232.3,899.1 233.3,898.8 234.3,898.9 235.3,899.3 236.3,899.3 237.3,899.5 238.3,898.8 239.3,898.7 240.3,898.3 241.3,899.3 242.3,898.2 243.3,899.0 244.3,899.6 245.3,898.9 246.3,899.2 247.3,898.8 248.3,898.7 249.3,899.3 250.3,899.2 251.3,899.3 252.3,899.6 253.4,898.8 254.4,899.2 255.4,899.3 256.4,899.6 257.4,898.7 258.4,899.4 259.4,899.7 260.4,899.0 261.4,899.6 262.4,899.3 263.4,898.9 264.4,899.5 265.4,899.1 266.4,898.5 267.4,898.8 268.4,898.9 269.4,898.7 270.4,899.1 271.4,899.0 272.4,897.3 273.4,899.1 274.4,897.7 275.4,897.7 276.4,898.2 277.4,898.4 278.4,899.0 279.4,896.7 280.4,898.7 281.4,897.9 282.4,897.5 283.4,898.8 284.4,897.6 285.4,898.2 286.4,898.6 287.4,898.0 288.4,898.6 289.4,897.7 290.4,897.3 291.5,898.0 292.5,897.6 293.5,897.9 294.5,897.8 295.5,898.4 296.5,898.4 297.5,898.2 298.5,897.8 299.5,897.8 300.5,898.1 301.5,897.7 302.5,897.2 303.5,897.6 304.5,896.9 305.5,897.8 306.5,897.7 307.5,897.4 308.5,897.1 309.5,897.0 310.5,897.3 311.5,897.4 312.5,896.8 313.5,897.0 314.5,896.6 315.5,896.8 316.5,896.1 317.5,896.1 318.5,896.5 319.5,896.4 320.5,897.1 321.5,896.2 322.5,897.0 323.5,896.7 324.5,896.1 325.5,896.6 326.5,896.0 327.5,896.4 328.6,896.6 329.6,895.8 330.6,896.2 331.6,896.3 332.6,896.2 333.6,896.3 334.6,896.2 335.6,895.7 336.6,895.2 337.6,895.5 338.6,895.2 339.6,895.4 340.6,895.9 341.6,895.6 342.6,895.8 343.6,893.0 344.6,895.1 345.6,894.7 346.6,895.0 347.6,894.2 348.6,894.6 349.6,895.6 350.6,895.8 351.6,896.3 352.6,895.9 353.6,896.1 354.6,896.5 355.6,895.8 356.6,897.0 357.6,896.4 358.6,896.9 359.6,897.4 360.6,897.6 361.6,896.9 362.6,897.5 363.6,896.2 364.6,897.2 365.6,895.5 366.7,897.2 367.7,896.6 368.7,896.7 369.7,896.7 370.7,896.6 371.7,895.8 372.7,895.4 373.7,896.2 374.7,896.0 375.7,895.8 376.7,895.6 377.7,894.3 378.7,894.8 379.7,894.9 380.7,894.5 381.7,893.0 382.7,892.2 383.7,891.0 384.7,891.1 384.7,897.1 383.7,898.4 382.7,898.6 381.7,901.0 380.7,900.6 379.7,901.5 378.7,901.9 377.7,901.4 376.7,902.4 375.7,902.3 374.7,902.4 373.7,902.0 372.7,903.0 371.7,902.4 370.7,902.7 369.7,902.9 368.7,902.9 367.7,903.2 366.7,903.2 365.6,903.5 364.6,903.6 363.6,904.2 362.6,903.7 361.6,904.0 360.6,903.8 359.6,903.8 358.6,903.8 357.6,904.1 356.6,903.1 355.6,903.1 354.6,902.5 353.6,903.0 352.6,903.0 351.6,903.1 350.6,901.9 349.6,901.9 348.6,901.6 347.6,901.4 346.6,901.7 345.6,903.0 344.6,901.9 343.6,902.3 342.6,902.7 341.6,902.4 340.6,902.5 339.6,901.8 338.6,901.7 337.6,902.2 336.6,903.9 335.6,902.0 334.6,902.7 333.6,902.2 332.6,902.1 331.6,902.5 330.6,903.8 329.6,903.2 328.6,902.4 327.5,903.5 326.5,903.0 325.5,903.1 324.5,902.7 323.5,902.6 322.5,903.6 321.5,903.4 320.5,903.7 319.5,902.8 318.5,903.5 317.5,903.5 316.5,904.9 315.5,903.3 314.5,903.1 313.5,903.8 312.5,904.5 311.5,903.3 310.5,903.4 309.5,903.7 308.5,903.6 307.5,903.5 306.5,903.6 305.5,903.6 304.5,904.6 303.5,903.7 302.5,904.1 301.5,904.0 300.5,904.2 299.5,904.5 298.5,904.1 297.5,904.0 296.5,904.0 295.5,904.0 294.5,904.4 293.5,904.9 292.5,904.7 291.5,905.1 290.4,904.9 289.4,904.9 288.4,904.3 287.4,904.4 286.4,904.7 285.4,904.8 284.4,904.5 283.4,905.9 282.4,905.9 281.4,905.1 280.4,905.4 279.4,905.4 278.4,904.6 277.4,905.6 276.4,904.8 275.4,905.4 274.4,905.0 273.4,905.4 272.4,905.8 271.4,904.9 270.4,905.4 269.4,905.5 268.4,905.3 267.4,906.5 266.4,906.1 265.4,905.9 264.4,906.3 263.4,905.3 262.4,905.7 261.4,906.1 260.4,906.0 259.4,905.4 258.4,905.5 257.4,906.6 256.4,905.7 255.4,905.4 254.4,905.3 253.4,905.5 252.3,905.7 251.3,906.6 250.3,905.5 249.3,906.6 248.3,905.3 247.3,905.2 246.3,905.2 245.3,906.0 244.3,905.9 243.3,906.1 242.3,906.5 241.3,905.5 240.3,906.0 239.3,905.7 238.3,905.2 237.3,905.1 236.3,906.5 235.3,906.2 234.3,905.4 233.3,906.2 232.3,905.6 231.3,905.2 230.3,906.9 229.3,906.7 228.3,905.1 227.3,905.3 226.3,905.4 225.3,905.3 224.3,905.8 223.3,905.7 222.3,905.4 221.3,906.0 220.3,905.6 219.3,904.9 218.3,905.5 217.3,905.8 216.3,906.0 215.3,905.9 214.2,905.5 213.2,904.9 212.2,905.0 211.2,905.3 210.2,905.7 209.2,905.2 208.2,905.5 207.2,905.2 206.2,905.1 205.2,904.9 204.2,905.1 203.2,905.3 202.2,905.1 201.2,904.8 200.2,905.6 199.2,905.4 198.2,906.4 197.2,906.0 196.2,904.9 195.2,906.7 194.2,905.7 193.2,905.1 192.2,905.2 191.2,905.5 190.2,905.6 189.2,904.7 188.2,904.8 187.2,905.1 186.2,904.8 185.2,904.7 184.2,904.8 183.2,906.0 182.2,905.3 181.2,904.7 180.2,904.8 179.2,905.4 178.2,904.7 177.1,904.9 176.1,904.7 175.1,905.4 174.1,905.0 173.1,905.1 172.1,904.6 171.1,904.9 170.1,905.4 169.1,904.7 168.1,905.1 167.1,905.6 166.1,905.7 165.1,906.0 164.1,904.8 163.1,904.4 162.1,906.2 161.1,904.4 160.1,904.8 159.1,905.1 158.1,904.9 157.1,904.3 156.1,905.6 155.1,905.3 154.1,905.2 153.1,905.0 152.1,904.4 151.1,904.4 150.1,905.4 149.1,904.8 148.1,906.2 147.1,904.5 146.1,904.8 145.1,904.5 144.1,904.9 143.1,905.2 142.1,904.6 141.1,904.5 140.1,905.3 139.0,904.3 138.0,904.4 137.0,904.5 136.0,904.7 135.0,905.3 134.0,904.3 133.0,904.5 132.0,904.4 131.0,905.7 130.0,904.8 129.0,905.6 128.0,905.6 127.0,904.4 126.0,904.6 125.0,904.3 124.0,904.4 123.0,904.3 122.0,904.3 121.0,904.7" fill="#0000ff"/>
<polygon points="384.0,899.0 386.0,882.0 386.5,866.0 388.5,864.0 389.5,880.0 389.5,918.0 387.5,918.0 386.0,903.0" fill="#0000ff"/>
<path d="M594.5 854.8l1.5 1.5l-1.5 1.5l-1.5 -1.5zM597.3 854.8l1.5 1.5l-1.5 1.5l-1.5 -1.5zM524.4 854.8l1.5 1.5l-1.5 1.5l-1.5 -1.5zM759.3 854.8l1.5 1.5l-1.5 1.5l-1.5 -1.5zM773.0 854.8l1.5 1.5l-1.5 1.5l-1.5 -1.5zM606.5 854.8l1.5 1.5l-1.5 1.5l-1.5 -1.5zM742.9 854.8l1.5 1.5l-1.5 1.5l-1.5 -1.5zM605.7 854.8l1.5 1.5l-1.5 1.5l-1.5 -1.5zM608.5 854.8l1.5 1.5l-1.5 1.5l-1.5 -1.5zM538.5 854.8l1.5 1.5l-1.5 1.5l-1.5 -1.5zM748.8 854.8l1.5 1.5l-1.5 1.5l-1.5 -1.5zM507.9 854.8l1.5 1.5l-1.5 1.5l-1.5 -1.5zM571.8 854.8l1.5 1.5l-1.5 1.5l-1.5 -1.5zM676.3 854.8l1.5 1.5l-1.5 1.5l-1.5 -1.5zM644.4 854.8l1.5 1.5l-1.5 1.5l-1.5 -1.5zM726.8 854.8l1.5 1.5l-1.5 1.5l-1.5 -1.5zM702.5 854.8l1.5 1.5l-1.5 1.5l-1.5 -1.5zM611.8 854.8l1.5 1.5l-1.5 1.5l-1.5 -1.5zM770.3 854.8l1.5 1.5l-1.5 1.5l-1.5 -1.5zM678.7 854.8l1.5 1.5l-1.5 1.5l-1.5 -1.5zM639.8 854.8l1.5 1.5l-1.5 1.5l-1.5 -1.5zM697.4 854.8l1.5 1.5l-1.5 1.5l-1.5 -1.5zM597.3 854.8l1.5 1.5l-1.5 1.5l-1.5 -1.5zM550.1 854.8l1.5 1.5l-1.5 1.5l-1.5 -1.5zM714.5 854.8l1.5 1.5l-1.5 1.5l-1.5 -1.5zM580.2 854.8l1.5 1.5l-1.5 1.5l-1.5 -1.5zM745.8 854.8l1.5 1.5l-1.5 1.5l-1.5 -1.5zM519.5 854.8l1.5 1.5l-1.5 1.5l-1.5 -1.5z" fill="#ffa500" fill-opacity="0.175" stroke="#ffa500" stroke-width="0.8" stroke-opacity="0.35"/>
<rect x="502.6" y="865.5" width="280.2" height="2.3" fill="#ffa500" fill-opacity="0.3"/>
<path d="M584.0 865.1l1.5 1.5l-1.5 1.5l-1.5 -1.5zM717.2 865.1l1.5 1.5l-1.5 1.5l-1.5 -1.5zM542.3 865.1l1.5 1.5l-1.5 1.5l-1.5 -1.5zM571.2 865.1l1.5 1.5l-1.5 1.5l-1.5 -1.5zM717.7 865.1l1.5 1.5l-1.5 1.5l-1.5 -1.5zM649.9 865.1l1.5 1.5l-1.5 1.5l-1.5 -1.5zM726.7 865.1l1.5 1.5l-1.5 1.5l-1.5 -1.5zM742.3 865.1l1.5 1.5l-1.5 1.5l-1.5 -1.5zM643.1 865.1l1.5 1.5l-1.5 1.5l-1.5 -1.5zM538.9 865.1l1.5 1.5l-1.5 1.5l-1.5 -1.5zM697.6 865.1l1.5 1.5l-1.5 1.5l-1.5 -1.5zM588.7 865.1l1.5 1.5l-1.5 1.5l-1.5 -1.5zM713.4 865.1l1.5 1.5l-1.5 1.5l-1.5 -1.5zM530.2 865.1l1.5 1.5l-1.5 1.5l-1.5 -1.5zM655.6 865.1l1.5 1.5l-1.5 1.5l-1.5 -1.5zM582.2 865.1l1.5 1.5l-1.5 1.5l-1.5 -1.5zM504.8 865.1l1.5 1.5l-1.5 1.5l-1.5 -1.5zM543.6 865.1l1.5 1.5l-1.5 1.5l-1.5 -1.5zM639.9 865.1l1.5 1.5l-1.5 1.5l-1.5 -1.5zM520.3 865.1l1.5 1.5l-1.5 1.5l-1.5 -1.5zM776.5 865.1l1.5 1.5l-1.5 1.5l-1.5 -1.5zM763.3 865.1l1.5 1.5l-1.5 1.5l-1.5 -1.5zM544.7 865.1l1.5 1.5l-1.5 1.5l-1.5 -1.5zM522.2 865.1l1.5 1.5l-1.5 1.5l-1.5 -1.5zM513.4 865.1l1.5 1.5l-1.5 1.5l-1.5 -1.5zM745.8 865.1l1.5 1.5l-1.5 1.5l-1.5 -1.5zM549.6 865.1l1.5 1.5l-1.5 1.5l-1.5 -1.5zM663.9 865.1l1.5 1.5l-1.5 1.5l-1.5 -1.5zM583.1 865.1l1.5 1.5l-1.5 1.5l-1.5 -1.5zM616.8 865.1l1.5 1.5l-1.5 1.5l-1.5 -1.5zM777.4 865.1l1.5 1.5l-1.5 1.5l-1.5 -1.5zM707.9 865.1l1.5 1.5l-1.5 1.5l-1.5 -1.5zM736.0 865.1l1.5 1.5l-1.5 1.5l-1.5 -1.5zM675.2 865.1l1.5 1.5l-1.5 1.5l-1.5 -1.5zM677.8 865.1l1.5 1.5l-1.5 1.5l-1.5 -1.5zM612.4 865.1l1.5 1.5l-1.5 1.5l-1.5 -1.5zM750.5 865.1l1.5 1.5l-1.5 1.5l-1.5 -1.5zM698.0 865.1l1.5 1.5l-1.5 1.5l-1.5 -1.5zM671.4 865.1l1.5 1.5l-1.5 1.5l-1.5 -1.5zM528.7 865.1l1.5 1.5l-1.5 1.5l-1.5 -1.5zM728.9 865.1l1.5 1.5l-1.5 1.5l-1.5 -1.5zM737.1 865.1l1.5 1.5l-1.5 1.5l-1.5 -1.5zM668.8 865.1l1.5 1.5l-1.5 1.5l-1.5 -1.5zM589.2 865.1l1.5 1.5l-1.5 1.5l-1.5 -1.5zM655.0 865.1l1.5 1.5l-1.5 1.5l-1.5 -1.5zM571.8 865.1l1.5 1.5l-1.5 1.5l-1.5 -1.5zM703.8 865.1l1.5 1.5l-1.5 1.5l-1.5 -1.5zM666.8 865.1l1.5 1.5l-1.5 1.5l-1.5 -1.5zM653.5 865.1l1.5 1.5l-1.5 1.5l-1.5 -1.5zM645.1 865.1l1.5 1.5l-1.5 1.5l-1.5 -1.5zM534.2 865.1l1.5 1.5l-1.5 1.5l-1.5 -1.5zM762.5 865.1l1.5 1.5l-1.5 1.5l-1.5 -1.5zM530.9 865.1l1.5 1.5l-1.5 1.5l-1.5 -1.5zM606.0 865.1l1.5 1.5l-1.5 1.5l-1.5 -1.5zM600.4 865.1l1.5 1.5l-1.5 1.5l-1.5 -1.5zM664.4 865.1l1.5 1.5l-1.5 1.5l-1.5 -1.5zM718.7 865.1l1.5 1.5l-1.5 1.5l-1.5 -1.5zM573.8 865.1l1.5 1.5l-1.5 1.5l-1.5 -1.5zM597.7 865.1l1.5 1.5l-1.5 1.5l-1.5 -1.5zM666.5 865.1l1.5 1.5l-1.5 1.5l-1.5 -1.5zM722.3 865.1l1.5 1.5l-1.5 1.5l-1.5 -1.5zM649.4 865.1l1.5 1.5l-1.5 1.5l-1.5 -1.5zM762.3 865.1l1.5 1.5l-1.5 1.5l-1.5 -1.5zM640.5 865.1l1.5 1.5l-1.5 1.5l-1.5 -1.5zM627.3 865.1l1.5 1.5l-1.5 1.5l-1.5 -1.5zM642.4 865.1l1.5 1.5l-1.5 1.5l-1.5 -1.5zM562.2 865.1l1.5 1.5l-1.5 1.5l-1.5 -1.5zM517.8 865.1l1.5 1.5l-1.5 1.5l-1.5 -1.5zM666.4 865.1l1.5 1.5l-1.5 1.5l-1.5 -1.5zM723.7 865.1l1.5 1.5l-1.5 1.5l-1.5 -1.5zM645.6 865.1l1.5 1.5l-1.5 1.5l-1.5 -1.5zM609.1 865.1l1.5 1.5l-1.5 1.5l-1.5 -1.5zM616.2 865.1l1.5 1.5l-1.5 1.5l-1.5 -1.5zM547.4 865.1l1.5 1.5l-1.5 1.5l-1.5 -1.5zM539.9 865.1l1.5 1.5l-1.5 1.5l-1.5 -1.5zM734.8 865.1l1.5 1.5l-1.5 1.5l-1.5 -1.5zM518.2 865.1l1.5 1.5l-1.5 1.5l-1.5 -1.5zM572.0 865.1l1.5 1.5l-1.5 1.5l-1.5 -1.5zM595.4 865.1l1.5 1.5l-1.5 1.5l-1.5 -1.5zM720.1 865.1l1.5 1.5l-1.5 1.5l-1.5 -1.5zM735.7 865.1l1.5 1.5l-1.5 1.5l-1.5 -1.5zM744.3 865.1l1.5 1.5l-1.5 1.5l-1.5 -1.5zM697.7 865.1l1.5 1.5l-1.5 1.5l-1.5 -1.5zM734.8 865.1l1.5 1.5l-1.5 1.5l-1.5 -1.5zM660.2 865.1l1.5 1.5l-1.5 1.5l-1.5 -1.5zM739.2 865.1l1.5 1.5l-1.5 1.5l-1.5 -1.5zM625.9 865.1l1.5 1.5l-1.5 1.5l-1.5 -1.5zM641.1 865.1l1.5 1.5l-1.5 1.5l-1.5 -1.5zM767.5 865.1l1.5 1.5l-1.5 1.5l-1.5 -1.5zM608.1 865.1l1.5 1.5l-1.5 1.5l-1.5 -1.5zM615.9 865.1l1.5 1.5l-1.5 1.5l-1.5 -1.5zM532.4 865.1l1.5 1.5l-1.5 1.5l-1.5 -1.5zM688.3 865.1l1.5 1.5l-1.5 1.5l-1.5 -1.5zM752.9 865.1l1.5 1.5l-1.5 1.5l-1.5 -1.5zM610.4 865.1l1.5 1.5l-1.5 1.5l-1.5 -1.5zM717.1 865.1l1.5 1.5l-1.5 1.5l-1.5 -1.5zM718.4 865.1l1.5 1.5l-1.5 1.5l-1.5 -1.5zM721.9 865.1l1.5 1.5l-1.5 1.5l-1.5 -1.5zM599.3 865.1l1.5 1.5l-1.5 1.5l-1.5 -1.5zM514.5 865.1l1.5 1.5l-1.5 1.5l-1.5 -1.5zM703.5 865.1l1.5 1.5l-1.5 1.5l-1.5 -1.5zM674.4 865.1l1.5 1.5l-1.5 1.5l-1.5 -1.5zM715.5 865.1l1.5 1.5l-1.5 1.5l-1.5 -1.5zM514.4 865.1l1.5 1.5l-1.5 1.5l-1.5 -1.5zM733.3 865.1l1.5 1.5l-1.5 1.5l-1.5 -1.5zM508.0 865.1l1.5 1.5l-1.5 1.5l-1.5 -1.5zM622.4 865.1l1.5 1.5l-1.5 1.5l-1.5 -1.5zM627.1 865.1l1.5 1.5l-1.5 1.5l-1.5 -1.5zM620.5 865.1l1.5 1.5l-1.5 1.5l-1.5 -1.5zM652.9 865.1l1.5 1.5l-1.5 1.5l-1.5 -1.5zM704.4 865.1l1.5 1.5l-1.5 1.5l-1.5 -1.5zM728.1 865.1l1.5 1.5l-1.5 1.5l-1.5 -1.5zM782.6 865.1l1.5 1.5l-1.5 1.5l-1.5 -1.5zM583.3 865.1l1.5 1.5l-1.5 1.5l-1.5 -1.5zM617.4 865.1l1.5 1.5l-1.5 1.5l-1.5 -1.5zM633.7 865.1l1.5 1.5l-1.5 1.5l-1.5 -1.5zM681.5 865.1l1.5 1.5l-1.5 1.5l-1.5 -1.5zM755.5 865.1l1.5 1.5l-1.5 1.5l-1.5 -1.5zM728.3 865.1l1.5 1.5l-1.5 1.5l-1.5 -1.5zM681.2 865.1l1.5 1.5l-1.5 1.5l-1.5 -1.5zM551.8 865.1l1.5 1.5l-1.5 1.5l-1.5 -1.5zM534.5 865.1l1.5 1.5l-1.5 1.5l-1.5 -1.5zM760.1 865.1l1.5 1.5l-1.5 1.5l-1.5 -1.5zM729.3 865.1l1.5 1.5l-1.5 1.5l-1.5 -1.5zM610.9 865.1l1.5 1.5l-1.5 1.5l-1.5 -1.5zM683.9 865.1l1.5 1.5l-1.5 1.5l-1.5 -1.5zM581.0 865.1l1.5 1.5l-1.5 1.5l-1.5 -1.5zM718.3 865.1l1.5 1.5l-1.5 1.5l-1.5 -1.5zM625.8 865.1l1.5 1.5l-1.5 1.5l-1.5 -1.5zM754.9 865.1l1.5 1.5l-1.5 1.5l-1.5 -1.5zM764.8 865.1l1.5 1.5l-1.5 1.5l-1.5 -1.5zM700.5 865.1l1.5 1.5l-1.5 1.5l-1.5 -1.5zM634.7 865.1l1.5 1.5l-1.5 1.5l-1.5 -1.5zM730.2 865.1l1.5 1.5l-1.5 1.5l-1.5 -1.5zM776.4 865.1l1.5 1.5l-1.5 1.5l-1.5 -1.5zM603.6 865.1l1.5 1.5l-1.5 1.5l-1.5 -1.5zM614.6 865.1l1.5 1.5l-1.5 1.5l-1.5 -1.5zM558.1 865.1l1.5 1.5l-1.5 1.5l-1.5 -1.5zM726.5 865.1l1.5 1.5l-1.5 1.5l-1.5 -1.5zM564.6 865.1l1.5 1.5l-1.5 1.5l-1.5 -1.5zM719.5 865.1l1.5 1.5l-1.5 1.5l-1.5 -1.5zM767.5 865.1l1.5 1.5l-1.5 1.5l-1.5 -1.5zM679.1 865.1l1.5 1.5l-1.5 1.5l-1.5 -1.5zM543.8 865.1l1.5 1.5l-1.5 1.5l-1.5 -1.5zM658.0 865.1l1.5 1.5l-1.5 1.5l-1.5 -1.5zM539.2 865.1l1.5 1.5l-1.5 1.5l-1.5 -1.5zM617.1 865.1l1.5 1.5l-1.5 1.5l-1.5 -1.5zM545.5 865.1l1.5 1.5l-1.5 1.5l-1.5 -1.5zM622.3 865.1l1.5 1.5l-1.5 1.5l-1.5 -1.5zM700.0 865.1l1.5 1.5l-1.5 1.5l-1.5 -1.5zM570.6 865.1l1.5 1.5l-1.5 1.5l-1.5 -1.5zM609.4 865.1l1.5 1.5l-1.5 1.5l-1.5 -1.5zM547.5 865.1l1.5 1.5l-1.5 1.5l-1.5 -1.5zM558.8 865.1l1.5 1.5l-1.5 1.5l-1.5 -1.5zM780.5 865.1l1.5 1.5l-1.5 1.5l-1.5 -1.5zM752.7 865.1l1.5 1.5l-1.5 1.5l-1.5 -1.5zM714.2 865.1l1.5 1.5l-1.5 1.5l-1.5 -1.5zM546.1 865.1l1.5 1.5l-1.5 1.5l-1.5 -1.5zM671.5 865.1l1.5 1.5l-1.5 1.5l-1.5 -1.5zM662.9 865.1l1.5 1.5l-1.5 1.5l-1.5 -1.5zM673.2 865.1l1.5 1.5l-1.5 1.5l-1.5 -1.5zM767.0 865.1l1.5 1.5l-1.5 1.5l-1.5 -1.5zM536.4 865.1l1.5 1.5l-1.5 1.5l-1.5 -1.5zM586.1 865.1l1.5 1.5l-1.5 1.5l-1.5 -1.5zM635.5 865.1l1.5 1.5l-1.5 1.5l-1.5 -1.5zM551.8 865.1l1.5 1.5l-1.5 1.5l-1.5 -1.5zM695.4 865.1l1.5 1.5l-1.5 1.5l-1.5 -1.5zM583.1 865.1l1.5 1.5l-1.5 1.5l-1.5 -1.5zM505.4 865.1l1.5 1.5l-1.5 1.5l-1.5 -1.5zM564.4 865.1l1.5 1.5l-1.5 1.5l-1.5 -1.5z" fill="#ffa500" fill-opacity="0.2" stroke="#ffa500" stroke-width="0.8" stroke-opacity="0.4"/>
<rect x="502.6" y="937.4" width="280.2" height="2.2" fill="#ffa500" fill-opacity="0.25"/>
<path d="M650.8 937.0l1.5 1.5l-1.5 1.5l-1.5 -1.5zM754.2 937.0l1.5 1.5l-1.5 1.5l-1.5 -1.5zM664.6 937.0l1.5 1.5l-1.5 1.5l-1.5 -1.5zM624.8 937.0l1.5 1.5l-1.5 1.5l-1.5 -1.5zM736.0 937.0l1.5 1.5l-1.5 1.5l-1.5 -1.5zM731.0 937.0l1.5 1.5l-1.5 1.5l-1.5 -1.5zM600.6 937.0l1.5 1.5l-1.5 1.5l-1.5 -1.5zM705.9 937.0l1.5 1.5l-1.5 1.5l-1.5 -1.5zM754.5 937.0l1.5 1.5l-1.5 1.5l-1.5 -1.5zM678.8 937.0l1.5 1.5l-1.5 1.5l-1.5 -1.5zM764.6 937.0l1.5 1.5l-1.5 1.5l-1.5 -1.5zM654.1 937.0l1.5 1.5l-1.5 1.5l-1.5 -1.5zM697.0 937.0l1.5 1.5l-1.5 1.5l-1.5 -1.5zM643.0 937.0l1.5 1.5l-1.5 1.5l-1.5 -1.5zM703.1 937.0l1.5 1.5l-1.5 1.5l-1.5 -1.5zM548.0 937.0l1.5 1.5l-1.5 1.5l-1.5 -1.5zM559.1 937.0l1.5 1.5l-1.5 1.5l-1.5 -1.5zM587.4 937.0l1.5 1.5l-1.5 1.5l-1.5 -1.5zM618.6 937.0l1.5 1.5l-1.5 1.5l-1.5 -1.5zM641.2 937.0l1.5 1.5l-1.5 1.5l-1.5 -1.5zM778.6 937.0l1.5 1.5l-1.5 1.5l-1.5 -1.5zM673.6 937.0l1.5 1.5l-1.5 1.5l-1.5 -1.5zM719.9 937.0l1.5 1.5l-1.5 1.5l-1.5 -1.5zM692.6 937.0l1.5 1.5l-1.5 1.5l-1.5 -1.5zM622.4 937.0l1.5 1.5l-1.5 1.5l-1.5 -1.5zM687.7 937.0l1.5 1.5l-1.5 1.5l-1.5 -1.5zM734.9 937.0l1.5 1.5l-1.5 1.5l-1.5 -1.5zM561.7 937.0l1.5 1.5l-1.5 1.5l-1.5 -1.5zM577.5 937.0l1.5 1.5l-1.5 1.5l-1.5 -1.5zM720.9 937.0l1.5 1.5l-1.5 1.5l-1.5 -1.5zM594.0 937.0l1.5 1.5l-1.5 1.5l-1.5 -1.5zM544.2 937.0l1.5 1.5l-1.5 1.5l-1.5 -1.5zM647.2 937.0l1.5 1.5l-1.5 1.5l-1.5 -1.5zM759.4 937.0l1.5 1.5l-1.5 1.5l-1.5 -1.5zM519.4 937.0l1.5 1.5l-1.5 1.5l-1.5 -1.5zM754.2 937.0l1.5 1.5l-1.5 1.5l-1.5 -1.5zM670.4 937.0l1.5 1.5l-1.5 1.5l-1.5 -1.5zM619.8 937.0l1.5 1.5l-1.5 1.5l-1.5 -1.5zM677.3 937.0l1.5 1.5l-1.5 1.5l-1.5 -1.5zM508.2 937.0l1.5 1.5l-1.5 1.5l-1.5 -1.5zM618.6 937.0l1.5 1.5l-1.5 1.5l-1.5 -1.5zM644.9 937.0l1.5 1.5l-1.5 1.5l-1.5 -1.5zM673.8 937.0l1.5 1.5l-1.5 1.5l-1.5 -1.5zM759.7 937.0l1.5 1.5l-1.5 1.5l-1.5 -1.5zM762.6 937.0l1.5 1.5l-1.5 1.5l-1.5 -1.5zM754.2 937.0l1.5 1.5l-1.5 1.5l-1.5 -1.5zM593.4 937.0l1.5 1.5l-1.5 1.5l-1.5 -1.5zM748.5 937.0l1.5 1.5l-1.5 1.5l-1.5 -1.5zM577.0 937.0l1.5 1.5l-1.5 1.5l-1.5 -1.5zM526.8 937.0l1.5 1.5l-1.5 1.5l-1.5 -1.5zM771.0 937.0l1.5 1.5l-1.5 1.5l-1.5 -1.5zM651.2 937.0l1.5 1.5l-1.5 1.5l-1.5 -1.5zM535.3 937.0l1.5 1.5l-1.5 1.5l-1.5 -1.5zM742.1 937.0l1.5 1.5l-1.5 1.5l-1.5 -1.5zM520.3 937.0l1.5 1.5l-1.5 1.5l-1.5 -1.5zM715.3 937.0l1.5 1.5l-1.5 1.5l-1.5 -1.5zM611.0 937.0l1.5 1.5l-1.5 1.5l-1.5 -1.5zM705.8 937.0l1.5 1.5l-1.5 1.5l-1.5 -1.5zM549.9 937.0l1.5 1.5l-1.5 1.5l-1.5 -1.5zM703.2 937.0l1.5 1.5l-1.5 1.5l-1.5 -1.5zM770.8 937.0l1.5 1.5l-1.5 1.5l-1.5 -1.5zM577.3 937.0l1.5 1.5l-1.5 1.5l-1.5 -1.5zM543.5 937.0l1.5 1.5l-1.5 1.5l-1.5 -1.5zM649.9 937.0l1.5 1.5l-1.5 1.5l-1.5 -1.5zM636.8 937.0l1.5 1.5l-1.5 1.5l-1.5 -1.5zM687.8 937.0l1.5 1.5l-1.5 1.5l-1.5 -1.5zM578.6 937.0l1.5 1.5l-1.5 1.5l-1.5 -1.5zM684.5 937.0l1.5 1.5l-1.5 1.5l-1.5 -1.5zM765.0 937.0l1.5 1.5l-1.5 1.5l-1.5 -1.5zM504.4 937.0l1.5 1.5l-1.5 1.5l-1.5 -1.5zM534.9 937.0l1.5 1.5l-1.5 1.5l-1.5 -1.5zM768.1 937.0l1.5 1.5l-1.5 1.5l-1.5 -1.5zM599.9 937.0l1.5 1.5l-1.5 1.5l-1.5 -1.5zM614.6 937.0l1.5 1.5l-1.5 1.5l-1.5 -1.5zM598.3 937.0l1.5 1.5l-1.5 1.5l-1.5 -1.5zM752.9 937.0l1.5 1.5l-1.5 1.5l-1.5 -1.5zM732.2 937.0l1.5 1.5l-1.5 1.5l-1.5 -1.5zM581.6 937.0l1.5 1.5l-1.5 1.5l-1.5 -1.5zM698.4 937.0l1.5 1.5l-1.5 1.5l-1.5 -1.5zM536.7 937.0l1.5 1.5l-1.5 1.5l-1.5 -1.5zM633.7 937.0l1.5 1.5l-1.5 1.5l-1.5 -1.5zM711.1 937.0l1.5 1.5l-1.5 1.5l-1.5 -1.5zM646.0 937.0l1.5 1.5l-1.5 1.5l-1.5 -1.5zM651.1 937.0l1.5 1.5l-1.5 1.5l-1.5 -1.5zM630.4 937.0l1.5 1.5l-1.5 1.5l-1.5 -1.5zM688.6 937.0l1.5 1.5l-1.5 1.5l-1.5 -1.5zM517.0 937.0l1.5 1.5l-1.5 1.5l-1.5 -1.5zM517.0 937.0l1.5 1.5l-1.5 1.5l-1.5 -1.5zM670.0 937.0l1.5 1.5l-1.5 1.5l-1.5 -1.5zM631.6 937.0l1.5 1.5l-1.5 1.5l-1.5 -1.5zM636.1 937.0l1.5 1.5l-1.5 1.5l-1.5 -1.5zM736.3 937.0l1.5 1.5l-1.5 1.5l-1.5 -1.5zM633.0 937.0l1.5 1.5l-1.5 1.5l-1.5 -1.5zM652.0 937.0l1.5 1.5l-1.5 1.5l-1.5 -1.5zM729.6 937.0l1.5 1.5l-1.5 1.5l-1.5 -1.5zM593.2 937.0l1.5 1.5l-1.5 1.5l-1.5 -1.5zM699.6 937.0l1.5 1.5l-1.5 1.5l-1.5 -1.5zM589.8 937.0l1.5 1.5l-1.5 1.5l-1.5 -1.5zM779.9 937.0l1.5 1.5l-1.5 1.5l-1.5 -1.5zM730.6 937.0l1.5 1.5l-1.5 1.5l-1.5 -1.5zM634.9 937.0l1.5 1.5l-1.5 1.5l-1.5 -1.5zM693.9 937.0l1.5 1.5l-1.5 1.5l-1.5 -1.5zM576.0 937.0l1.5 1.5l-1.5 1.5l-1.5 -1.5zM527.7 937.0l1.5 1.5l-1.5 1.5l-1.5 -1.5zM606.8 937.0l1.5 1.5l-1.5 1.5l-1.5 -1.5zM718.9 937.0l1.5 1.5l-1.5 1.5l-1.5 -1.5zM771.3 937.0l1.5 1.5l-1.5 1.5l-1.5 -1.5zM596.3 937.0l1.5 1.5l-1.5 1.5l-1.5 -1.5zM586.1 937.0l1.5 1.5l-1.5 1.5l-1.5 -1.5zM778.2 937.0l1.5 1.5l-1.5 1.5l-1.5 -1.5zM772.3 937.0l1.5 1.5l-1.5 1.5l-1.5 -1.5zM688.5 937.0l1.5 1.5l-1.5 1.5l-1.5 -1.5zM550.9 937.0l1.5 1.5l-1.5 1.5l-1.5 -1.5zM717.3 937.0l1.5 1.5l-1.5 1.5l-1.5 -1.5zM663.6 937.0l1.5 1.5l-1.5 1.5l-1.5 -1.5zM541.6 937.0l1.5 1.5l-1.5 1.5l-1.5 -1.5zM542.8 937.0l1.5 1.5l-1.5 1.5l-1.5 -1.5zM746.4 937.0l1.5 1.5l-1.5 1.5l-1.5 -1.5zM604.4 937.0l1.5 1.5l-1.5 1.5l-1.5 -1.5zM662.1 937.0l1.5 1.5l-1.5 1.5l-1.5 -1.5zM711.7 937.0l1.5 1.5l-1.5 1.5l-1.5 -1.5zM701.0 937.0l1.5 1.5l-1.5 1.5l-1.5 -1.5zM626.0 937.0l1.5 1.5l-1.5 1.5l-1.5 -1.5zM582.7 937.0l1.5 1.5l-1.5 1.5l-1.5 -1.5zM564.5 937.0l1.5 1.5l-1.5 1.5l-1.5 -1.5zM603.6 937.0l1.5 1.5l-1.5 1.5l-1.5 -1.5zM699.5 937.0l1.5 1.5l-1.5 1.5l-1.5 -1.5zM768.8 937.0l1.5 1.5l-1.5 1.5l-1.5 -1.5zM606.7 937.0l1.5 1.5l-1.5 1.5l-1.5 -1.5zM619.9 937.0l1.5 1.5l-1.5 1.5l-1.5 -1.5zM736.6 937.0l1.5 1.5l-1.5 1.5l-1.5 -1.5zM754.7 937.0l1.5 1.5l-1.5 1.5l-1.5 -1.5zM515.9 937.0l1.5 1.5l-1.5 1.5l-1.5 -1.5zM613.5 937.0l1.5 1.5l-1.5 1.5l-1.5 -1.5zM572.2 937.0l1.5 1.5l-1.5 1.5l-1.5 -1.5zM672.9 937.0l1.5 1.5l-1.5 1.5l-1.5 -1.5zM762.2 937.0l1.5 1.5l-1.5 1.5l-1.5 -1.5zM665.2 937.0l1.5 1.5l-1.5 1.5l-1.5 -1.5zM680.8 937.0l1.5 1.5l-1.5 1.5l-1.5 -1.5zM661.3 937.0l1.5 1.5l-1.5 1.5l-1.5 -1.5zM584.1 937.0l1.5 1.5l-1.5 1.5l-1.5 -1.5zM709.8 937.0l1.5 1.5l-1.5 1.5l-1.5 -1.5zM670.6 937.0l1.5 1.5l-1.5 1.5l-1.5 -1.5zM527.0 937.0l1.5 1.5l-1.5 1.5l-1.5 -1.5zM677.7 937.0l1.5 1.5l-1.5 1.5l-1.5 -1.5zM551.2 937.0l1.5 1.5l-1.5 1.5l-1.5 -1.5zM723.9 937.0l1.5 1.5l-1.5 1.5l-1.5 -1.5zM707.1 937.0l1.5 1.5l-1.5 1.5l-1.5 -1.5zM757.9 937.0l1.5 1.5l-1.5 1.5l-1.5 -1.5zM680.5 937.0l1.5 1.5l-1.5 1.5l-1.5 -1.5z" fill="#ffa500" fill-opacity="0.2" stroke="#ffa500" stroke-width="0.8" stroke-opacity="0.4"/>
<rect x="502.6" y="875.9" width="280.2" height="3.0" fill="#ffa500"/>
<rect x="502.6" y="886.0" width="280.2" height="3.0" fill="#ffa500"/>
<rect x="502.6" y="895.9" width="280.2" height="3.0" fill="#ffa500"/>
<rect x="502.6" y="905.8" width="280.2" height="3.0" fill="#ffa500"/>
<rect x="502.6" y="916.9" width="280.2" height="3.0" fill="#ffa500"/>
<rect x="502.6" y="926.9" width="280.2" height="3.0" fill="#ffa500"/>
<rect x="496.0" y="888.8" width="8.6" height="3.0" fill="#ffa500"/>
<rect x="509.7" y="888.8" width="3.5" height="3.0" fill="#ffa500"/>
<rect x="523.0" y="888.8" width="3.8" height="3.0" fill="#ffa500"/>
<rect x="589.3" y="888.8" width="3.7" height="3.0" fill="#ffa500"/>
<rect x="655.8" y="888.8" width="4.1" height="3.0" fill="#ffa500"/>
<rect x="722.2" y="888.8" width="3.5" height="3.0" fill="#ffa500"/>
<rect x="780.4" y="888.8" width="16.2" height="3.0" fill="#ffa500"/>
<polygon points="103.0,1027.0 104.0,1027.7 105.0,1026.9 106.0,1026.0 107.0,1026.7 108.0,1025.9 109.0,1025.4 110.0,1024.7 111.0,1024.5 112.0,1026.5 113.0,1026.2 114.0,1026.3 115.0,1026.5 116.0,1026.4 117.0,1025.9 118.0,1026.0 119.0,1026.9 120.0,1026.4 121.0,1026.7 122.0,1026.4 123.0,1026.9 124.0,1026.8 125.0,1027.0 126.0,1026.7 127.0,1026.9 128.1,1027.0 129.1,1027.0 130.1,1027.0 131.1,1026.8 132.1,1026.1 133.1,1026.9 134.1,1026.6 135.1,1026.5 136.1,1026.8 137.1,1027.0 138.1,1027.0 139.1,1027.1 140.1,1026.3 141.1,1026.8 142.1,1027.0 143.1,1027.1 144.1,1026.2 145.1,1027.0 146.1,1026.8 147.1,1025.5 148.1,1027.0 149.1,1027.0 150.1,1026.7 151.1,1026.6 152.1,1027.1 153.1,1027.1 154.1,1026.3 155.1,1026.9 156.1,1026.8 157.1,1026.9 158.1,1027.0 159.1,1026.3 160.1,1026.0 161.1,1026.5 162.1,1027.1 163.1,1027.2 164.1,1027.1 165.1,1027.1 166.1,1026.9 167.1,1026.3 168.1,1027.1 169.1,1027.0 170.1,1027.1 171.1,1026.9 172.1,1027.1 173.1,1026.8 174.1,1026.4 175.1,1027.0 176.1,1026.8 177.1,1026.9 178.2,1026.9 179.2,1027.1 180.2,1027.3 181.2,1027.3 182.2,1027.3 183.2,1027.3 184.2,1027.4 185.2,1027.1 186.2,1027.3 187.2,1027.3 188.2,1027.2 189.2,1027.4 190.2,1027.3 191.2,1026.8 192.2,1026.2 193.2,1027.3 194.2,1026.5 195.2,1027.4 196.2,1027.3 197.2,1027.3 198.2,1027.4 199.2,1027.0 200.2,1027.5 201.2,1027.4 202.2,1027.4 203.2,1026.7 204.2,1027.5 205.2,1027.2 206.2,1026.8 207.2,1027.4 208.2,1027.4 209.2,1026.9 210.2,1027.3 211.2,1027.5 212.2,1027.4 213.2,1027.2 214.2,1027.0 215.2,1027.3 216.2,1027.2 217.2,1026.7 218.2,1027.3 219.2,1026.5 220.2,1027.0 221.2,1027.2 222.2,1027.1 223.2,1027.4 224.2,1027.4 225.2,1026.6 226.2,1027.4 227.2,1027.2 228.2,1027.3 229.3,1026.6 230.3,1027.0 231.3,1026.9 232.3,1027.2 233.3,1027.1 234.3,1027.0 235.3,1027.2 236.3,1027.2 237.3,1026.8 238.3,1027.3 239.3,1027.2 240.3,1027.2 241.3,1027.0 242.3,1026.9 243.3,1027.1 244.3,1027.2 245.3,1026.8 246.3,1026.4 247.3,1027.4 248.3,1027.3 249.3,1027.1 250.3,1027.2 251.3,1026.7 252.3,1026.9 253.3,1027.0 254.3,1027.5 255.3,1027.2 256.3,1027.1 257.3,1027.3 258.3,1027.3 259.3,1027.4 260.3,1027.4 261.3,1027.2 262.3,1027.2 263.3,1027.5 264.3,1027.2 265.3,1027.2 266.3,1027.4 267.3,1027.3 268.3,1027.5 269.3,1027.5 270.3,1027.0 271.3,1027.0 272.3,1026.6 273.3,1026.9 274.3,1027.4 275.3,1027.1 276.3,1027.1 277.3,1027.1 278.4,1027.3 279.4,1027.4 280.4,1027.5 281.4,1027.2 282.4,1027.0 283.4,1027.4 284.4,1026.3 285.4,1027.4 286.4,1026.7 287.4,1026.7 288.4,1027.3 289.4,1027.4 290.4,1027.4 291.4,1027.4 292.4,1026.9 293.4,1026.7 294.4,1027.3 295.4,1026.9 296.4,1027.3 297.4,1026.9 298.4,1027.3 299.4,1027.5 300.4,1027.3 301.4,1027.1 302.4,1027.4 303.4,1026.8 304.4,1027.1 305.4,1026.7 306.4,1026.4 307.4,1027.1 308.4,1027.1 309.4,1027.1 310.4,1027.4 311.4,1026.0 312.4,1027.2 313.4,1027.3 314.4,1027.5 315.4,1027.3 316.4,1027.1 317.4,1027.3 318.4,1027.1 319.4,1027.2 320.4,1027.5 321.4,1027.5 322.4,1027.3 323.4,1027.4 324.4,1026.9 325.4,1027.2 326.4,1026.8 327.4,1026.9 328.4,1027.5 329.5,1027.1 330.5,1027.2 331.5,1027.2 332.5,1027.3 333.5,1027.6 334.5,1026.7 335.5,1027.6 336.5,1027.7 337.5,1027.6 338.5,1027.1 339.5,1027.7 340.5,1027.3 341.5,1027.2 342.5,1027.5 343.5,1027.5 344.5,1027.5 345.5,1026.7 346.5,1027.6 347.5,1027.7 348.5,1027.5 349.5,1027.3 350.5,1026.9 351.5,1027.2 352.5,1027.7 353.5,1027.6 354.5,1027.3 355.5,1027.4 356.5,1027.6 357.5,1027.7 358.5,1027.7 359.5,1027.3 360.5,1027.6 361.5,1027.6 362.5,1027.5 363.5,1027.6 364.5,1027.5 365.5,1027.8 366.5,1027.5 367.5,1027.5 368.5,1027.0 369.5,1027.6 370.5,1027.1 371.5,1027.5 372.5,1027.3 373.5,1027.1 374.5,1027.9 375.5,1027.9 376.5,1027.6 377.5,1027.8 378.6,1027.6 379.6,1027.1 380.6,1027.6 381.6,1027.3 382.6,1027.9 383.6,1027.6 384.6,1027.6 385.6,1027.3 386.6,1027.1 387.6,1026.3 388.6,1026.9 389.6,1027.6 390.6,1027.9 391.6,1028.0 392.6,1027.4 393.6,1027.9 394.6,1028.0 395.6,1027.8 396.6,1027.6 397.6,1027.7 398.6,1027.8 399.6,1027.5 400.6,1027.4 401.6,1027.9 402.6,1027.9 403.6,1027.6 403.6,1033.0 402.6,1034.0 401.6,1033.7 400.6,1033.8 399.6,1033.2 398.6,1033.7 397.6,1033.9 396.6,1033.0 395.6,1033.8 394.6,1033.4 393.6,1033.9 392.6,1033.1 391.6,1033.7 390.6,1033.2 389.6,1033.2 388.6,1032.1 387.6,1031.9 386.6,1032.7 385.6,1033.1 384.6,1033.1 383.6,1033.3 382.6,1033.2 381.6,1033.0 380.6,1033.5 379.6,1033.2 378.6,1033.4 377.5,1033.2 376.5,1033.2 375.5,1034.2 374.5,1033.4 373.5,1034.3 372.5,1033.0 371.5,1033.1 370.5,1033.3 369.5,1033.4 368.5,1033.1 367.5,1032.9 366.5,1034.2 365.5,1033.6 364.5,1033.3 363.5,1033.2 362.5,1033.1 361.5,1033.2 360.5,1033.1 359.5,1033.1 358.5,1032.9 357.5,1033.4 356.5,1033.3 355.5,1033.5 354.5,1033.1 353.5,1033.6 352.5,1033.3 351.5,1033.0 350.5,1033.3 349.5,1032.9 348.5,1032.8 347.5,1033.3 346.5,1033.6 345.5,1033.4 344.5,1033.5 343.5,1033.3 342.5,1033.6 341.5,1032.8 340.5,1032.9 339.5,1033.1 338.5,1033.4 337.5,1033.3 336.5,1033.1 335.5,1033.4 334.5,1033.0 333.5,1033.3 332.5,1032.9 331.5,1032.7 330.5,1033.7 329.5,1033.0 328.4,1033.1 327.4,1033.4 326.4,1033.4 325.4,1033.2 324.4,1032.7 323.4,1032.8 322.4,1033.3 321.4,1033.2 320.4,1033.6 319.4,1033.6 318.4,1033.0 317.4,1033.3 316.4,1032.7 315.4,1032.7 314.4,1032.8 313.4,1032.9 312.4,1033.2 311.4,1033.1 310.4,1032.8 309.4,1033.1 308.4,1032.9 307.4,1032.7 306.4,1034.5 305.4,1033.2 304.4,1032.8 303.4,1032.7 302.4,1033.0 301.4,1033.2 300.4,1032.9 299.4,1033.5 298.4,1033.0 297.4,1032.6 296.4,1032.8 295.4,1032.6 294.4,1032.6 293.4,1033.1 292.4,1033.2 291.4,1032.8 290.4,1032.6 289.4,1032.9 288.4,1032.5 287.4,1032.7 286.4,1032.8 285.4,1032.5 284.4,1032.6 283.4,1032.8 282.4,1033.3 281.4,1033.1 280.4,1032.8 279.4,1032.8 278.4,1032.6 277.3,1033.5 276.3,1032.7 275.3,1032.8 274.3,1032.6 273.3,1032.8 272.3,1032.9 271.3,1032.9 270.3,1032.6 269.3,1032.9 268.3,1032.6 267.3,1033.2 266.3,1032.5 265.3,1033.2 264.3,1032.8 263.3,1032.6 262.3,1033.1 261.3,1033.2 260.3,1032.6 259.3,1032.7 258.3,1033.0 257.3,1033.2 256.3,1032.8 255.3,1033.8 254.3,1033.0 253.3,1032.6 252.3,1032.5 251.3,1033.1 250.3,1032.6 249.3,1032.6 248.3,1032.9 247.3,1033.0 246.3,1032.8 245.3,1033.1 244.3,1032.9 243.3,1032.9 242.3,1032.7 241.3,1033.0 240.3,1033.2 239.3,1033.2 238.3,1032.6 237.3,1032.8 236.3,1032.6 235.3,1032.8 234.3,1032.8 233.3,1032.9 232.3,1033.5 231.3,1032.8 230.3,1033.1 229.3,1033.3 228.2,1032.8 227.2,1032.6 226.2,1032.8 225.2,1032.7 224.2,1032.6 223.2,1032.6 222.2,1032.9 221.2,1032.9 220.2,1032.6 219.2,1032.7 218.2,1032.7 217.2,1032.9 216.2,1033.3 215.2,1033.2 214.2,1032.6 213.2,1032.8 212.2,1032.5 211.2,1033.1 210.2,1032.9 209.2,1033.6 208.2,1032.8 207.2,1033.2 206.2,1032.7 205.2,1033.0 204.2,1032.5 203.2,1033.2 202.2,1032.6 201.2,1033.7 200.2,1032.8 199.2,1033.5 198.2,1033.0 197.2,1032.7 196.2,1032.5 195.2,1033.2 194.2,1032.7 193.2,1032.6 192.2,1032.7 191.2,1032.8 190.2,1032.6 189.2,1033.1 188.2,1033.2 187.2,1032.7 186.2,1033.1 185.2,1033.6 184.2,1032.7 183.2,1032.6 182.2,1032.5 181.2,1032.5 180.2,1033.0 179.2,1033.1 178.2,1032.5 177.1,1032.4 176.1,1032.7 175.1,1032.8 174.1,1032.5 173.1,1033.1 172.1,1032.7 171.1,1032.5 170.1,1032.9 169.1,1032.7 168.1,1032.4 167.1,1032.5 166.1,1033.0 165.1,1032.5 164.1,1032.8 163.1,1032.4 162.1,1033.4 161.1,1032.6 160.1,1032.7 159.1,1033.4 158.1,1032.4 157.1,1032.7 156.1,1032.9 155.1,1032.4 154.1,1032.6 153.1,1032.4 152.1,1033.3 151.1,1032.6 150.1,1032.6 149.1,1032.3 148.1,1033.0 147.1,1032.5 146.1,1033.4 145.1,1032.6 144.1,1032.3 143.1,1032.8 142.1,1032.1 141.1,1032.2 140.1,1032.4 139.1,1032.9 138.1,1032.8 137.1,1032.7 136.1,1032.1 135.1,1032.3 134.1,1032.4 133.1,1032.2 132.1,1032.5 131.1,1032.2 130.1,1032.1 129.1,1032.5 128.1,1032.8 127.0,1032.6 126.0,1032.1 125.0,1032.4 124.0,1032.2 123.0,1032.7 122.0,1032.3 121.0,1032.9 120.0,1032.7 119.0,1032.5 118.0,1032.4 117.0,1032.2 116.0,1031.8 115.0,1031.9 114.0,1032.4 113.0,1031.9 112.0,1031.8 111.0,1032.0 110.0,1030.8 109.0,1031.0 108.0,1031.3 107.0,1032.4 106.0,1032.5 105.0,1032.8 104.0,1033.7 103.0,1033.3" fill="#0000ff"/>
<polygon points="496,1033.0 590,1033.0 593,1031.0 650,1030.0 720,1030.0 780,1030.5 796.6,1032.0 796.6,1012.5 780,1011 720,1010.5 650,1010.5 593,1011.5 590,1013.5 496,1013.5" fill="url(#up)"/>
<polygon points="496,1103.5 590,1103.5 593,1105.5 650,1106 720,1105.5 796.6,1104.5 796.6,1085.0 720,1086.0 650,1086.5 593,1086.0 590,1084.0 496,1084.0" fill="url(#dn)"/>
<polygon points="496.0,1031.5 590.0,1031.5 593.0,1029.5 650.0,1028.5 720.0,1028.5 780.0,1029.0 796.6,1030.5 796.6,1086.5 720.0,1087.5 650.0,1088.0 593.0,1087.5 590.0,1085.5 496.0,1085.5" fill="#ffa500"/>
<path d="M727.6 1027.0l1.5 1.5l-1.5 1.5l-1.5 -1.5zM510.6 1029.5l1.5 1.5l-1.5 1.5l-1.5 -1.5zM583.6 1018.5l1.5 1.5l-1.5 1.5l-1.5 -1.5zM568.9 1014.2l1.5 1.5l-1.5 1.5l-1.5 -1.5zM712.9 1019.9l1.5 1.5l-1.5 1.5l-1.5 -1.5zM789.1 1024.2l1.5 1.5l-1.5 1.5l-1.5 -1.5zM777.9 1026.9l1.5 1.5l-1.5 1.5l-1.5 -1.5zM576.9 1020.2l1.5 1.5l-1.5 1.5l-1.5 -1.5zM691.0 1019.1l1.5 1.5l-1.5 1.5l-1.5 -1.5zM550.4 1025.6l1.5 1.5l-1.5 1.5l-1.5 -1.5zM591.3 1028.7l1.5 1.5l-1.5 1.5l-1.5 -1.5zM726.7 1024.9l1.5 1.5l-1.5 1.5l-1.5 -1.5zM530.5 1025.2l1.5 1.5l-1.5 1.5l-1.5 -1.5zM638.1 1026.3l1.5 1.5l-1.5 1.5l-1.5 -1.5zM698.6 1018.1l1.5 1.5l-1.5 1.5l-1.5 -1.5zM776.0 1021.8l1.5 1.5l-1.5 1.5l-1.5 -1.5zM691.2 1022.6l1.5 1.5l-1.5 1.5l-1.5 -1.5zM564.0 1021.9l1.5 1.5l-1.5 1.5l-1.5 -1.5zM745.2 1025.7l1.5 1.5l-1.5 1.5l-1.5 -1.5zM663.3 1025.0l1.5 1.5l-1.5 1.5l-1.5 -1.5zM786.0 1025.0l1.5 1.5l-1.5 1.5l-1.5 -1.5zM782.8 1014.4l1.5 1.5l-1.5 1.5l-1.5 -1.5zM691.9 1026.8l1.5 1.5l-1.5 1.5l-1.5 -1.5zM498.2 1026.4l1.5 1.5l-1.5 1.5l-1.5 -1.5zM649.5 1017.8l1.5 1.5l-1.5 1.5l-1.5 -1.5zM691.7 1023.7l1.5 1.5l-1.5 1.5l-1.5 -1.5zM526.3 1017.8l1.5 1.5l-1.5 1.5l-1.5 -1.5zM534.1 1029.3l1.5 1.5l-1.5 1.5l-1.5 -1.5zM584.5 1028.5l1.5 1.5l-1.5 1.5l-1.5 -1.5zM793.7 1028.0l1.5 1.5l-1.5 1.5l-1.5 -1.5zM721.8 1021.8l1.5 1.5l-1.5 1.5l-1.5 -1.5zM720.9 1025.7l1.5 1.5l-1.5 1.5l-1.5 -1.5zM789.3 1026.8l1.5 1.5l-1.5 1.5l-1.5 -1.5zM784.5 1027.8l1.5 1.5l-1.5 1.5l-1.5 -1.5zM679.6 1022.2l1.5 1.5l-1.5 1.5l-1.5 -1.5zM654.0 1024.4l1.5 1.5l-1.5 1.5l-1.5 -1.5zM609.2 1026.7l1.5 1.5l-1.5 1.5l-1.5 -1.5zM541.3 1020.6l1.5 1.5l-1.5 1.5l-1.5 -1.5zM524.0 1022.6l1.5 1.5l-1.5 1.5l-1.5 -1.5zM612.8 1018.1l1.5 1.5l-1.5 1.5l-1.5 -1.5zM598.4 1016.3l1.5 1.5l-1.5 1.5l-1.5 -1.5zM622.4 1027.1l1.5 1.5l-1.5 1.5l-1.5 -1.5zM595.1 1027.4l1.5 1.5l-1.5 1.5l-1.5 -1.5zM746.0 1014.6l1.5 1.5l-1.5 1.5l-1.5 -1.5zM785.6 1010.2l1.5 1.5l-1.5 1.5l-1.5 -1.5zM518.3 1026.0l1.5 1.5l-1.5 1.5l-1.5 -1.5zM517.5 1022.4l1.5 1.5l-1.5 1.5l-1.5 -1.5zM498.5 1029.1l1.5 1.5l-1.5 1.5l-1.5 -1.5zM639.4 1026.4l1.5 1.5l-1.5 1.5l-1.5 -1.5zM506.2 1019.8l1.5 1.5l-1.5 1.5l-1.5 -1.5zM724.3 1026.9l1.5 1.5l-1.5 1.5l-1.5 -1.5zM643.6 1019.6l1.5 1.5l-1.5 1.5l-1.5 -1.5zM703.2 1018.2l1.5 1.5l-1.5 1.5l-1.5 -1.5zM752.1 1021.2l1.5 1.5l-1.5 1.5l-1.5 -1.5zM650.7 1025.4l1.5 1.5l-1.5 1.5l-1.5 -1.5zM503.8 1028.4l1.5 1.5l-1.5 1.5l-1.5 -1.5zM601.3 1027.7l1.5 1.5l-1.5 1.5l-1.5 -1.5zM779.8 1023.9l1.5 1.5l-1.5 1.5l-1.5 -1.5zM539.7 1028.9l1.5 1.5l-1.5 1.5l-1.5 -1.5zM591.5 1027.1l1.5 1.5l-1.5 1.5l-1.5 -1.5zM527.4 1024.1l1.5 1.5l-1.5 1.5l-1.5 -1.5zM576.0 1022.9l1.5 1.5l-1.5 1.5l-1.5 -1.5zM538.7 1014.0l1.5 1.5l-1.5 1.5l-1.5 -1.5zM710.9 1023.9l1.5 1.5l-1.5 1.5l-1.5 -1.5zM636.7 1021.3l1.5 1.5l-1.5 1.5l-1.5 -1.5zM783.5 1018.3l1.5 1.5l-1.5 1.5l-1.5 -1.5zM653.8 1024.9l1.5 1.5l-1.5 1.5l-1.5 -1.5zM701.5 1024.6l1.5 1.5l-1.5 1.5l-1.5 -1.5zM625.8 1026.5l1.5 1.5l-1.5 1.5l-1.5 -1.5zM661.3 1025.5l1.5 1.5l-1.5 1.5l-1.5 -1.5zM606.9 1027.3l1.5 1.5l-1.5 1.5l-1.5 -1.5zM541.6 1028.8l1.5 1.5l-1.5 1.5l-1.5 -1.5zM505.7 1022.6l1.5 1.5l-1.5 1.5l-1.5 -1.5zM526.4 1029.5l1.5 1.5l-1.5 1.5l-1.5 -1.5zM795.1 1023.9l1.5 1.5l-1.5 1.5l-1.5 -1.5zM721.5 1021.9l1.5 1.5l-1.5 1.5l-1.5 -1.5zM784.7 1023.9l1.5 1.5l-1.5 1.5l-1.5 -1.5zM679.0 1025.9l1.5 1.5l-1.5 1.5l-1.5 -1.5zM736.5 1026.3l1.5 1.5l-1.5 1.5l-1.5 -1.5zM597.8 1012.6l1.5 1.5l-1.5 1.5l-1.5 -1.5zM593.2 1026.3l1.5 1.5l-1.5 1.5l-1.5 -1.5zM622.2 1026.0l1.5 1.5l-1.5 1.5l-1.5 -1.5zM641.1 1026.9l1.5 1.5l-1.5 1.5l-1.5 -1.5zM514.0 1025.2l1.5 1.5l-1.5 1.5l-1.5 -1.5zM575.7 1029.9l1.5 1.5l-1.5 1.5l-1.5 -1.5zM620.2 1023.5l1.5 1.5l-1.5 1.5l-1.5 -1.5zM781.1 1024.7l1.5 1.5l-1.5 1.5l-1.5 -1.5zM712.2 1019.0l1.5 1.5l-1.5 1.5l-1.5 -1.5zM640.2 1016.5l1.5 1.5l-1.5 1.5l-1.5 -1.5zM753.0 1026.1l1.5 1.5l-1.5 1.5l-1.5 -1.5zM671.2 1016.8l1.5 1.5l-1.5 1.5l-1.5 -1.5zM637.4 1024.3l1.5 1.5l-1.5 1.5l-1.5 -1.5zM625.5 1023.8l1.5 1.5l-1.5 1.5l-1.5 -1.5zM558.2 1028.6l1.5 1.5l-1.5 1.5l-1.5 -1.5zM551.7 1027.5l1.5 1.5l-1.5 1.5l-1.5 -1.5zM564.8 1021.4l1.5 1.5l-1.5 1.5l-1.5 -1.5zM585.2 1023.3l1.5 1.5l-1.5 1.5l-1.5 -1.5zM778.5 1013.6l1.5 1.5l-1.5 1.5l-1.5 -1.5zM709.8 1011.7l1.5 1.5l-1.5 1.5l-1.5 -1.5zM675.3 1023.9l1.5 1.5l-1.5 1.5l-1.5 -1.5zM760.9 1020.3l1.5 1.5l-1.5 1.5l-1.5 -1.5zM666.6 1023.9l1.5 1.5l-1.5 1.5l-1.5 -1.5zM671.1 1013.6l1.5 1.5l-1.5 1.5l-1.5 -1.5zM643.5 1009.4l1.5 1.5l-1.5 1.5l-1.5 -1.5zM742.0 1025.8l1.5 1.5l-1.5 1.5l-1.5 -1.5zM728.6 1026.4l1.5 1.5l-1.5 1.5l-1.5 -1.5zM769.0 1026.3l1.5 1.5l-1.5 1.5l-1.5 -1.5zM782.7 1024.6l1.5 1.5l-1.5 1.5l-1.5 -1.5zM571.4 1028.8l1.5 1.5l-1.5 1.5l-1.5 -1.5zM726.1 1026.5l1.5 1.5l-1.5 1.5l-1.5 -1.5zM528.1 1015.8l1.5 1.5l-1.5 1.5l-1.5 -1.5zM686.1 1021.5l1.5 1.5l-1.5 1.5l-1.5 -1.5zM732.3 1021.9l1.5 1.5l-1.5 1.5l-1.5 -1.5zM604.9 1024.0l1.5 1.5l-1.5 1.5l-1.5 -1.5zM762.3 1027.2l1.5 1.5l-1.5 1.5l-1.5 -1.5zM602.3 1019.6l1.5 1.5l-1.5 1.5l-1.5 -1.5zM532.7 1025.8l1.5 1.5l-1.5 1.5l-1.5 -1.5zM538.1 1028.2l1.5 1.5l-1.5 1.5l-1.5 -1.5zM720.4 1020.1l1.5 1.5l-1.5 1.5l-1.5 -1.5zM582.4 1027.0l1.5 1.5l-1.5 1.5l-1.5 -1.5zM556.0 1029.6l1.5 1.5l-1.5 1.5l-1.5 -1.5zM775.9 1012.3l1.5 1.5l-1.5 1.5l-1.5 -1.5zM788.5 1026.7l1.5 1.5l-1.5 1.5l-1.5 -1.5zM529.7 1020.3l1.5 1.5l-1.5 1.5l-1.5 -1.5zM674.9 1017.9l1.5 1.5l-1.5 1.5l-1.5 -1.5zM622.1 1017.1l1.5 1.5l-1.5 1.5l-1.5 -1.5zM724.5 1024.9l1.5 1.5l-1.5 1.5l-1.5 -1.5zM562.7 1022.7l1.5 1.5l-1.5 1.5l-1.5 -1.5zM714.5 1012.5l1.5 1.5l-1.5 1.5l-1.5 -1.5zM604.2 1026.1l1.5 1.5l-1.5 1.5l-1.5 -1.5zM590.9 1028.1l1.5 1.5l-1.5 1.5l-1.5 -1.5zM554.4 1028.8l1.5 1.5l-1.5 1.5l-1.5 -1.5zM763.6 1012.8l1.5 1.5l-1.5 1.5l-1.5 -1.5zM707.4 1026.9l1.5 1.5l-1.5 1.5l-1.5 -1.5zM780.5 1013.4l1.5 1.5l-1.5 1.5l-1.5 -1.5zM559.4 1027.1l1.5 1.5l-1.5 1.5l-1.5 -1.5zM588.3 1025.3l1.5 1.5l-1.5 1.5l-1.5 -1.5zM639.9 1020.4l1.5 1.5l-1.5 1.5l-1.5 -1.5zM687.9 1014.1l1.5 1.5l-1.5 1.5l-1.5 -1.5zM593.6 1022.1l1.5 1.5l-1.5 1.5l-1.5 -1.5zM605.3 1021.3l1.5 1.5l-1.5 1.5l-1.5 -1.5zM641.1 1018.8l1.5 1.5l-1.5 1.5l-1.5 -1.5zM690.4 1021.6l1.5 1.5l-1.5 1.5l-1.5 -1.5zM573.4 1027.9l1.5 1.5l-1.5 1.5l-1.5 -1.5zM787.6 1027.7l1.5 1.5l-1.5 1.5l-1.5 -1.5zM796.5 1027.4l1.5 1.5l-1.5 1.5l-1.5 -1.5zM502.9 1029.3l1.5 1.5l-1.5 1.5l-1.5 -1.5zM736.2 1025.4l1.5 1.5l-1.5 1.5l-1.5 -1.5zM700.7 1026.4l1.5 1.5l-1.5 1.5l-1.5 -1.5zM786.0 1015.0l1.5 1.5l-1.5 1.5l-1.5 -1.5zM645.3 1018.0l1.5 1.5l-1.5 1.5l-1.5 -1.5zM791.5 1027.2l1.5 1.5l-1.5 1.5l-1.5 -1.5zM625.1 1026.8l1.5 1.5l-1.5 1.5l-1.5 -1.5zM538.5 1027.4l1.5 1.5l-1.5 1.5l-1.5 -1.5zM645.7 1018.4l1.5 1.5l-1.5 1.5l-1.5 -1.5zM736.8 1020.7l1.5 1.5l-1.5 1.5l-1.5 -1.5zM559.5 1028.6l1.5 1.5l-1.5 1.5l-1.5 -1.5zM560.3 1028.1l1.5 1.5l-1.5 1.5l-1.5 -1.5zM665.3 1021.8l1.5 1.5l-1.5 1.5l-1.5 -1.5zM604.9 1013.5l1.5 1.5l-1.5 1.5l-1.5 -1.5zM609.2 1025.8l1.5 1.5l-1.5 1.5l-1.5 -1.5zM594.0 1022.7l1.5 1.5l-1.5 1.5l-1.5 -1.5zM718.5 1016.4l1.5 1.5l-1.5 1.5l-1.5 -1.5zM670.9 1026.7l1.5 1.5l-1.5 1.5l-1.5 -1.5zM775.3 1016.7l1.5 1.5l-1.5 1.5l-1.5 -1.5zM517.4 1029.2l1.5 1.5l-1.5 1.5l-1.5 -1.5zM695.4 1024.5l1.5 1.5l-1.5 1.5l-1.5 -1.5zM745.7 1018.0l1.5 1.5l-1.5 1.5l-1.5 -1.5zM554.5 1024.3l1.5 1.5l-1.5 1.5l-1.5 -1.5zM780.3 1026.6l1.5 1.5l-1.5 1.5l-1.5 -1.5zM571.2 1022.4l1.5 1.5l-1.5 1.5l-1.5 -1.5zM680.2 1024.3l1.5 1.5l-1.5 1.5l-1.5 -1.5zM735.7 1026.5l1.5 1.5l-1.5 1.5l-1.5 -1.5zM744.9 1018.2l1.5 1.5l-1.5 1.5l-1.5 -1.5zM767.8 1025.3l1.5 1.5l-1.5 1.5l-1.5 -1.5zM650.1 1023.7l1.5 1.5l-1.5 1.5l-1.5 -1.5zM667.7 1024.4l1.5 1.5l-1.5 1.5l-1.5 -1.5zM794.0 1016.7l1.5 1.5l-1.5 1.5l-1.5 -1.5zM508.2 1021.5l1.5 1.5l-1.5 1.5l-1.5 -1.5zM712.2 1024.2l1.5 1.5l-1.5 1.5l-1.5 -1.5zM521.7 1021.3l1.5 1.5l-1.5 1.5l-1.5 -1.5zM648.9 1025.1l1.5 1.5l-1.5 1.5l-1.5 -1.5zM534.6 1020.3l1.5 1.5l-1.5 1.5l-1.5 -1.5zM561.6 1028.3l1.5 1.5l-1.5 1.5l-1.5 -1.5zM775.5 1021.8l1.5 1.5l-1.5 1.5l-1.5 -1.5zM754.0 1027.2l1.5 1.5l-1.5 1.5l-1.5 -1.5zM544.8 1023.3l1.5 1.5l-1.5 1.5l-1.5 -1.5zM681.2 1027.0l1.5 1.5l-1.5 1.5l-1.5 -1.5zM792.9 1026.7l1.5 1.5l-1.5 1.5l-1.5 -1.5zM676.0 1020.5l1.5 1.5l-1.5 1.5l-1.5 -1.5zM795.9 1028.9l1.5 1.5l-1.5 1.5l-1.5 -1.5zM614.8 1026.4l1.5 1.5l-1.5 1.5l-1.5 -1.5zM662.5 1021.7l1.5 1.5l-1.5 1.5l-1.5 -1.5zM686.0 1020.8l1.5 1.5l-1.5 1.5l-1.5 -1.5zM612.1 1026.8l1.5 1.5l-1.5 1.5l-1.5 -1.5zM531.4 1029.1l1.5 1.5l-1.5 1.5l-1.5 -1.5zM792.2 1021.8l1.5 1.5l-1.5 1.5l-1.5 -1.5zM598.7 1010.9l1.5 1.5l-1.5 1.5l-1.5 -1.5zM518.7 1025.2l1.5 1.5l-1.5 1.5l-1.5 -1.5zM719.3 1024.3l1.5 1.5l-1.5 1.5l-1.5 -1.5zM758.9 1021.0l1.5 1.5l-1.5 1.5l-1.5 -1.5zM722.7 1026.2l1.5 1.5l-1.5 1.5l-1.5 -1.5zM659.3 1024.4l1.5 1.5l-1.5 1.5l-1.5 -1.5zM788.3 1015.3l1.5 1.5l-1.5 1.5l-1.5 -1.5zM755.4 1024.7l1.5 1.5l-1.5 1.5l-1.5 -1.5zM662.8 1022.5l1.5 1.5l-1.5 1.5l-1.5 -1.5zM720.2 1017.5l1.5 1.5l-1.5 1.5l-1.5 -1.5zM715.1 1026.8l1.5 1.5l-1.5 1.5l-1.5 -1.5zM568.7 1016.7l1.5 1.5l-1.5 1.5l-1.5 -1.5zM720.8 1024.6l1.5 1.5l-1.5 1.5l-1.5 -1.5zM524.7 1018.6l1.5 1.5l-1.5 1.5l-1.5 -1.5zM706.0 1023.6l1.5 1.5l-1.5 1.5l-1.5 -1.5zM669.7 1024.7l1.5 1.5l-1.5 1.5l-1.5 -1.5zM636.4 1026.0l1.5 1.5l-1.5 1.5l-1.5 -1.5zM500.1 1019.7l1.5 1.5l-1.5 1.5l-1.5 -1.5zM770.3 1027.2l1.5 1.5l-1.5 1.5l-1.5 -1.5zM705.3 1026.9l1.5 1.5l-1.5 1.5l-1.5 -1.5zM546.8 1029.5l1.5 1.5l-1.5 1.5l-1.5 -1.5zM748.5 1026.3l1.5 1.5l-1.5 1.5l-1.5 -1.5zM503.9 1018.9l1.5 1.5l-1.5 1.5l-1.5 -1.5zM736.4 1026.8l1.5 1.5l-1.5 1.5l-1.5 -1.5zM569.6 1026.8l1.5 1.5l-1.5 1.5l-1.5 -1.5zM634.0 1026.6l1.5 1.5l-1.5 1.5l-1.5 -1.5zM586.1 1022.0l1.5 1.5l-1.5 1.5l-1.5 -1.5zM763.6 1021.6l1.5 1.5l-1.5 1.5l-1.5 -1.5zM576.0 1015.7l1.5 1.5l-1.5 1.5l-1.5 -1.5zM616.0 1026.8l1.5 1.5l-1.5 1.5l-1.5 -1.5zM724.0 1021.6l1.5 1.5l-1.5 1.5l-1.5 -1.5zM507.5 1027.5l1.5 1.5l-1.5 1.5l-1.5 -1.5zM575.2 1020.2l1.5 1.5l-1.5 1.5l-1.5 -1.5zM565.0 1028.1l1.5 1.5l-1.5 1.5l-1.5 -1.5zM614.9 1026.8l1.5 1.5l-1.5 1.5l-1.5 -1.5zM766.7 1025.3l1.5 1.5l-1.5 1.5l-1.5 -1.5zM528.6 1029.1l1.5 1.5l-1.5 1.5l-1.5 -1.5zM658.9 1019.2l1.5 1.5l-1.5 1.5l-1.5 -1.5zM606.6 1026.1l1.5 1.5l-1.5 1.5l-1.5 -1.5zM631.4 1019.1l1.5 1.5l-1.5 1.5l-1.5 -1.5zM621.2 1024.7l1.5 1.5l-1.5 1.5l-1.5 -1.5zM727.8 1019.2l1.5 1.5l-1.5 1.5l-1.5 -1.5zM694.9 1024.7l1.5 1.5l-1.5 1.5l-1.5 -1.5zM622.1 1010.9l1.5 1.5l-1.5 1.5l-1.5 -1.5zM773.6 1011.9l1.5 1.5l-1.5 1.5l-1.5 -1.5zM608.0 1019.3l1.5 1.5l-1.5 1.5l-1.5 -1.5zM692.2 1016.5l1.5 1.5l-1.5 1.5l-1.5 -1.5zM746.2 1019.7l1.5 1.5l-1.5 1.5l-1.5 -1.5zM776.2 1026.7l1.5 1.5l-1.5 1.5l-1.5 -1.5zM498.4 1029.6l1.5 1.5l-1.5 1.5l-1.5 -1.5zM593.7 1026.1l1.5 1.5l-1.5 1.5l-1.5 -1.5zM578.5 1026.9l1.5 1.5l-1.5 1.5l-1.5 -1.5zM704.9 1021.1l1.5 1.5l-1.5 1.5l-1.5 -1.5zM603.7 1024.7l1.5 1.5l-1.5 1.5l-1.5 -1.5zM645.8 1013.8l1.5 1.5l-1.5 1.5l-1.5 -1.5zM499.8 1023.2l1.5 1.5l-1.5 1.5l-1.5 -1.5zM568.3 1026.8l1.5 1.5l-1.5 1.5l-1.5 -1.5zM565.4 1024.4l1.5 1.5l-1.5 1.5l-1.5 -1.5zM717.1 1024.8l1.5 1.5l-1.5 1.5l-1.5 -1.5zM615.7 1027.4l1.5 1.5l-1.5 1.5l-1.5 -1.5zM691.0 1026.3l1.5 1.5l-1.5 1.5l-1.5 -1.5zM571.8 1028.0l1.5 1.5l-1.5 1.5l-1.5 -1.5zM744.0 1021.7l1.5 1.5l-1.5 1.5l-1.5 -1.5zM708.2 1026.6l1.5 1.5l-1.5 1.5l-1.5 -1.5zM620.1 1020.8l1.5 1.5l-1.5 1.5l-1.5 -1.5zM506.4 1028.7l1.5 1.5l-1.5 1.5l-1.5 -1.5zM566.8 1015.9l1.5 1.5l-1.5 1.5l-1.5 -1.5zM669.5 1024.4l1.5 1.5l-1.5 1.5l-1.5 -1.5zM592.5 1028.3l1.5 1.5l-1.5 1.5l-1.5 -1.5zM775.2 1027.0l1.5 1.5l-1.5 1.5l-1.5 -1.5zM518.4 1025.9l1.5 1.5l-1.5 1.5l-1.5 -1.5zM659.9 1025.9l1.5 1.5l-1.5 1.5l-1.5 -1.5zM588.7 1029.3l1.5 1.5l-1.5 1.5l-1.5 -1.5zM609.2 1024.2l1.5 1.5l-1.5 1.5l-1.5 -1.5zM532.4 1025.3l1.5 1.5l-1.5 1.5l-1.5 -1.5zM746.4 1018.1l1.5 1.5l-1.5 1.5l-1.5 -1.5zM620.7 1024.4l1.5 1.5l-1.5 1.5l-1.5 -1.5zM528.1 1026.9l1.5 1.5l-1.5 1.5l-1.5 -1.5zM679.1 1019.9l1.5 1.5l-1.5 1.5l-1.5 -1.5zM719.7 1022.8l1.5 1.5l-1.5 1.5l-1.5 -1.5zM599.7 1018.3l1.5 1.5l-1.5 1.5l-1.5 -1.5zM778.4 1024.0l1.5 1.5l-1.5 1.5l-1.5 -1.5zM574.6 1028.5l1.5 1.5l-1.5 1.5l-1.5 -1.5zM538.5 1021.0l1.5 1.5l-1.5 1.5l-1.5 -1.5zM504.5 1028.8l1.5 1.5l-1.5 1.5l-1.5 -1.5zM619.2 1026.0l1.5 1.5l-1.5 1.5l-1.5 -1.5zM643.7 1014.1l1.5 1.5l-1.5 1.5l-1.5 -1.5zM695.4 1023.3l1.5 1.5l-1.5 1.5l-1.5 -1.5zM787.4 1028.1l1.5 1.5l-1.5 1.5l-1.5 -1.5zM630.5 1022.0l1.5 1.5l-1.5 1.5l-1.5 -1.5zM685.1 1027.0l1.5 1.5l-1.5 1.5l-1.5 -1.5zM516.4 1029.6l1.5 1.5l-1.5 1.5l-1.5 -1.5zM783.1 1025.7l1.5 1.5l-1.5 1.5l-1.5 -1.5zM593.4 1027.2l1.5 1.5l-1.5 1.5l-1.5 -1.5zM520.2 1029.6l1.5 1.5l-1.5 1.5l-1.5 -1.5zM665.3 1025.0l1.5 1.5l-1.5 1.5l-1.5 -1.5zM691.2 1012.8l1.5 1.5l-1.5 1.5l-1.5 -1.5zM518.9 1027.0l1.5 1.5l-1.5 1.5l-1.5 -1.5zM582.6 1029.7l1.5 1.5l-1.5 1.5l-1.5 -1.5zM588.5 1012.4l1.5 1.5l-1.5 1.5l-1.5 -1.5zM499.0 1021.8l1.5 1.5l-1.5 1.5l-1.5 -1.5zM762.6 1023.7l1.5 1.5l-1.5 1.5l-1.5 -1.5zM676.3 1025.8l1.5 1.5l-1.5 1.5l-1.5 -1.5z" fill="none" stroke="#ffa500" stroke-width="0.8" stroke-opacity="0.3"/>
<path d="M614.7 1093.8l1.5 1.5l-1.5 1.5l-1.5 -1.5zM666.6 1086.7l1.5 1.5l-1.5 1.5l-1.5 -1.5zM730.3 1097.4l1.5 1.5l-1.5 1.5l-1.5 -1.5zM515.0 1091.5l1.5 1.5l-1.5 1.5l-1.5 -1.5zM696.0 1090.1l1.5 1.5l-1.5 1.5l-1.5 -1.5zM719.4 1086.7l1.5 1.5l-1.5 1.5l-1.5 -1.5zM790.9 1086.1l1.5 1.5l-1.5 1.5l-1.5 -1.5zM596.7 1087.5l1.5 1.5l-1.5 1.5l-1.5 -1.5zM637.5 1097.7l1.5 1.5l-1.5 1.5l-1.5 -1.5zM644.6 1090.7l1.5 1.5l-1.5 1.5l-1.5 -1.5zM667.1 1092.3l1.5 1.5l-1.5 1.5l-1.5 -1.5zM756.4 1088.5l1.5 1.5l-1.5 1.5l-1.5 -1.5zM587.7 1084.6l1.5 1.5l-1.5 1.5l-1.5 -1.5zM730.1 1096.8l1.5 1.5l-1.5 1.5l-1.5 -1.5zM519.3 1095.7l1.5 1.5l-1.5 1.5l-1.5 -1.5zM585.7 1084.9l1.5 1.5l-1.5 1.5l-1.5 -1.5zM585.4 1087.7l1.5 1.5l-1.5 1.5l-1.5 -1.5zM637.1 1101.0l1.5 1.5l-1.5 1.5l-1.5 -1.5zM709.0 1089.5l1.5 1.5l-1.5 1.5l-1.5 -1.5zM643.0 1087.1l1.5 1.5l-1.5 1.5l-1.5 -1.5zM496.7 1099.2l1.5 1.5l-1.5 1.5l-1.5 -1.5zM586.8 1085.2l1.5 1.5l-1.5 1.5l-1.5 -1.5zM601.7 1092.1l1.5 1.5l-1.5 1.5l-1.5 -1.5zM575.4 1094.8l1.5 1.5l-1.5 1.5l-1.5 -1.5zM617.2 1094.8l1.5 1.5l-1.5 1.5l-1.5 -1.5zM503.9 1095.1l1.5 1.5l-1.5 1.5l-1.5 -1.5zM675.6 1093.6l1.5 1.5l-1.5 1.5l-1.5 -1.5zM656.4 1090.0l1.5 1.5l-1.5 1.5l-1.5 -1.5zM645.1 1087.9l1.5 1.5l-1.5 1.5l-1.5 -1.5zM568.3 1094.3l1.5 1.5l-1.5 1.5l-1.5 -1.5zM787.7 1090.9l1.5 1.5l-1.5 1.5l-1.5 -1.5zM708.7 1101.4l1.5 1.5l-1.5 1.5l-1.5 -1.5zM784.7 1091.5l1.5 1.5l-1.5 1.5l-1.5 -1.5zM787.3 1087.1l1.5 1.5l-1.5 1.5l-1.5 -1.5zM687.1 1093.0l1.5 1.5l-1.5 1.5l-1.5 -1.5zM657.1 1093.4l1.5 1.5l-1.5 1.5l-1.5 -1.5zM650.5 1104.0l1.5 1.5l-1.5 1.5l-1.5 -1.5zM659.0 1099.6l1.5 1.5l-1.5 1.5l-1.5 -1.5zM600.1 1096.2l1.5 1.5l-1.5 1.5l-1.5 -1.5zM543.9 1087.9l1.5 1.5l-1.5 1.5l-1.5 -1.5zM615.2 1091.6l1.5 1.5l-1.5 1.5l-1.5 -1.5zM557.9 1091.2l1.5 1.5l-1.5 1.5l-1.5 -1.5zM711.4 1090.2l1.5 1.5l-1.5 1.5l-1.5 -1.5zM563.5 1092.6l1.5 1.5l-1.5 1.5l-1.5 -1.5zM742.9 1091.2l1.5 1.5l-1.5 1.5l-1.5 -1.5zM774.1 1085.8l1.5 1.5l-1.5 1.5l-1.5 -1.5zM523.4 1087.0l1.5 1.5l-1.5 1.5l-1.5 -1.5zM736.9 1088.0l1.5 1.5l-1.5 1.5l-1.5 -1.5zM679.9 1091.9l1.5 1.5l-1.5 1.5l-1.5 -1.5zM589.1 1088.4l1.5 1.5l-1.5 1.5l-1.5 -1.5zM649.1 1092.4l1.5 1.5l-1.5 1.5l-1.5 -1.5zM769.4 1089.3l1.5 1.5l-1.5 1.5l-1.5 -1.5zM567.9 1087.6l1.5 1.5l-1.5 1.5l-1.5 -1.5zM557.8 1088.2l1.5 1.5l-1.5 1.5l-1.5 -1.5zM564.4 1084.4l1.5 1.5l-1.5 1.5l-1.5 -1.5zM671.8 1086.6l1.5 1.5l-1.5 1.5l-1.5 -1.5zM663.2 1090.8l1.5 1.5l-1.5 1.5l-1.5 -1.5zM622.2 1087.0l1.5 1.5l-1.5 1.5l-1.5 -1.5zM738.3 1087.5l1.5 1.5l-1.5 1.5l-1.5 -1.5zM615.9 1089.4l1.5 1.5l-1.5 1.5l-1.5 -1.5zM621.7 1089.6l1.5 1.5l-1.5 1.5l-1.5 -1.5zM733.8 1086.6l1.5 1.5l-1.5 1.5l-1.5 -1.5zM603.8 1088.4l1.5 1.5l-1.5 1.5l-1.5 -1.5zM703.7 1099.9l1.5 1.5l-1.5 1.5l-1.5 -1.5zM622.5 1089.7l1.5 1.5l-1.5 1.5l-1.5 -1.5zM573.7 1087.9l1.5 1.5l-1.5 1.5l-1.5 -1.5zM551.2 1091.3l1.5 1.5l-1.5 1.5l-1.5 -1.5zM639.0 1098.7l1.5 1.5l-1.5 1.5l-1.5 -1.5zM662.8 1086.5l1.5 1.5l-1.5 1.5l-1.5 -1.5zM728.4 1089.8l1.5 1.5l-1.5 1.5l-1.5 -1.5zM713.7 1087.3l1.5 1.5l-1.5 1.5l-1.5 -1.5zM775.1 1089.3l1.5 1.5l-1.5 1.5l-1.5 -1.5zM680.8 1091.6l1.5 1.5l-1.5 1.5l-1.5 -1.5zM708.6 1091.5l1.5 1.5l-1.5 1.5l-1.5 -1.5zM501.1 1089.7l1.5 1.5l-1.5 1.5l-1.5 -1.5zM761.8 1103.3l1.5 1.5l-1.5 1.5l-1.5 -1.5zM694.0 1089.7l1.5 1.5l-1.5 1.5l-1.5 -1.5zM725.3 1095.1l1.5 1.5l-1.5 1.5l-1.5 -1.5zM496.7 1088.2l1.5 1.5l-1.5 1.5l-1.5 -1.5zM656.1 1090.1l1.5 1.5l-1.5 1.5l-1.5 -1.5zM600.2 1087.3l1.5 1.5l-1.5 1.5l-1.5 -1.5zM729.6 1088.1l1.5 1.5l-1.5 1.5l-1.5 -1.5zM513.4 1084.1l1.5 1.5l-1.5 1.5l-1.5 -1.5zM708.6 1086.2l1.5 1.5l-1.5 1.5l-1.5 -1.5zM719.3 1092.0l1.5 1.5l-1.5 1.5l-1.5 -1.5zM715.0 1097.4l1.5 1.5l-1.5 1.5l-1.5 -1.5zM672.0 1090.3l1.5 1.5l-1.5 1.5l-1.5 -1.5zM612.1 1088.4l1.5 1.5l-1.5 1.5l-1.5 -1.5zM584.2 1098.1l1.5 1.5l-1.5 1.5l-1.5 -1.5zM560.2 1098.7l1.5 1.5l-1.5 1.5l-1.5 -1.5zM630.4 1086.4l1.5 1.5l-1.5 1.5l-1.5 -1.5zM711.3 1093.5l1.5 1.5l-1.5 1.5l-1.5 -1.5zM794.4 1085.5l1.5 1.5l-1.5 1.5l-1.5 -1.5zM687.4 1100.0l1.5 1.5l-1.5 1.5l-1.5 -1.5zM786.7 1085.9l1.5 1.5l-1.5 1.5l-1.5 -1.5zM561.0 1090.8l1.5 1.5l-1.5 1.5l-1.5 -1.5zM533.1 1084.1l1.5 1.5l-1.5 1.5l-1.5 -1.5zM779.8 1093.7l1.5 1.5l-1.5 1.5l-1.5 -1.5zM711.2 1089.1l1.5 1.5l-1.5 1.5l-1.5 -1.5zM642.8 1088.3l1.5 1.5l-1.5 1.5l-1.5 -1.5zM630.4 1087.4l1.5 1.5l-1.5 1.5l-1.5 -1.5zM793.3 1093.1l1.5 1.5l-1.5 1.5l-1.5 -1.5zM612.6 1092.5l1.5 1.5l-1.5 1.5l-1.5 -1.5zM548.6 1084.2l1.5 1.5l-1.5 1.5l-1.5 -1.5zM682.7 1088.2l1.5 1.5l-1.5 1.5l-1.5 -1.5zM582.0 1087.1l1.5 1.5l-1.5 1.5l-1.5 -1.5zM795.2 1099.1l1.5 1.5l-1.5 1.5l-1.5 -1.5zM661.1 1097.7l1.5 1.5l-1.5 1.5l-1.5 -1.5zM587.7 1099.2l1.5 1.5l-1.5 1.5l-1.5 -1.5zM725.7 1088.0l1.5 1.5l-1.5 1.5l-1.5 -1.5zM726.6 1089.4l1.5 1.5l-1.5 1.5l-1.5 -1.5zM569.3 1086.8l1.5 1.5l-1.5 1.5l-1.5 -1.5zM613.4 1087.0l1.5 1.5l-1.5 1.5l-1.5 -1.5zM771.4 1090.9l1.5 1.5l-1.5 1.5l-1.5 -1.5zM695.2 1086.3l1.5 1.5l-1.5 1.5l-1.5 -1.5zM531.2 1089.7l1.5 1.5l-1.5 1.5l-1.5 -1.5zM683.1 1098.0l1.5 1.5l-1.5 1.5l-1.5 -1.5zM589.3 1085.5l1.5 1.5l-1.5 1.5l-1.5 -1.5zM603.1 1102.7l1.5 1.5l-1.5 1.5l-1.5 -1.5zM510.1 1091.1l1.5 1.5l-1.5 1.5l-1.5 -1.5zM664.5 1097.0l1.5 1.5l-1.5 1.5l-1.5 -1.5zM655.1 1093.7l1.5 1.5l-1.5 1.5l-1.5 -1.5zM627.9 1090.5l1.5 1.5l-1.5 1.5l-1.5 -1.5zM760.3 1088.1l1.5 1.5l-1.5 1.5l-1.5 -1.5zM600.5 1087.8l1.5 1.5l-1.5 1.5l-1.5 -1.5zM616.0 1098.9l1.5 1.5l-1.5 1.5l-1.5 -1.5zM528.5 1087.6l1.5 1.5l-1.5 1.5l-1.5 -1.5zM666.1 1087.3l1.5 1.5l-1.5 1.5l-1.5 -1.5zM606.0 1092.6l1.5 1.5l-1.5 1.5l-1.5 -1.5zM617.2 1102.6l1.5 1.5l-1.5 1.5l-1.5 -1.5zM744.8 1087.2l1.5 1.5l-1.5 1.5l-1.5 -1.5zM534.8 1085.1l1.5 1.5l-1.5 1.5l-1.5 -1.5zM748.1 1085.8l1.5 1.5l-1.5 1.5l-1.5 -1.5zM690.9 1100.2l1.5 1.5l-1.5 1.5l-1.5 -1.5zM682.2 1087.2l1.5 1.5l-1.5 1.5l-1.5 -1.5zM732.4 1097.0l1.5 1.5l-1.5 1.5l-1.5 -1.5zM625.5 1091.5l1.5 1.5l-1.5 1.5l-1.5 -1.5zM716.4 1086.5l1.5 1.5l-1.5 1.5l-1.5 -1.5zM563.7 1087.0l1.5 1.5l-1.5 1.5l-1.5 -1.5zM647.0 1090.6l1.5 1.5l-1.5 1.5l-1.5 -1.5zM789.8 1087.7l1.5 1.5l-1.5 1.5l-1.5 -1.5zM672.4 1091.3l1.5 1.5l-1.5 1.5l-1.5 -1.5zM572.6 1086.0l1.5 1.5l-1.5 1.5l-1.5 -1.5zM536.0 1091.1l1.5 1.5l-1.5 1.5l-1.5 -1.5zM699.8 1086.8l1.5 1.5l-1.5 1.5l-1.5 -1.5zM761.2 1090.1l1.5 1.5l-1.5 1.5l-1.5 -1.5zM699.5 1088.8l1.5 1.5l-1.5 1.5l-1.5 -1.5zM711.1 1094.5l1.5 1.5l-1.5 1.5l-1.5 -1.5zM540.5 1096.8l1.5 1.5l-1.5 1.5l-1.5 -1.5zM768.1 1095.5l1.5 1.5l-1.5 1.5l-1.5 -1.5zM689.6 1088.6l1.5 1.5l-1.5 1.5l-1.5 -1.5zM511.9 1084.5l1.5 1.5l-1.5 1.5l-1.5 -1.5zM751.2 1090.7l1.5 1.5l-1.5 1.5l-1.5 -1.5zM768.2 1085.7l1.5 1.5l-1.5 1.5l-1.5 -1.5zM518.3 1084.0l1.5 1.5l-1.5 1.5l-1.5 -1.5zM504.6 1087.0l1.5 1.5l-1.5 1.5l-1.5 -1.5zM742.2 1094.3l1.5 1.5l-1.5 1.5l-1.5 -1.5zM679.5 1093.7l1.5 1.5l-1.5 1.5l-1.5 -1.5zM760.8 1097.4l1.5 1.5l-1.5 1.5l-1.5 -1.5zM525.7 1090.2l1.5 1.5l-1.5 1.5l-1.5 -1.5zM589.6 1085.9l1.5 1.5l-1.5 1.5l-1.5 -1.5zM606.3 1086.9l1.5 1.5l-1.5 1.5l-1.5 -1.5zM723.4 1086.6l1.5 1.5l-1.5 1.5l-1.5 -1.5zM507.3 1085.4l1.5 1.5l-1.5 1.5l-1.5 -1.5zM662.3 1091.1l1.5 1.5l-1.5 1.5l-1.5 -1.5zM632.5 1092.6l1.5 1.5l-1.5 1.5l-1.5 -1.5zM588.7 1096.8l1.5 1.5l-1.5 1.5l-1.5 -1.5zM671.8 1099.0l1.5 1.5l-1.5 1.5l-1.5 -1.5zM670.5 1097.2l1.5 1.5l-1.5 1.5l-1.5 -1.5zM697.8 1091.8l1.5 1.5l-1.5 1.5l-1.5 -1.5zM499.2 1084.4l1.5 1.5l-1.5 1.5l-1.5 -1.5zM653.0 1086.8l1.5 1.5l-1.5 1.5l-1.5 -1.5zM731.4 1103.3l1.5 1.5l-1.5 1.5l-1.5 -1.5zM773.0 1085.5l1.5 1.5l-1.5 1.5l-1.5 -1.5zM553.5 1088.1l1.5 1.5l-1.5 1.5l-1.5 -1.5zM545.0 1084.8l1.5 1.5l-1.5 1.5l-1.5 -1.5zM650.8 1086.5l1.5 1.5l-1.5 1.5l-1.5 -1.5zM532.6 1089.2l1.5 1.5l-1.5 1.5l-1.5 -1.5zM590.7 1100.2l1.5 1.5l-1.5 1.5l-1.5 -1.5zM645.0 1091.9l1.5 1.5l-1.5 1.5l-1.5 -1.5zM549.6 1089.0l1.5 1.5l-1.5 1.5l-1.5 -1.5zM585.7 1091.2l1.5 1.5l-1.5 1.5l-1.5 -1.5zM563.2 1090.8l1.5 1.5l-1.5 1.5l-1.5 -1.5zM790.6 1099.9l1.5 1.5l-1.5 1.5l-1.5 -1.5zM500.9 1097.8l1.5 1.5l-1.5 1.5l-1.5 -1.5zM736.8 1095.7l1.5 1.5l-1.5 1.5l-1.5 -1.5zM525.8 1086.5l1.5 1.5l-1.5 1.5l-1.5 -1.5zM613.4 1087.1l1.5 1.5l-1.5 1.5l-1.5 -1.5zM754.5 1099.0l1.5 1.5l-1.5 1.5l-1.5 -1.5zM517.1 1092.8l1.5 1.5l-1.5 1.5l-1.5 -1.5zM510.2 1086.2l1.5 1.5l-1.5 1.5l-1.5 -1.5zM676.1 1092.2l1.5 1.5l-1.5 1.5l-1.5 -1.5zM601.1 1095.9l1.5 1.5l-1.5 1.5l-1.5 -1.5zM510.1 1088.1l1.5 1.5l-1.5 1.5l-1.5 -1.5zM651.9 1092.7l1.5 1.5l-1.5 1.5l-1.5 -1.5zM724.9 1088.2l1.5 1.5l-1.5 1.5l-1.5 -1.5zM530.8 1084.1l1.5 1.5l-1.5 1.5l-1.5 -1.5zM617.8 1087.1l1.5 1.5l-1.5 1.5l-1.5 -1.5zM573.9 1086.9l1.5 1.5l-1.5 1.5l-1.5 -1.5zM580.9 1091.1l1.5 1.5l-1.5 1.5l-1.5 -1.5zM769.0 1094.7l1.5 1.5l-1.5 1.5l-1.5 -1.5zM564.4 1085.9l1.5 1.5l-1.5 1.5l-1.5 -1.5zM759.7 1093.6l1.5 1.5l-1.5 1.5l-1.5 -1.5zM695.9 1095.1l1.5 1.5l-1.5 1.5l-1.5 -1.5zM526.5 1087.1l1.5 1.5l-1.5 1.5l-1.5 -1.5zM629.9 1094.0l1.5 1.5l-1.5 1.5l-1.5 -1.5zM690.3 1086.5l1.5 1.5l-1.5 1.5l-1.5 -1.5zM684.3 1101.7l1.5 1.5l-1.5 1.5l-1.5 -1.5zM646.3 1091.1l1.5 1.5l-1.5 1.5l-1.5 -1.5zM717.1 1095.1l1.5 1.5l-1.5 1.5l-1.5 -1.5zM747.7 1096.5l1.5 1.5l-1.5 1.5l-1.5 -1.5zM631.8 1090.6l1.5 1.5l-1.5 1.5l-1.5 -1.5zM572.8 1085.4l1.5 1.5l-1.5 1.5l-1.5 -1.5zM502.0 1100.0l1.5 1.5l-1.5 1.5l-1.5 -1.5zM795.4 1096.2l1.5 1.5l-1.5 1.5l-1.5 -1.5zM715.3 1089.4l1.5 1.5l-1.5 1.5l-1.5 -1.5zM630.6 1091.3l1.5 1.5l-1.5 1.5l-1.5 -1.5zM656.3 1092.1l1.5 1.5l-1.5 1.5l-1.5 -1.5zM573.0 1090.6l1.5 1.5l-1.5 1.5l-1.5 -1.5zM707.2 1098.9l1.5 1.5l-1.5 1.5l-1.5 -1.5zM776.5 1086.4l1.5 1.5l-1.5 1.5l-1.5 -1.5zM514.9 1086.4l1.5 1.5l-1.5 1.5l-1.5 -1.5zM751.5 1086.2l1.5 1.5l-1.5 1.5l-1.5 -1.5zM728.8 1091.8l1.5 1.5l-1.5 1.5l-1.5 -1.5zM638.7 1092.7l1.5 1.5l-1.5 1.5l-1.5 -1.5zM686.2 1089.7l1.5 1.5l-1.5 1.5l-1.5 -1.5zM704.8 1102.0l1.5 1.5l-1.5 1.5l-1.5 -1.5zM653.5 1086.9l1.5 1.5l-1.5 1.5l-1.5 -1.5zM638.2 1098.9l1.5 1.5l-1.5 1.5l-1.5 -1.5zM572.4 1098.1l1.5 1.5l-1.5 1.5l-1.5 -1.5zM761.4 1087.9l1.5 1.5l-1.5 1.5l-1.5 -1.5zM537.1 1084.4l1.5 1.5l-1.5 1.5l-1.5 -1.5zM512.9 1084.2l1.5 1.5l-1.5 1.5l-1.5 -1.5zM572.0 1093.3l1.5 1.5l-1.5 1.5l-1.5 -1.5zM706.0 1090.3l1.5 1.5l-1.5 1.5l-1.5 -1.5zM643.1 1093.5l1.5 1.5l-1.5 1.5l-1.5 -1.5zM749.7 1088.1l1.5 1.5l-1.5 1.5l-1.5 -1.5zM498.5 1091.9l1.5 1.5l-1.5 1.5l-1.5 -1.5zM794.0 1085.4l1.5 1.5l-1.5 1.5l-1.5 -1.5zM697.5 1091.1l1.5 1.5l-1.5 1.5l-1.5 -1.5zM628.6 1087.8l1.5 1.5l-1.5 1.5l-1.5 -1.5zM539.7 1085.6l1.5 1.5l-1.5 1.5l-1.5 -1.5zM744.5 1087.6l1.5 1.5l-1.5 1.5l-1.5 -1.5zM652.4 1101.6l1.5 1.5l-1.5 1.5l-1.5 -1.5zM680.9 1093.0l1.5 1.5l-1.5 1.5l-1.5 -1.5zM744.2 1102.4l1.5 1.5l-1.5 1.5l-1.5 -1.5zM580.7 1100.8l1.5 1.5l-1.5 1.5l-1.5 -1.5zM779.6 1088.4l1.5 1.5l-1.5 1.5l-1.5 -1.5zM658.1 1086.5l1.5 1.5l-1.5 1.5l-1.5 -1.5zM681.4 1095.5l1.5 1.5l-1.5 1.5l-1.5 -1.5zM789.6 1087.3l1.5 1.5l-1.5 1.5l-1.5 -1.5zM599.1 1090.0l1.5 1.5l-1.5 1.5l-1.5 -1.5zM709.0 1092.3l1.5 1.5l-1.5 1.5l-1.5 -1.5zM622.4 1089.4l1.5 1.5l-1.5 1.5l-1.5 -1.5zM704.2 1087.4l1.5 1.5l-1.5 1.5l-1.5 -1.5zM673.1 1088.5l1.5 1.5l-1.5 1.5l-1.5 -1.5zM502.8 1097.3l1.5 1.5l-1.5 1.5l-1.5 -1.5zM580.0 1094.7l1.5 1.5l-1.5 1.5l-1.5 -1.5zM563.3 1084.4l1.5 1.5l-1.5 1.5l-1.5 -1.5zM701.8 1087.6l1.5 1.5l-1.5 1.5l-1.5 -1.5zM604.2 1087.8l1.5 1.5l-1.5 1.5l-1.5 -1.5zM763.4 1090.2l1.5 1.5l-1.5 1.5l-1.5 -1.5zM711.1 1087.8l1.5 1.5l-1.5 1.5l-1.5 -1.5zM636.4 1090.2l1.5 1.5l-1.5 1.5l-1.5 -1.5zM729.5 1085.9l1.5 1.5l-1.5 1.5l-1.5 -1.5zM599.6 1102.3l1.5 1.5l-1.5 1.5l-1.5 -1.5zM651.0 1088.8l1.5 1.5l-1.5 1.5l-1.5 -1.5zM785.3 1099.4l1.5 1.5l-1.5 1.5l-1.5 -1.5zM785.4 1086.7l1.5 1.5l-1.5 1.5l-1.5 -1.5zM713.4 1099.9l1.5 1.5l-1.5 1.5l-1.5 -1.5zM546.4 1084.5l1.5 1.5l-1.5 1.5l-1.5 -1.5zM783.7 1095.4l1.5 1.5l-1.5 1.5l-1.5 -1.5zM765.5 1087.5l1.5 1.5l-1.5 1.5l-1.5 -1.5zM617.4 1087.1l1.5 1.5l-1.5 1.5l-1.5 -1.5zM543.1 1088.3l1.5 1.5l-1.5 1.5l-1.5 -1.5zM707.6 1086.5l1.5 1.5l-1.5 1.5l-1.5 -1.5zM668.0 1086.5l1.5 1.5l-1.5 1.5l-1.5 -1.5zM531.6 1088.9l1.5 1.5l-1.5 1.5l-1.5 -1.5zM784.5 1085.7l1.5 1.5l-1.5 1.5l-1.5 -1.5zM695.3 1089.0l1.5 1.5l-1.5 1.5l-1.5 -1.5zM642.9 1089.8l1.5 1.5l-1.5 1.5l-1.5 -1.5zM699.9 1094.7l1.5 1.5l-1.5 1.5l-1.5 -1.5zM745.3 1087.9l1.5 1.5l-1.5 1.5l-1.5 -1.5zM560.3 1084.6l1.5 1.5l-1.5 1.5l-1.5 -1.5zM549.3 1091.3l1.5 1.5l-1.5 1.5l-1.5 -1.5zM649.6 1097.8l1.5 1.5l-1.5 1.5l-1.5 -1.5zM649.0 1096.5l1.5 1.5l-1.5 1.5l-1.5 -1.5zM574.8 1088.1l1.5 1.5l-1.5 1.5l-1.5 -1.5zM537.6 1091.3l1.5 1.5l-1.5 1.5l-1.5 -1.5zM653.5 1097.6l1.5 1.5l-1.5 1.5l-1.5 -1.5zM521.0 1084.8l1.5 1.5l-1.5 1.5l-1.5 -1.5zM713.0 1094.4l1.5 1.5l-1.5 1.5l-1.5 -1.5zM526.5 1090.3l1.5 1.5l-1.5 1.5l-1.5 -1.5zM544.1 1085.8l1.5 1.5l-1.5 1.5l-1.5 -1.5zM792.1 1086.5l1.5 1.5l-1.5 1.5l-1.5 -1.5zM588.7 1086.2l1.5 1.5l-1.5 1.5l-1.5 -1.5zM560.8 1095.6l1.5 1.5l-1.5 1.5l-1.5 -1.5zM645.4 1086.7l1.5 1.5l-1.5 1.5l-1.5 -1.5zM713.8 1087.4l1.5 1.5l-1.5 1.5l-1.5 -1.5zM547.4 1085.5l1.5 1.5l-1.5 1.5l-1.5 -1.5z" fill="none" stroke="#ffa500" stroke-width="0.8" stroke-opacity="0.3"/>
</g>
<g font-family="&quot;Liberation Sans&quot;, sans-serif" fill="#000000">
<rect x="89.5" y="35.5" width="328.0" height="103.0" fill="none" stroke="#000" stroke-width="1.11"/>
<line x1="98.5" y1="138.5" x2="98.5" y2="143.40" stroke="#000" stroke-width="1.11"/>
<text x="98.60" y="158.80" font-size="14.1" text-anchor="middle" textLength="40.03" lengthAdjust="spacingAndGlyphs">22:00</text>
<line x1="131.5" y1="138.5" x2="131.5" y2="143.40" stroke="#000" stroke-width="1.11"/>
<text x="131.73" y="158.80" font-size="14.1" text-anchor="middle" textLength="40.03" lengthAdjust="spacingAndGlyphs">23:00</text>
<line x1="164.5" y1="138.5" x2="164.5" y2="143.40" stroke="#000" stroke-width="1.11"/>
<text x="164.86" y="158.80" font-size="14.1" text-anchor="middle" textLength="40.03" lengthAdjust="spacingAndGlyphs">00:00</text>
<line x1="197.5" y1="138.5" x2="197.5" y2="143.40" stroke="#000" stroke-width="1.11"/>
<text x="197.99" y="158.80" font-size="14.1" text-anchor="middle" textLength="40.03" lengthAdjust="spacingAndGlyphs">01:00</text>
<line x1="231.5" y1="138.5" x2="231.5" y2="143.40" stroke="#000" stroke-width="1.11"/>
<text x="231.12" y="158.80" font-size="14.1" text-anchor="middle" textLength="40.03" lengthAdjust="spacingAndGlyphs">02:00</text>
<line x1="264.5" y1="138.5" x2="264.5" y2="143.40" stroke="#000" stroke-width="1.11"/>
<text x="264.25" y="158.80" font-size="14.1" text-anchor="middle" textLength="40.03" lengthAdjust="spacingAndGlyphs">03:00</text>
<line x1="297.5" y1="138.5" x2="297.5" y2="143.40" stroke="#000" stroke-width="1.11"/>
<text x="297.38" y="158.80" font-size="14.1" text-anchor="middle" textLength="40.03" lengthAdjust="spacingAndGlyphs">04:00</text>
<line x1="330.5" y1="138.5" x2="330.5" y2="143.40" stroke="#000" stroke-width="1.11"/>
<text x="330.51" y="158.80" font-size="14.1" text-anchor="middle" textLength="40.03" lengthAdjust="spacingAndGlyphs">05:00</text>
<line x1="363.5" y1="138.5" x2="363.5" y2="143.40" stroke="#000" stroke-width="1.11"/>
<text x="363.64" y="158.80" font-size="14.1" text-anchor="middle" textLength="40.03" lengthAdjust="spacingAndGlyphs">06:00</text>
<line x1="396.5" y1="138.5" x2="396.5" y2="143.40" stroke="#000" stroke-width="1.11"/>
<text x="396.77" y="158.80" font-size="14.1" text-anchor="middle" textLength="40.03" lengthAdjust="spacingAndGlyphs">07:00</text>
<line x1="89.5" y1="59.5" x2="84.60" y2="59.5" stroke="#000" stroke-width="1.11"/>
<text x="78.10" y="64.40" font-size="14.1" text-anchor="end" textLength="17.67" lengthAdjust="spacingAndGlyphs">75</text>
<line x1="89.5" y1="89.5" x2="84.60" y2="89.5" stroke="#000" stroke-width="1.11"/>
<text x="78.10" y="94.40" font-size="14.1" text-anchor="end" textLength="17.67" lengthAdjust="spacingAndGlyphs">50</text>
<line x1="89.5" y1="120.5" x2="84.60" y2="120.5" stroke="#000" stroke-width="1.11"/>
<text x="78.10" y="125.40" font-size="14.1" text-anchor="end" textLength="17.67" lengthAdjust="spacingAndGlyphs">25</text>
<text x="252.90" y="26.90" font-size="16.9" text-anchor="middle" textLength="332.83" lengthAdjust="spacingAndGlyphs">NoRP 1GHz Stokes-I on 2006-12-05[JST]</text>
<text transform="translate(51.73,87.60) rotate(-90)" x="0" y="0" font-size="14.1" text-anchor="middle" textLength="71.09" lengthAdjust="spacingAndGlyphs">Flux [SFU]</text>
<rect x="482.5" y="35.5" width="328.0" height="103.0" fill="none" stroke="#000" stroke-width="1.11"/>
<line x1="491.5" y1="138.5" x2="491.5" y2="143.40" stroke="#000" stroke-width="1.11"/>
<text x="491.85" y="158.80" font-size="14.1" text-anchor="middle" textLength="40.03" lengthAdjust="spacingAndGlyphs">22:00</text>
<line x1="524.5" y1="138.5" x2="524.5" y2="143.40" stroke="#000" stroke-width="1.11"/>
<text x="524.98" y="158.80" font-size="14.1" text-anchor="middle" textLength="40.03" lengthAdjust="spacingAndGlyphs">23:00</text>
<line x1="558.5" y1="138.5" x2="558.5" y2="143.40" stroke="#000" stroke-width="1.11"/>
<text x="558.11" y="158.80" font-size="14.1" text-anchor="middle" textLength="40.03" lengthAdjust="spacingAndGlyphs">00:00</text>
<line x1="591.5" y1="138.5" x2="591.5" y2="143.40" stroke="#000" stroke-width="1.11"/>
<text x="591.24" y="158.80" font-size="14.1" text-anchor="middle" textLength="40.03" lengthAdjust="spacingAndGlyphs">01:00</text>
<line x1="624.5" y1="138.5" x2="624.5" y2="143.40" stroke="#000" stroke-width="1.11"/>
<text x="624.37" y="158.80" font-size="14.1" text-anchor="middle" textLength="40.03" lengthAdjust="spacingAndGlyphs">02:00</text>
<line x1="657.5" y1="138.5" x2="657.5" y2="143.40" stroke="#000" stroke-width="1.11"/>
<text x="657.50" y="158.80" font-size="14.1" text-anchor="middle" textLength="40.03" lengthAdjust="spacingAndGlyphs">03:00</text>
<line x1="690.5" y1="138.5" x2="690.5" y2="143.40" stroke="#000" stroke-width="1.11"/>
<text x="690.63" y="158.80" font-size="14.1" text-anchor="middle" textLength="40.03" lengthAdjust="spacingAndGlyphs">04:00</text>
<line x1="723.5" y1="138.5" x2="723.5" y2="143.40" stroke="#000" stroke-width="1.11"/>
<text x="723.76" y="158.80" font-size="14.1" text-anchor="middle" textLength="40.03" lengthAdjust="spacingAndGlyphs">05:00</text>
<line x1="756.5" y1="138.5" x2="756.5" y2="143.40" stroke="#000" stroke-width="1.11"/>
<text x="756.89" y="158.80" font-size="14.1" text-anchor="middle" textLength="40.03" lengthAdjust="spacingAndGlyphs">06:00</text>
<line x1="790.5" y1="138.5" x2="790.5" y2="143.40" stroke="#000" stroke-width="1.11"/>
<text x="790.02" y="158.80" font-size="14.1" text-anchor="middle" textLength="40.03" lengthAdjust="spacingAndGlyphs">07:00</text>
<line x1="482.5" y1="61.5" x2="477.60" y2="61.5" stroke="#000" stroke-width="1.11"/>
<text x="471.10" y="66.40" font-size="14.1" text-anchor="end" textLength="8.84" lengthAdjust="spacingAndGlyphs">4</text>
<line x1="482.5" y1="96.5" x2="477.60" y2="96.5" stroke="#000" stroke-width="1.11"/>
<text x="471.10" y="101.40" font-size="14.1" text-anchor="end" textLength="8.84" lengthAdjust="spacingAndGlyphs">2</text>
<line x1="482.5" y1="131.5" x2="477.60" y2="131.5" stroke="#000" stroke-width="1.11"/>
<text x="471.10" y="136.40" font-size="14.1" text-anchor="end" textLength="8.84" lengthAdjust="spacingAndGlyphs">0</text>
<text x="645.90" y="26.90" font-size="16.9" text-anchor="middle" textLength="171.44" lengthAdjust="spacingAndGlyphs">NoRP 1GHz Stokes-V</text>
<rect x="89.5" y="197.5" width="328.0" height="103.0" fill="none" stroke="#000" stroke-width="1.11"/>
<line x1="98.5" y1="300.5" x2="98.5" y2="305.40" stroke="#000" stroke-width="1.11"/>
<text x="98.60" y="320.77" font-size="14.1" text-anchor="middle" textLength="40.03" lengthAdjust="spacingAndGlyphs">22:00</text>
<line x1="131.5" y1="300.5" x2="131.5" y2="305.40" stroke="#000" stroke-width="1.11"/>
<text x="131.73" y="320.77" font-size="14.1" text-anchor="middle" textLength="40.03" lengthAdjust="spacingAndGlyphs">23:00</text>
<line x1="164.5" y1="300.5" x2="164.5" y2="305.40" stroke="#000" stroke-width="1.11"/>
<text x="164.86" y="320.77" font-size="14.1" text-anchor="middle" textLength="40.03" lengthAdjust="spacingAndGlyphs">00:00</text>
<line x1="197.5" y1="300.5" x2="197.5" y2="305.40" stroke="#000" stroke-width="1.11"/>
<text x="197.99" y="320.77" font-size="14.1" text-anchor="middle" textLength="40.03" lengthAdjust="spacingAndGlyphs">01:00</text>
<line x1="231.5" y1="300.5" x2="231.5" y2="305.40" stroke="#000" stroke-width="1.11"/>
<text x="231.12" y="320.77" font-size="14.1" text-anchor="middle" textLength="40.03" lengthAdjust="spacingAndGlyphs">02:00</text>
<line x1="264.5" y1="300.5" x2="264.5" y2="305.40" stroke="#000" stroke-width="1.11"/>
<text x="264.25" y="320.77" font-size="14.1" text-anchor="middle" textLength="40.03" lengthAdjust="spacingAndGlyphs">03:00</text>
<line x1="297.5" y1="300.5" x2="297.5" y2="305.40" stroke="#000" stroke-width="1.11"/>
<text x="297.38" y="320.77" font-size="14.1" text-anchor="middle" textLength="40.03" lengthAdjust="spacingAndGlyphs">04:00</text>
<line x1="330.5" y1="300.5" x2="330.5" y2="305.40" stroke="#000" stroke-width="1.11"/>
<text x="330.51" y="320.77" font-size="14.1" text-anchor="middle" textLength="40.03" lengthAdjust="spacingAndGlyphs">05:00</text>
<line x1="363.5" y1="300.5" x2="363.5" y2="305.40" stroke="#000" stroke-width="1.11"/>
<text x="363.64" y="320.77" font-size="14.1" text-anchor="middle" textLength="40.03" lengthAdjust="spacingAndGlyphs">06:00</text>
<line x1="396.5" y1="300.5" x2="396.5" y2="305.40" stroke="#000" stroke-width="1.11"/>
<text x="396.77" y="320.77" font-size="14.1" text-anchor="middle" textLength="40.03" lengthAdjust="spacingAndGlyphs">07:00</text>
<line x1="89.5" y1="220.5" x2="84.60" y2="220.5" stroke="#000" stroke-width="1.11"/>
<text x="78.10" y="225.40" font-size="14.1" text-anchor="end" textLength="26.51" lengthAdjust="spacingAndGlyphs">100</text>
<line x1="89.5" y1="264.5" x2="84.60" y2="264.5" stroke="#000" stroke-width="1.11"/>
<text x="78.10" y="269.40" font-size="14.1" text-anchor="end" textLength="17.67" lengthAdjust="spacingAndGlyphs">50</text>
<text x="252.90" y="188.89" font-size="16.9" text-anchor="middle" textLength="165.93" lengthAdjust="spacingAndGlyphs">NoRP 2GHz Stokes-I</text>
<text transform="translate(42.89,249.60) rotate(-90)" x="0" y="0" font-size="14.1" text-anchor="middle" textLength="71.09" lengthAdjust="spacingAndGlyphs">Flux [SFU]</text>
<rect x="482.5" y="197.5" width="328.0" height="103.0" fill="none" stroke="#000" stroke-width="1.11"/>
<line x1="491.5" y1="300.5" x2="491.5" y2="305.40" stroke="#000" stroke-width="1.11"/>
<text x="491.85" y="320.77" font-size="14.1" text-anchor="middle" textLength="40.03" lengthAdjust="spacingAndGlyphs">22:00</text>
<line x1="524.5" y1="300.5" x2="524.5" y2="305.40" stroke="#000" stroke-width="1.11"/>
<text x="524.98" y="320.77" font-size="14.1" text-anchor="middle" textLength="40.03" lengthAdjust="spacingAndGlyphs">23:00</text>
<line x1="558.5" y1="300.5" x2="558.5" y2="305.40" stroke="#000" stroke-width="1.11"/>
<text x="558.11" y="320.77" font-size="14.1" text-anchor="middle" textLength="40.03" lengthAdjust="spacingAndGlyphs">00:00</text>
<line x1="591.5" y1="300.5" x2="591.5" y2="305.40" stroke="#000" stroke-width="1.11"/>
<text x="591.24" y="320.77" font-size="14.1" text-anchor="middle" textLength="40.03" lengthAdjust="spacingAndGlyphs">01:00</text>
<line x1="624.5" y1="300.5" x2="624.5" y2="305.40" stroke="#000" stroke-width="1.11"/>
<text x="624.37" y="320.77" font-size="14.1" text-anchor="middle" textLength="40.03" lengthAdjust="spacingAndGlyphs">02:00</text>
<line x1="657.5" y1="300.5" x2="657.5" y2="305.40" stroke="#000" stroke-width="1.11"/>
<text x="657.50" y="320.77" font-size="14.1" text-anchor="middle" textLength="40.03" lengthAdjust="spacingAndGlyphs">03:00</text>
<line x1="690.5" y1="300.5" x2="690.5" y2="305.40" stroke="#000" stroke-width="1.11"/>
<text x="690.63" y="320.77" font-size="14.1" text-anchor="middle" textLength="40.03" lengthAdjust="spacingAndGlyphs">04:00</text>
<line x1="723.5" y1="300.5" x2="723.5" y2="305.40" stroke="#000" stroke-width="1.11"/>
<text x="723.76" y="320.77" font-size="14.1" text-anchor="middle" textLength="40.03" lengthAdjust="spacingAndGlyphs">05:00</text>
<line x1="756.5" y1="300.5" x2="756.5" y2="305.40" stroke="#000" stroke-width="1.11"/>
<text x="756.89" y="320.77" font-size="14.1" text-anchor="middle" textLength="40.03" lengthAdjust="spacingAndGlyphs">06:00</text>
<line x1="790.5" y1="300.5" x2="790.5" y2="305.40" stroke="#000" stroke-width="1.11"/>
<text x="790.02" y="320.77" font-size="14.1" text-anchor="middle" textLength="40.03" lengthAdjust="spacingAndGlyphs">07:00</text>
<line x1="482.5" y1="207.5" x2="477.60" y2="207.5" stroke="#000" stroke-width="1.11"/>
<text x="471.10" y="212.40" font-size="14.1" text-anchor="end" textLength="8.84" lengthAdjust="spacingAndGlyphs">5</text>
<line x1="482.5" y1="247.5" x2="477.60" y2="247.5" stroke="#000" stroke-width="1.11"/>
<text x="471.10" y="252.40" font-size="14.1" text-anchor="end" textLength="8.84" lengthAdjust="spacingAndGlyphs">0</text>
<line x1="482.5" y1="287.5" x2="477.60" y2="287.5" stroke="#000" stroke-width="1.11"/>
<text x="471.10" y="292.40" font-size="14.1" text-anchor="end" textLength="20.47" lengthAdjust="spacingAndGlyphs">−5</text>
<text x="645.90" y="188.89" font-size="16.9" text-anchor="middle" textLength="171.44" lengthAdjust="spacingAndGlyphs">NoRP 2GHz Stokes-V</text>
<rect x="89.5" y="359.5" width="328.0" height="103.0" fill="none" stroke="#000" stroke-width="1.11"/>
<line x1="98.5" y1="462.5" x2="98.5" y2="467.40" stroke="#000" stroke-width="1.11"/>
<text x="98.60" y="482.74" font-size="14.1" text-anchor="middle" textLength="40.03" lengthAdjust="spacingAndGlyphs">22:00</text>
<line x1="131.5" y1="462.5" x2="131.5" y2="467.40" stroke="#000" stroke-width="1.11"/>
<text x="131.73" y="482.74" font-size="14.1" text-anchor="middle" textLength="40.03" lengthAdjust="spacingAndGlyphs">23:00</text>
<line x1="164.5" y1="462.5" x2="164.5" y2="467.40" stroke="#000" stroke-width="1.11"/>
<text x="164.86" y="482.74" font-size="14.1" text-anchor="middle" textLength="40.03" lengthAdjust="spacingAndGlyphs">00:00</text>
<line x1="197.5" y1="462.5" x2="197.5" y2="467.40" stroke="#000" stroke-width="1.11"/>
<text x="197.99" y="482.74" font-size="14.1" text-anchor="middle" textLength="40.03" lengthAdjust="spacingAndGlyphs">01:00</text>
<line x1="231.5" y1="462.5" x2="231.5" y2="467.40" stroke="#000" stroke-width="1.11"/>
<text x="231.12" y="482.74" font-size="14.1" text-anchor="middle" textLength="40.03" lengthAdjust="spacingAndGlyphs">02:00</text>
<line x1="264.5" y1="462.5" x2="264.5" y2="467.40" stroke="#000" stroke-width="1.11"/>
<text x="264.25" y="482.74" font-size="14.1" text-anchor="middle" textLength="40.03" lengthAdjust="spacingAndGlyphs">03:00</text>
<line x1="297.5" y1="462.5" x2="297.5" y2="467.40" stroke="#000" stroke-width="1.11"/>
<text x="297.38" y="482.74" font-size="14.1" text-anchor="middle" textLength="40.03" lengthAdjust="spacingAndGlyphs">04:00</text>
<line x1="330.5" y1="462.5" x2="330.5" y2="467.40" stroke="#000" stroke-width="1.11"/>
<text x="330.51" y="482.74" font-size="14.1" text-anchor="middle" textLength="40.03" lengthAdjust="spacingAndGlyphs">05:00</text>
<line x1="363.5" y1="462.5" x2="363.5" y2="467.40" stroke="#000" stroke-width="1.11"/>
<text x="363.64" y="482.74" font-size="14.1" text-anchor="middle" textLength="40.03" lengthAdjust="spacingAndGlyphs">06:00</text>
<line x1="396.5" y1="462.5" x2="396.5" y2="467.40" stroke="#000" stroke-width="1.11"/>
<text x="396.77" y="482.74" font-size="14.1" text-anchor="middle" textLength="40.03" lengthAdjust="spacingAndGlyphs">07:00</text>
<line x1="89.5" y1="361.5" x2="84.60" y2="361.5" stroke="#000" stroke-width="1.11"/>
<text x="78.10" y="366.40" font-size="14.1" text-anchor="end" textLength="26.51" lengthAdjust="spacingAndGlyphs">150</text>
<line x1="89.5" y1="397.5" x2="84.60" y2="397.5" stroke="#000" stroke-width="1.11"/>
<text x="78.10" y="402.40" font-size="14.1" text-anchor="end" textLength="26.51" lengthAdjust="spacingAndGlyphs">100</text>
<line x1="89.5" y1="434.5" x2="84.60" y2="434.5" stroke="#000" stroke-width="1.11"/>
<text x="78.10" y="439.40" font-size="14.1" text-anchor="end" textLength="17.67" lengthAdjust="spacingAndGlyphs">50</text>
<text x="252.90" y="350.88" font-size="16.9" text-anchor="middle" textLength="192.44" lengthAdjust="spacingAndGlyphs">NoRP 3.75GHz Stokes-I</text>
<text transform="translate(42.89,411.60) rotate(-90)" x="0" y="0" font-size="14.1" text-anchor="middle" textLength="71.09" lengthAdjust="spacingAndGlyphs">Flux [SFU]</text>
<rect x="482.5" y="359.5" width="328.0" height="103.0" fill="none" stroke="#000" stroke-width="1.11"/>
<line x1="491.5" y1="462.5" x2="491.5" y2="467.40" stroke="#000" stroke-width="1.11"/>
<text x="491.85" y="482.74" font-size="14.1" text-anchor="middle" textLength="40.03" lengthAdjust="spacingAndGlyphs">22:00</text>
<line x1="524.5" y1="462.5" x2="524.5" y2="467.40" stroke="#000" stroke-width="1.11"/>
<text x="524.98" y="482.74" font-size="14.1" text-anchor="middle" textLength="40.03" lengthAdjust="spacingAndGlyphs">23:00</text>
<line x1="558.5" y1="462.5" x2="558.5" y2="467.40" stroke="#000" stroke-width="1.11"/>
<text x="558.11" y="482.74" font-size="14.1" text-anchor="middle" textLength="40.03" lengthAdjust="spacingAndGlyphs">00:00</text>
<line x1="591.5" y1="462.5" x2="591.5" y2="467.40" stroke="#000" stroke-width="1.11"/>
<text x="591.24" y="482.74" font-size="14.1" text-anchor="middle" textLength="40.03" lengthAdjust="spacingAndGlyphs">01:00</text>
<line x1="624.5" y1="462.5" x2="624.5" y2="467.40" stroke="#000" stroke-width="1.11"/>
<text x="624.37" y="482.74" font-size="14.1" text-anchor="middle" textLength="40.03" lengthAdjust="spacingAndGlyphs">02:00</text>
<line x1="657.5" y1="462.5" x2="657.5" y2="467.40" stroke="#000" stroke-width="1.11"/>
<text x="657.50" y="482.74" font-size="14.1" text-anchor="middle" textLength="40.03" lengthAdjust="spacingAndGlyphs">03:00</text>
<line x1="690.5" y1="462.5" x2="690.5" y2="467.40" stroke="#000" stroke-width="1.11"/>
<text x="690.63" y="482.74" font-size="14.1" text-anchor="middle" textLength="40.03" lengthAdjust="spacingAndGlyphs">04:00</text>
<line x1="723.5" y1="462.5" x2="723.5" y2="467.40" stroke="#000" stroke-width="1.11"/>
<text x="723.76" y="482.74" font-size="14.1" text-anchor="middle" textLength="40.03" lengthAdjust="spacingAndGlyphs">05:00</text>
<line x1="756.5" y1="462.5" x2="756.5" y2="467.40" stroke="#000" stroke-width="1.11"/>
<text x="756.89" y="482.74" font-size="14.1" text-anchor="middle" textLength="40.03" lengthAdjust="spacingAndGlyphs">06:00</text>
<line x1="790.5" y1="462.5" x2="790.5" y2="467.40" stroke="#000" stroke-width="1.11"/>
<text x="790.02" y="482.74" font-size="14.1" text-anchor="middle" textLength="40.03" lengthAdjust="spacingAndGlyphs">07:00</text>
<line x1="482.5" y1="393.5" x2="477.60" y2="393.5" stroke="#000" stroke-width="1.11"/>
<text x="471.10" y="398.40" font-size="14.1" text-anchor="end" textLength="8.84" lengthAdjust="spacingAndGlyphs">5</text>
<line x1="482.5" y1="437.5" x2="477.60" y2="437.5" stroke="#000" stroke-width="1.11"/>
<text x="471.10" y="442.40" font-size="14.1" text-anchor="end" textLength="8.84" lengthAdjust="spacingAndGlyphs">0</text>
<text x="645.90" y="350.88" font-size="16.9" text-anchor="middle" textLength="197.95" lengthAdjust="spacingAndGlyphs">NoRP 3.75GHz Stokes-V</text>
<rect x="89.5" y="522.5" width="328.0" height="103.0" fill="none" stroke="#000" stroke-width="1.11"/>
<line x1="98.5" y1="625.5" x2="98.5" y2="630.40" stroke="#000" stroke-width="1.11"/>
<text x="98.60" y="644.71" font-size="14.1" text-anchor="middle" textLength="40.03" lengthAdjust="spacingAndGlyphs">22:00</text>
<line x1="131.5" y1="625.5" x2="131.5" y2="630.40" stroke="#000" stroke-width="1.11"/>
<text x="131.73" y="644.71" font-size="14.1" text-anchor="middle" textLength="40.03" lengthAdjust="spacingAndGlyphs">23:00</text>
<line x1="164.5" y1="625.5" x2="164.5" y2="630.40" stroke="#000" stroke-width="1.11"/>
<text x="164.86" y="644.71" font-size="14.1" text-anchor="middle" textLength="40.03" lengthAdjust="spacingAndGlyphs">00:00</text>
<line x1="197.5" y1="625.5" x2="197.5" y2="630.40" stroke="#000" stroke-width="1.11"/>
<text x="197.99" y="644.71" font-size="14.1" text-anchor="middle" textLength="40.03" lengthAdjust="spacingAndGlyphs">01:00</text>
<line x1="231.5" y1="625.5" x2="231.5" y2="630.40" stroke="#000" stroke-width="1.11"/>
<text x="231.12" y="644.71" font-size="14.1" text-anchor="middle" textLength="40.03" lengthAdjust="spacingAndGlyphs">02:00</text>
<line x1="264.5" y1="625.5" x2="264.5" y2="630.40" stroke="#000" stroke-width="1.11"/>
<text x="264.25" y="644.71" font-size="14.1" text-anchor="middle" textLength="40.03" lengthAdjust="spacingAndGlyphs">03:00</text>
<line x1="297.5" y1="625.5" x2="297.5" y2="630.40" stroke="#000" stroke-width="1.11"/>
<text x="297.38" y="644.71" font-size="14.1" text-anchor="middle" textLength="40.03" lengthAdjust="spacingAndGlyphs">04:00</text>
<line x1="330.5" y1="625.5" x2="330.5" y2="630.40" stroke="#000" stroke-width="1.11"/>
<text x="330.51" y="644.71" font-size="14.1" text-anchor="middle" textLength="40.03" lengthAdjust="spacingAndGlyphs">05:00</text>
<line x1="363.5" y1="625.5" x2="363.5" y2="630.40" stroke="#000" stroke-width="1.11"/>
<text x="363.64" y="644.71" font-size="14.1" text-anchor="middle" textLength="40.03" lengthAdjust="spacingAndGlyphs">06:00</text>
<line x1="396.5" y1="625.5" x2="396.5" y2="630.40" stroke="#000" stroke-width="1.11"/>
<text x="396.77" y="644.71" font-size="14.1" text-anchor="middle" textLength="40.03" lengthAdjust="spacingAndGlyphs">07:00</text>
<line x1="89.5" y1="552.5" x2="84.60" y2="552.5" stroke="#000" stroke-width="1.11"/>
<text x="78.10" y="557.40" font-size="14.1" text-anchor="end" textLength="26.51" lengthAdjust="spacingAndGlyphs">400</text>
<line x1="89.5" y1="589.5" x2="84.60" y2="589.5" stroke="#000" stroke-width="1.11"/>
<text x="78.10" y="594.40" font-size="14.1" text-anchor="end" textLength="26.51" lengthAdjust="spacingAndGlyphs">200</text>
<text x="252.90" y="512.87" font-size="16.9" text-anchor="middle" textLength="181.83" lengthAdjust="spacingAndGlyphs">NoRP 9.4GHz Stokes-I</text>
<text transform="translate(42.89,574.60) rotate(-90)" x="0" y="0" font-size="14.1" text-anchor="middle" textLength="71.09" lengthAdjust="spacingAndGlyphs">Flux [SFU]</text>
<rect x="482.5" y="522.5" width="328.0" height="103.0" fill="none" stroke="#000" stroke-width="1.11"/>
<line x1="491.5" y1="625.5" x2="491.5" y2="630.40" stroke="#000" stroke-width="1.11"/>
<text x="491.85" y="644.71" font-size="14.1" text-anchor="middle" textLength="40.03" lengthAdjust="spacingAndGlyphs">22:00</text>
<line x1="524.5" y1="625.5" x2="524.5" y2="630.40" stroke="#000" stroke-width="1.11"/>
<text x="524.98" y="644.71" font-size="14.1" text-anchor="middle" textLength="40.03" lengthAdjust="spacingAndGlyphs">23:00</text>
<line x1="558.5" y1="625.5" x2="558.5" y2="630.40" stroke="#000" stroke-width="1.11"/>
<text x="558.11" y="644.71" font-size="14.1" text-anchor="middle" textLength="40.03" lengthAdjust="spacingAndGlyphs">00:00</text>
<line x1="591.5" y1="625.5" x2="591.5" y2="630.40" stroke="#000" stroke-width="1.11"/>
<text x="591.24" y="644.71" font-size="14.1" text-anchor="middle" textLength="40.03" lengthAdjust="spacingAndGlyphs">01:00</text>
<line x1="624.5" y1="625.5" x2="624.5" y2="630.40" stroke="#000" stroke-width="1.11"/>
<text x="624.37" y="644.71" font-size="14.1" text-anchor="middle" textLength="40.03" lengthAdjust="spacingAndGlyphs">02:00</text>
<line x1="657.5" y1="625.5" x2="657.5" y2="630.40" stroke="#000" stroke-width="1.11"/>
<text x="657.50" y="644.71" font-size="14.1" text-anchor="middle" textLength="40.03" lengthAdjust="spacingAndGlyphs">03:00</text>
<line x1="690.5" y1="625.5" x2="690.5" y2="630.40" stroke="#000" stroke-width="1.11"/>
<text x="690.63" y="644.71" font-size="14.1" text-anchor="middle" textLength="40.03" lengthAdjust="spacingAndGlyphs">04:00</text>
<line x1="723.5" y1="625.5" x2="723.5" y2="630.40" stroke="#000" stroke-width="1.11"/>
<text x="723.76" y="644.71" font-size="14.1" text-anchor="middle" textLength="40.03" lengthAdjust="spacingAndGlyphs">05:00</text>
<line x1="756.5" y1="625.5" x2="756.5" y2="630.40" stroke="#000" stroke-width="1.11"/>
<text x="756.89" y="644.71" font-size="14.1" text-anchor="middle" textLength="40.03" lengthAdjust="spacingAndGlyphs">06:00</text>
<line x1="790.5" y1="625.5" x2="790.5" y2="630.40" stroke="#000" stroke-width="1.11"/>
<text x="790.02" y="644.71" font-size="14.1" text-anchor="middle" textLength="40.03" lengthAdjust="spacingAndGlyphs">07:00</text>
<line x1="482.5" y1="572.5" x2="477.60" y2="572.5" stroke="#000" stroke-width="1.11"/>
<text x="471.10" y="577.40" font-size="14.1" text-anchor="end" textLength="8.84" lengthAdjust="spacingAndGlyphs">0</text>
<line x1="482.5" y1="623.5" x2="477.60" y2="623.5" stroke="#000" stroke-width="1.11"/>
<text x="471.10" y="628.40" font-size="14.1" text-anchor="end" textLength="38.15" lengthAdjust="spacingAndGlyphs">−200</text>
<text x="645.90" y="512.87" font-size="16.9" text-anchor="middle" textLength="187.34" lengthAdjust="spacingAndGlyphs">NoRP 9.4GHz Stokes-V</text>
<rect x="89.5" y="684.5" width="328.0" height="103.0" fill="none" stroke="#000" stroke-width="1.11"/>
<line x1="98.5" y1="787.5" x2="98.5" y2="792.40" stroke="#000" stroke-width="1.11"/>
<text x="98.60" y="806.68" font-size="14.1" text-anchor="middle" textLength="40.03" lengthAdjust="spacingAndGlyphs">22:00</text>
<line x1="131.5" y1="787.5" x2="131.5" y2="792.40" stroke="#000" stroke-width="1.11"/>
<text x="131.73" y="806.68" font-size="14.1" text-anchor="middle" textLength="40.03" lengthAdjust="spacingAndGlyphs">23:00</text>
<line x1="164.5" y1="787.5" x2="164.5" y2="792.40" stroke="#000" stroke-width="1.11"/>
<text x="164.86" y="806.68" font-size="14.1" text-anchor="middle" textLength="40.03" lengthAdjust="spacingAndGlyphs">00:00</text>
<line x1="197.5" y1="787.5" x2="197.5" y2="792.40" stroke="#000" stroke-width="1.11"/>
<text x="197.99" y="806.68" font-size="14.1" text-anchor="middle" textLength="40.03" lengthAdjust="spacingAndGlyphs">01:00</text>
<line x1="231.5" y1="787.5" x2="231.5" y2="792.40" stroke="#000" stroke-width="1.11"/>
<text x="231.12" y="806.68" font-size="14.1" text-anchor="middle" textLength="40.03" lengthAdjust="spacingAndGlyphs">02:00</text>
<line x1="264.5" y1="787.5" x2="264.5" y2="792.40" stroke="#000" stroke-width="1.11"/>
<text x="264.25" y="806.68" font-size="14.1" text-anchor="middle" textLength="40.03" lengthAdjust="spacingAndGlyphs">03:00</text>
<line x1="297.5" y1="787.5" x2="297.5" y2="792.40" stroke="#000" stroke-width="1.11"/>
<text x="297.38" y="806.68" font-size="14.1" text-anchor="middle" textLength="40.03" lengthAdjust="spacingAndGlyphs">04:00</text>
<line x1="330.5" y1="787.5" x2="330.5" y2="792.40" stroke="#000" stroke-width="1.11"/>
<text x="330.51" y="806.68" font-size="14.1" text-anchor="middle" textLength="40.03" lengthAdjust="spacingAndGlyphs">05:00</text>
<line x1="363.5" y1="787.5" x2="363.5" y2="792.40" stroke="#000" stroke-width="1.11"/>
<text x="363.64" y="806.68" font-size="14.1" text-anchor="middle" textLength="40.03" lengthAdjust="spacingAndGlyphs">06:00</text>
<line x1="396.5" y1="787.5" x2="396.5" y2="792.40" stroke="#000" stroke-width="1.11"/>
<text x="396.77" y="806.68" font-size="14.1" text-anchor="middle" textLength="40.03" lengthAdjust="spacingAndGlyphs">07:00</text>
<line x1="89.5" y1="733.5" x2="84.60" y2="733.5" stroke="#000" stroke-width="1.11"/>
<text x="78.10" y="738.40" font-size="14.1" text-anchor="end" textLength="26.51" lengthAdjust="spacingAndGlyphs">500</text>
<line x1="89.5" y1="787.5" x2="84.60" y2="787.5" stroke="#000" stroke-width="1.11"/>
<text x="78.10" y="792.40" font-size="14.1" text-anchor="end" textLength="8.84" lengthAdjust="spacingAndGlyphs">0</text>
<text x="252.90" y="674.86" font-size="16.9" text-anchor="middle" textLength="176.53" lengthAdjust="spacingAndGlyphs">NoRP 17GHz Stokes-I</text>
<text transform="translate(42.89,736.60) rotate(-90)" x="0" y="0" font-size="14.1" text-anchor="middle" textLength="71.09" lengthAdjust="spacingAndGlyphs">Flux [SFU]</text>
<rect x="482.5" y="684.5" width="328.0" height="103.0" fill="none" stroke="#000" stroke-width="1.11"/>
<line x1="491.5" y1="787.5" x2="491.5" y2="792.40" stroke="#000" stroke-width="1.11"/>
<text x="491.85" y="806.68" font-size="14.1" text-anchor="middle" textLength="40.03" lengthAdjust="spacingAndGlyphs">22:00</text>
<line x1="524.5" y1="787.5" x2="524.5" y2="792.40" stroke="#000" stroke-width="1.11"/>
<text x="524.98" y="806.68" font-size="14.1" text-anchor="middle" textLength="40.03" lengthAdjust="spacingAndGlyphs">23:00</text>
<line x1="558.5" y1="787.5" x2="558.5" y2="792.40" stroke="#000" stroke-width="1.11"/>
<text x="558.11" y="806.68" font-size="14.1" text-anchor="middle" textLength="40.03" lengthAdjust="spacingAndGlyphs">00:00</text>
<line x1="591.5" y1="787.5" x2="591.5" y2="792.40" stroke="#000" stroke-width="1.11"/>
<text x="591.24" y="806.68" font-size="14.1" text-anchor="middle" textLength="40.03" lengthAdjust="spacingAndGlyphs">01:00</text>
<line x1="624.5" y1="787.5" x2="624.5" y2="792.40" stroke="#000" stroke-width="1.11"/>
<text x="624.37" y="806.68" font-size="14.1" text-anchor="middle" textLength="40.03" lengthAdjust="spacingAndGlyphs">02:00</text>
<line x1="657.5" y1="787.5" x2="657.5" y2="792.40" stroke="#000" stroke-width="1.11"/>
<text x="657.50" y="806.68" font-size="14.1" text-anchor="middle" textLength="40.03" lengthAdjust="spacingAndGlyphs">03:00</text>
<line x1="690.5" y1="787.5" x2="690.5" y2="792.40" stroke="#000" stroke-width="1.11"/>
<text x="690.63" y="806.68" font-size="14.1" text-anchor="middle" textLength="40.03" lengthAdjust="spacingAndGlyphs">04:00</text>
<line x1="723.5" y1="787.5" x2="723.5" y2="792.40" stroke="#000" stroke-width="1.11"/>
<text x="723.76" y="806.68" font-size="14.1" text-anchor="middle" textLength="40.03" lengthAdjust="spacingAndGlyphs">05:00</text>
<line x1="756.5" y1="787.5" x2="756.5" y2="792.40" stroke="#000" stroke-width="1.11"/>
<text x="756.89" y="806.68" font-size="14.1" text-anchor="middle" textLength="40.03" lengthAdjust="spacingAndGlyphs">06:00</text>
<line x1="790.5" y1="787.5" x2="790.5" y2="792.40" stroke="#000" stroke-width="1.11"/>
<text x="790.02" y="806.68" font-size="14.1" text-anchor="middle" textLength="40.03" lengthAdjust="spacingAndGlyphs">07:00</text>
<line x1="482.5" y1="688.5" x2="477.60" y2="688.5" stroke="#000" stroke-width="1.11"/>
<text x="471.10" y="693.40" font-size="14.1" text-anchor="end" textLength="17.67" lengthAdjust="spacingAndGlyphs">50</text>
<line x1="482.5" y1="725.5" x2="477.60" y2="725.5" stroke="#000" stroke-width="1.11"/>
<text x="471.10" y="730.40" font-size="14.1" text-anchor="end" textLength="17.67" lengthAdjust="spacingAndGlyphs">25</text>
<line x1="482.5" y1="762.5" x2="477.60" y2="762.5" stroke="#000" stroke-width="1.11"/>
<text x="471.10" y="767.40" font-size="14.1" text-anchor="end" textLength="8.84" lengthAdjust="spacingAndGlyphs">0</text>
<text x="645.90" y="674.86" font-size="16.9" text-anchor="middle" textLength="182.04" lengthAdjust="spacingAndGlyphs">NoRP 17GHz Stokes-V</text>
<rect x="89.5" y="846.5" width="328.0" height="103.0" fill="none" stroke="#000" stroke-width="1.11"/>
<line x1="98.5" y1="949.5" x2="98.5" y2="954.40" stroke="#000" stroke-width="1.11"/>
<text x="98.60" y="968.65" font-size="14.1" text-anchor="middle" textLength="40.03" lengthAdjust="spacingAndGlyphs">22:00</text>
<line x1="131.5" y1="949.5" x2="131.5" y2="954.40" stroke="#000" stroke-width="1.11"/>
<text x="131.73" y="968.65" font-size="14.1" text-anchor="middle" textLength="40.03" lengthAdjust="spacingAndGlyphs">23:00</text>
<line x1="164.5" y1="949.5" x2="164.5" y2="954.40" stroke="#000" stroke-width="1.11"/>
<text x="164.86" y="968.65" font-size="14.1" text-anchor="middle" textLength="40.03" lengthAdjust="spacingAndGlyphs">00:00</text>
<line x1="197.5" y1="949.5" x2="197.5" y2="954.40" stroke="#000" stroke-width="1.11"/>
<text x="197.99" y="968.65" font-size="14.1" text-anchor="middle" textLength="40.03" lengthAdjust="spacingAndGlyphs">01:00</text>
<line x1="231.5" y1="949.5" x2="231.5" y2="954.40" stroke="#000" stroke-width="1.11"/>
<text x="231.12" y="968.65" font-size="14.1" text-anchor="middle" textLength="40.03" lengthAdjust="spacingAndGlyphs">02:00</text>
<line x1="264.5" y1="949.5" x2="264.5" y2="954.40" stroke="#000" stroke-width="1.11"/>
<text x="264.25" y="968.65" font-size="14.1" text-anchor="middle" textLength="40.03" lengthAdjust="spacingAndGlyphs">03:00</text>
<line x1="297.5" y1="949.5" x2="297.5" y2="954.40" stroke="#000" stroke-width="1.11"/>
<text x="297.38" y="968.65" font-size="14.1" text-anchor="middle" textLength="40.03" lengthAdjust="spacingAndGlyphs">04:00</text>
<line x1="330.5" y1="949.5" x2="330.5" y2="954.40" stroke="#000" stroke-width="1.11"/>
<text x="330.51" y="968.65" font-size="14.1" text-anchor="middle" textLength="40.03" lengthAdjust="spacingAndGlyphs">05:00</text>
<line x1="363.5" y1="949.5" x2="363.5" y2="954.40" stroke="#000" stroke-width="1.11"/>
<text x="363.64" y="968.65" font-size="14.1" text-anchor="middle" textLength="40.03" lengthAdjust="spacingAndGlyphs">06:00</text>
<line x1="396.5" y1="949.5" x2="396.5" y2="954.40" stroke="#000" stroke-width="1.11"/>
<text x="396.77" y="968.65" font-size="14.1" text-anchor="middle" textLength="40.03" lengthAdjust="spacingAndGlyphs">07:00</text>
<line x1="89.5" y1="867.5" x2="84.60" y2="867.5" stroke="#000" stroke-width="1.11"/>
<text x="78.10" y="872.40" font-size="14.1" text-anchor="end" textLength="35.35" lengthAdjust="spacingAndGlyphs">3000</text>
<line x1="89.5" y1="923.5" x2="84.60" y2="923.5" stroke="#000" stroke-width="1.11"/>
<text x="78.10" y="928.40" font-size="14.1" text-anchor="end" textLength="35.35" lengthAdjust="spacingAndGlyphs">2000</text>
<text x="252.90" y="836.85" font-size="16.9" text-anchor="middle" textLength="176.53" lengthAdjust="spacingAndGlyphs">NoRP 35GHz Stokes-I</text>
<text transform="translate(34.05,898.60) rotate(-90)" x="0" y="0" font-size="14.1" text-anchor="middle" textLength="71.09" lengthAdjust="spacingAndGlyphs">Flux [SFU]</text>
<rect x="482.5" y="846.5" width="328.0" height="103.0" fill="none" stroke="#000" stroke-width="1.11"/>
<line x1="491.5" y1="949.5" x2="491.5" y2="954.40" stroke="#000" stroke-width="1.11"/>
<text x="491.85" y="968.65" font-size="14.1" text-anchor="middle" textLength="40.03" lengthAdjust="spacingAndGlyphs">22:00</text>
<line x1="524.5" y1="949.5" x2="524.5" y2="954.40" stroke="#000" stroke-width="1.11"/>
<text x="524.98" y="968.65" font-size="14.1" text-anchor="middle" textLength="40.03" lengthAdjust="spacingAndGlyphs">23:00</text>
<line x1="558.5" y1="949.5" x2="558.5" y2="954.40" stroke="#000" stroke-width="1.11"/>
<text x="558.11" y="968.65" font-size="14.1" text-anchor="middle" textLength="40.03" lengthAdjust="spacingAndGlyphs">00:00</text>
<line x1="591.5" y1="949.5" x2="591.5" y2="954.40" stroke="#000" stroke-width="1.11"/>
<text x="591.24" y="968.65" font-size="14.1" text-anchor="middle" textLength="40.03" lengthAdjust="spacingAndGlyphs">01:00</text>
<line x1="624.5" y1="949.5" x2="624.5" y2="954.40" stroke="#000" stroke-width="1.11"/>
<text x="624.37" y="968.65" font-size="14.1" text-anchor="middle" textLength="40.03" lengthAdjust="spacingAndGlyphs">02:00</text>
<line x1="657.5" y1="949.5" x2="657.5" y2="954.40" stroke="#000" stroke-width="1.11"/>
<text x="657.50" y="968.65" font-size="14.1" text-anchor="middle" textLength="40.03" lengthAdjust="spacingAndGlyphs">03:00</text>
<line x1="690.5" y1="949.5" x2="690.5" y2="954.40" stroke="#000" stroke-width="1.11"/>
<text x="690.63" y="968.65" font-size="14.1" text-anchor="middle" textLength="40.03" lengthAdjust="spacingAndGlyphs">04:00</text>
<line x1="723.5" y1="949.5" x2="723.5" y2="954.40" stroke="#000" stroke-width="1.11"/>
<text x="723.76" y="968.65" font-size="14.1" text-anchor="middle" textLength="40.03" lengthAdjust="spacingAndGlyphs">05:00</text>
<line x1="756.5" y1="949.5" x2="756.5" y2="954.40" stroke="#000" stroke-width="1.11"/>
<text x="756.89" y="968.65" font-size="14.1" text-anchor="middle" textLength="40.03" lengthAdjust="spacingAndGlyphs">06:00</text>
<line x1="790.5" y1="949.5" x2="790.5" y2="954.40" stroke="#000" stroke-width="1.11"/>
<text x="790.02" y="968.65" font-size="14.1" text-anchor="middle" textLength="40.03" lengthAdjust="spacingAndGlyphs">07:00</text>
<line x1="482.5" y1="859.5" x2="477.60" y2="859.5" stroke="#000" stroke-width="1.11"/>
<text x="471.10" y="864.40" font-size="14.1" text-anchor="end" textLength="17.67" lengthAdjust="spacingAndGlyphs">25</text>
<line x1="482.5" y1="890.5" x2="477.60" y2="890.5" stroke="#000" stroke-width="1.11"/>
<text x="471.10" y="895.40" font-size="14.1" text-anchor="end" textLength="8.84" lengthAdjust="spacingAndGlyphs">0</text>
<line x1="482.5" y1="921.5" x2="477.60" y2="921.5" stroke="#000" stroke-width="1.11"/>
<text x="471.10" y="926.40" font-size="14.1" text-anchor="end" textLength="29.31" lengthAdjust="spacingAndGlyphs">−25</text>
<text x="645.90" y="836.85" font-size="16.9" text-anchor="middle" textLength="182.04" lengthAdjust="spacingAndGlyphs">NoRP 35GHz Stokes-V</text>
<rect x="89.5" y="1008.5" width="328.0" height="103.0" fill="none" stroke="#000" stroke-width="1.11"/>
<line x1="98.5" y1="1111.5" x2="98.5" y2="1116.40" stroke="#000" stroke-width="1.11"/>
<text x="98.60" y="1130.62" font-size="14.1" text-anchor="middle" textLength="40.03" lengthAdjust="spacingAndGlyphs">22:00</text>
<line x1="131.5" y1="1111.5" x2="131.5" y2="1116.40" stroke="#000" stroke-width="1.11"/>
<text x="131.73" y="1130.62" font-size="14.1" text-anchor="middle" textLength="40.03" lengthAdjust="spacingAndGlyphs">23:00</text>
<line x1="164.5" y1="1111.5" x2="164.5" y2="1116.40" stroke="#000" stroke-width="1.11"/>
<text x="164.86" y="1130.62" font-size="14.1" text-anchor="middle" textLength="40.03" lengthAdjust="spacingAndGlyphs">00:00</text>
<line x1="197.5" y1="1111.5" x2="197.5" y2="1116.40" stroke="#000" stroke-width="1.11"/>
<text x="197.99" y="1130.62" font-size="14.1" text-anchor="middle" textLength="40.03" lengthAdjust="spacingAndGlyphs">01:00</text>
<line x1="231.5" y1="1111.5" x2="231.5" y2="1116.40" stroke="#000" stroke-width="1.11"/>
<text x="231.12" y="1130.62" font-size="14.1" text-anchor="middle" textLength="40.03" lengthAdjust="spacingAndGlyphs">02:00</text>
<line x1="264.5" y1="1111.5" x2="264.5" y2="1116.40" stroke="#000" stroke-width="1.11"/>
<text x="264.25" y="1130.62" font-size="14.1" text-anchor="middle" textLength="40.03" lengthAdjust="spacingAndGlyphs">03:00</text>
<line x1="297.5" y1="1111.5" x2="297.5" y2="1116.40" stroke="#000" stroke-width="1.11"/>
<text x="297.38" y="1130.62" font-size="14.1" text-anchor="middle" textLength="40.03" lengthAdjust="spacingAndGlyphs">04:00</text>
<line x1="330.5" y1="1111.5" x2="330.5" y2="1116.40" stroke="#000" stroke-width="1.11"/>
<text x="330.51" y="1130.62" font-size="14.1" text-anchor="middle" textLength="40.03" lengthAdjust="spacingAndGlyphs">05:00</text>
<line x1="363.5" y1="1111.5" x2="363.5" y2="1116.40" stroke="#000" stroke-width="1.11"/>
<text x="363.64" y="1130.62" font-size="14.1" text-anchor="middle" textLength="40.03" lengthAdjust="spacingAndGlyphs">06:00</text>
<line x1="396.5" y1="1111.5" x2="396.5" y2="1116.40" stroke="#000" stroke-width="1.11"/>
<text x="396.77" y="1130.62" font-size="14.1" text-anchor="middle" textLength="40.03" lengthAdjust="spacingAndGlyphs">07:00</text>
<line x1="89.5" y1="1013.5" x2="84.60" y2="1013.5" stroke="#000" stroke-width="1.11"/>
<text x="78.10" y="1018.40" font-size="14.1" text-anchor="end" textLength="44.18" lengthAdjust="spacingAndGlyphs">10000</text>
<line x1="89.5" y1="1049.5" x2="84.60" y2="1049.5" stroke="#000" stroke-width="1.11"/>
<text x="78.10" y="1054.40" font-size="14.1" text-anchor="end" textLength="35.35" lengthAdjust="spacingAndGlyphs">8000</text>
<line x1="89.5" y1="1086.5" x2="84.60" y2="1086.5" stroke="#000" stroke-width="1.11"/>
<text x="78.10" y="1091.40" font-size="14.1" text-anchor="end" textLength="35.35" lengthAdjust="spacingAndGlyphs">6000</text>
<text x="252.90" y="998.84" font-size="16.9" text-anchor="middle" textLength="176.53" lengthAdjust="spacingAndGlyphs">NoRP 80GHz Stokes-I</text>
<text transform="translate(25.22,1060.60) rotate(-90)" x="0" y="0" font-size="14.1" text-anchor="middle" textLength="71.09" lengthAdjust="spacingAndGlyphs">Flux [SFU]</text>
<text x="253.50" y="1150.50" font-size="14.1" text-anchor="middle" textLength="63.48" lengthAdjust="spacingAndGlyphs">Time[UT]</text>
<rect x="482.5" y="1008.5" width="328.0" height="103.0" fill="none" stroke="#000" stroke-width="1.11"/>
<line x1="491.5" y1="1111.5" x2="491.5" y2="1116.40" stroke="#000" stroke-width="1.11"/>
<text x="491.85" y="1130.62" font-size="14.1" text-anchor="middle" textLength="40.03" lengthAdjust="spacingAndGlyphs">22:00</text>
<line x1="524.5" y1="1111.5" x2="524.5" y2="1116.40" stroke="#000" stroke-width="1.11"/>
<text x="524.98" y="1130.62" font-size="14.1" text-anchor="middle" textLength="40.03" lengthAdjust="spacingAndGlyphs">23:00</text>
<line x1="558.5" y1="1111.5" x2="558.5" y2="1116.40" stroke="#000" stroke-width="1.11"/>
<text x="558.11" y="1130.62" font-size="14.1" text-anchor="middle" textLength="40.03" lengthAdjust="spacingAndGlyphs">00:00</text>
<line x1="591.5" y1="1111.5" x2="591.5" y2="1116.40" stroke="#000" stroke-width="1.11"/>
<text x="591.24" y="1130.62" font-size="14.1" text-anchor="middle" textLength="40.03" lengthAdjust="spacingAndGlyphs">01:00</text>
<line x1="624.5" y1="1111.5" x2="624.5" y2="1116.40" stroke="#000" stroke-width="1.11"/>
<text x="624.37" y="1130.62" font-size="14.1" text-anchor="middle" textLength="40.03" lengthAdjust="spacingAndGlyphs">02:00</text>
<line x1="657.5" y1="1111.5" x2="657.5" y2="1116.40" stroke="#000" stroke-width="1.11"/>
<text x="657.50" y="1130.62" font-size="14.1" text-anchor="middle" textLength="40.03" lengthAdjust="spacingAndGlyphs">03:00</text>
<line x1="690.5" y1="1111.5" x2="690.5" y2="1116.40" stroke="#000" stroke-width="1.11"/>
<text x="690.63" y="1130.62" font-size="14.1" text-anchor="middle" textLength="40.03" lengthAdjust="spacingAndGlyphs">04:00</text>
<line x1="723.5" y1="1111.5" x2="723.5" y2="1116.40" stroke="#000" stroke-width="1.11"/>
<text x="723.76" y="1130.62" font-size="14.1" text-anchor="middle" textLength="40.03" lengthAdjust="spacingAndGlyphs">05:00</text>
<line x1="756.5" y1="1111.5" x2="756.5" y2="1116.40" stroke="#000" stroke-width="1.11"/>
<text x="756.89" y="1130.62" font-size="14.1" text-anchor="middle" textLength="40.03" lengthAdjust="spacingAndGlyphs">06:00</text>
<line x1="790.5" y1="1111.5" x2="790.5" y2="1116.40" stroke="#000" stroke-width="1.11"/>
<text x="790.02" y="1130.62" font-size="14.1" text-anchor="middle" textLength="40.03" lengthAdjust="spacingAndGlyphs">07:00</text>
<line x1="482.5" y1="1012.5" x2="477.60" y2="1012.5" stroke="#000" stroke-width="1.11"/>
<text x="471.10" y="1017.40" font-size="14.1" text-anchor="end" textLength="26.51" lengthAdjust="spacingAndGlyphs">100</text>
<line x1="482.5" y1="1058.5" x2="477.60" y2="1058.5" stroke="#000" stroke-width="1.11"/>
<text x="471.10" y="1063.40" font-size="14.1" text-anchor="end" textLength="8.84" lengthAdjust="spacingAndGlyphs">0</text>
<line x1="482.5" y1="1104.5" x2="477.60" y2="1104.5" stroke="#000" stroke-width="1.11"/>
<text x="471.10" y="1109.40" font-size="14.1" text-anchor="end" textLength="38.15" lengthAdjust="spacingAndGlyphs">−100</text>
<text x="645.90" y="998.84" font-size="16.9" text-anchor="middle" textLength="182.04" lengthAdjust="spacingAndGlyphs">NoRP 80GHz Stokes-V</text>
<text x="646.50" y="1150.50" font-size="14.1" text-anchor="middle" textLength="63.48" lengthAdjust="spacingAndGlyphs">Time[UT]</text>
</g>
</svg></body></html>
